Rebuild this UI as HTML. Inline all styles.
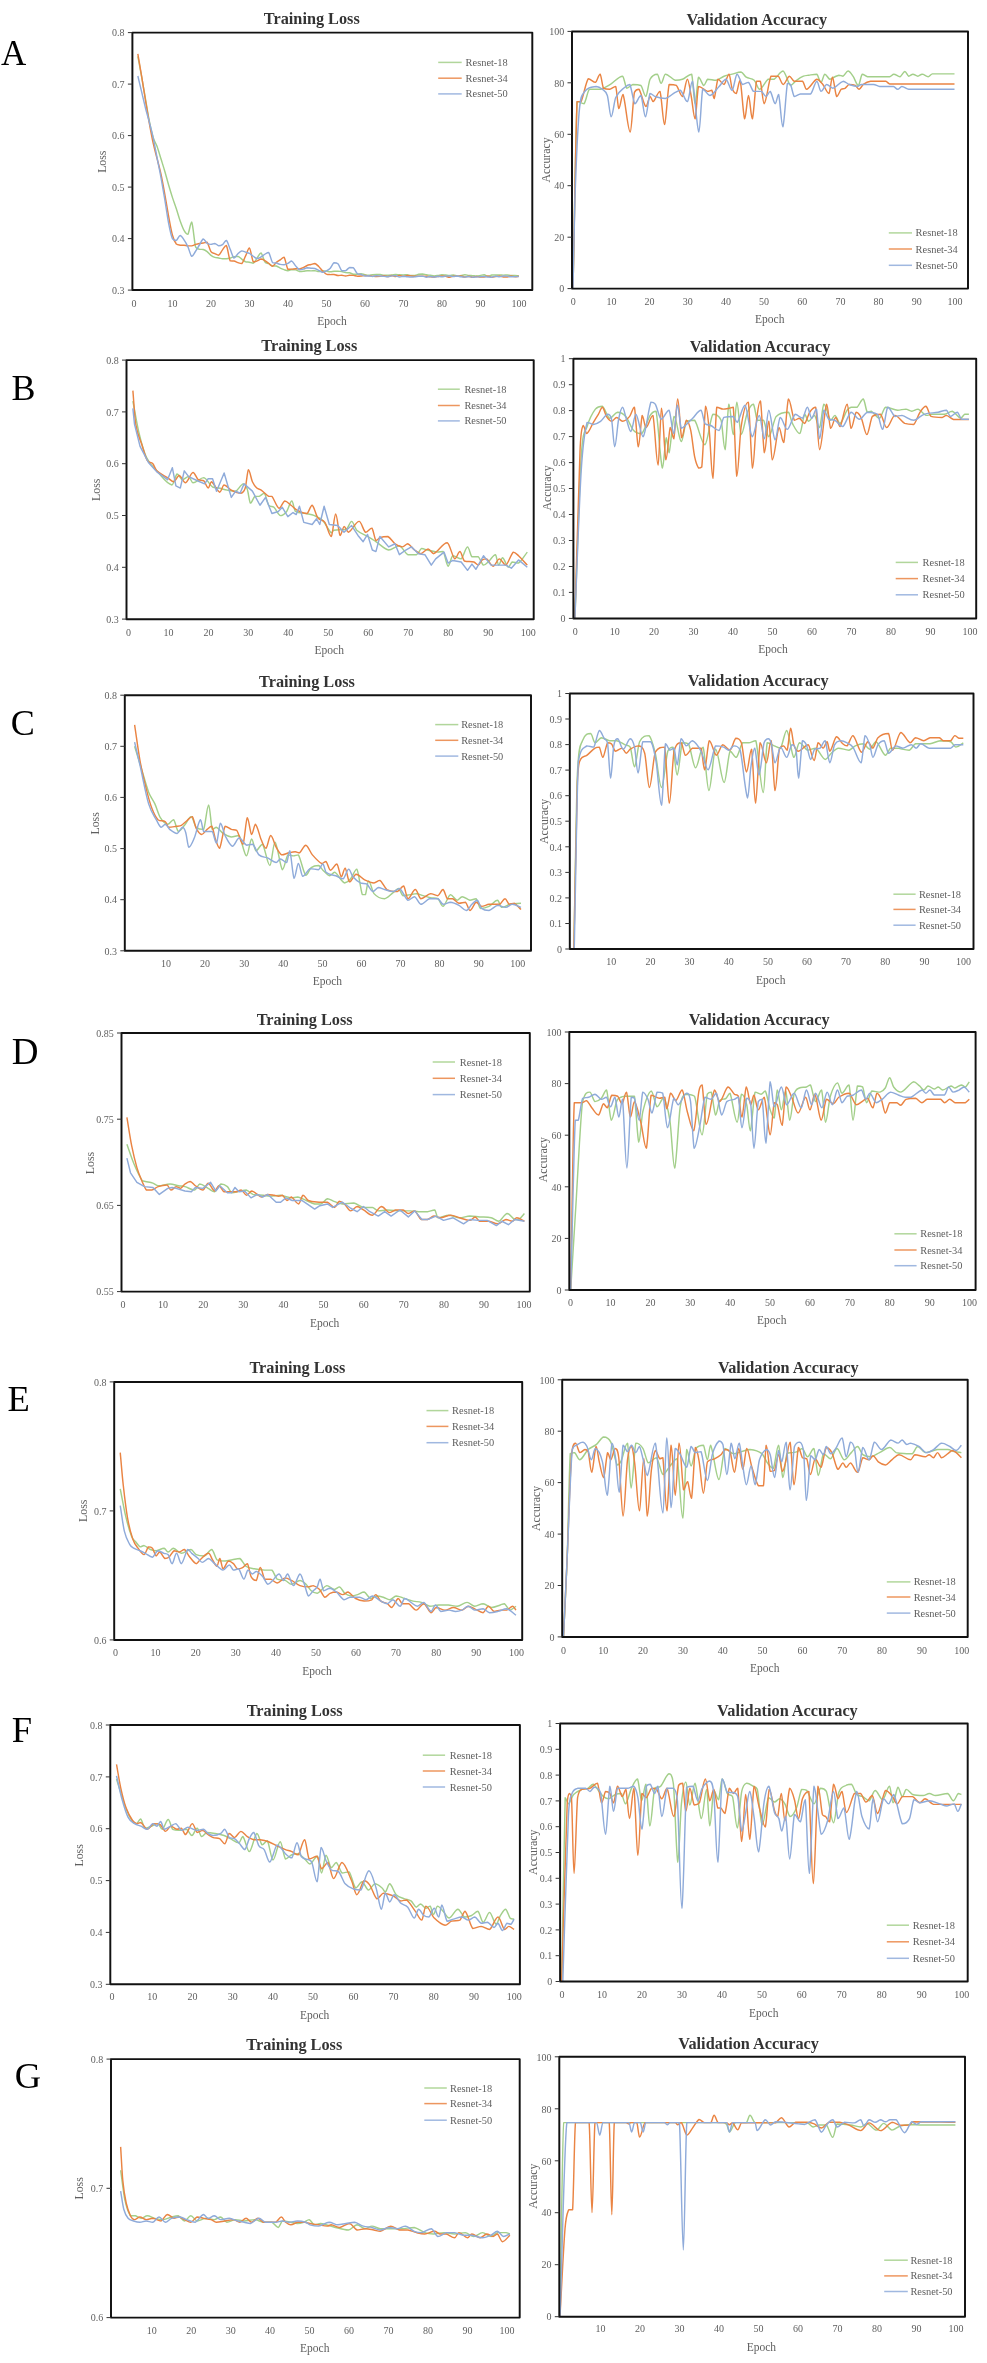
<!DOCTYPE html><html><head><meta charset="utf-8"><style>html,body{margin:0;padding:0;background:#fff;width:987px;height:2363px;overflow:hidden}svg{display:block;filter:blur(0.35px)}text{font-family:"Liberation Serif",serif}</style></head><body>
<svg width="987" height="2363" viewBox="0 0 987 2363">
<rect width="987" height="2363" fill="#fff"/>
<text x="0.9" y="64.8" font-size="35.0" fill="#000">A</text>
<text x="11.4" y="399.7" font-size="36.0" fill="#000">B</text>
<text x="10.8" y="734.6" font-size="36.0" fill="#000">C</text>
<text x="11.8" y="1063.8" font-size="37.0" fill="#000">D</text>
<text x="7.6" y="1410.9" font-size="36.5" fill="#000">E</text>
<text x="11.8" y="1742.1" font-size="36.5" fill="#000">F</text>
<text x="14.8" y="2088.0" font-size="36.5" fill="#000">G</text>
<g><clipPath id="cAL"><rect x="132.4" y="31.6" width="399.9" height="258.4"/></clipPath><path d="M137.85 56.26 C139.13 63.19 140.41 69.87 141.70 77.05 C142.98 84.23 144.26 91.91 145.54 99.32 C146.83 106.72 148.11 115.07 149.39 121.47 C150.67 127.86 151.96 133.51 153.24 137.68 C154.52 141.85 155.81 142.98 157.09 146.50 C158.37 150.02 159.65 154.68 160.94 158.79 C162.22 162.91 163.50 166.82 164.78 171.19 C166.07 175.56 167.35 180.58 168.63 184.99 C169.91 189.40 171.20 193.67 172.48 197.62 C173.76 201.57 175.05 204.80 176.33 208.68 C177.61 212.57 178.89 217.34 180.18 220.94 C181.46 224.54 182.74 228.05 184.02 230.27 C185.31 232.48 186.59 234.25 187.87 234.25 C189.15 232.89 190.44 222.09 191.72 222.09 C193.00 224.19 194.29 242.30 195.57 246.83 C196.85 249.29 198.13 248.84 199.42 249.29 C200.70 249.50 201.98 249.29 203.26 249.50 C204.55 249.90 205.83 250.68 207.11 251.65 C208.39 252.62 209.68 254.36 210.96 255.32 C212.24 256.28 213.53 256.95 214.81 257.39 C216.09 257.84 217.37 257.75 218.66 257.98 C219.94 258.21 221.22 258.65 222.50 258.79 C223.79 258.79 225.07 258.79 226.35 258.79 C227.63 258.67 228.92 258.42 230.20 258.07 C231.48 257.71 232.77 256.94 234.05 256.66 C235.33 256.37 236.61 256.36 237.90 256.36 C239.18 256.76 240.46 258.18 241.74 259.09 C243.03 259.99 244.31 261.26 245.59 261.78 C246.87 262.19 248.16 261.95 249.44 262.19 C250.72 262.42 252.01 263.19 253.29 263.19 C254.57 262.50 255.85 259.75 257.14 258.04 C258.42 256.33 259.70 252.91 260.98 252.91 C262.27 253.53 263.55 259.94 264.83 261.74 C266.11 263.54 267.40 263.02 268.68 263.70 C269.96 264.39 271.25 265.47 272.53 265.85 C273.81 265.98 275.09 265.85 276.38 265.98 C277.66 266.37 278.94 267.54 280.22 268.15 C281.51 268.76 282.79 269.22 284.07 269.64 C285.35 270.07 286.64 270.70 287.92 270.70 C289.20 270.66 290.49 269.55 291.77 269.41 C293.05 269.41 294.33 269.52 295.62 269.86 C296.90 270.20 298.18 271.20 299.46 271.43 C300.75 271.43 302.03 271.37 303.31 271.25 C304.59 271.13 305.88 270.76 307.16 270.70 C308.44 270.70 309.73 270.89 311.01 270.89 C312.29 270.88 313.57 270.64 314.86 270.64 C316.14 270.76 317.42 271.56 318.70 271.60 C319.99 271.60 321.27 270.92 322.55 270.84 C323.83 270.84 325.12 270.97 326.40 271.14 C327.68 271.30 328.97 271.79 330.25 271.82 C331.53 271.82 332.81 271.40 334.10 271.29 C335.38 271.18 336.66 271.13 337.94 271.13 C339.23 271.18 340.51 271.34 341.79 271.58 C343.07 271.83 344.36 272.39 345.64 272.60 C346.92 272.81 348.21 272.60 349.49 272.83 C350.77 273.11 352.05 274.01 353.34 274.25 C354.62 274.25 355.90 274.25 357.18 274.25 C358.47 274.14 359.75 273.61 361.03 273.61 C362.31 273.68 363.60 274.43 364.88 274.70 C366.16 274.97 367.45 275.24 368.73 275.24 C370.01 275.22 371.29 274.76 372.58 274.63 C373.86 274.49 375.14 274.44 376.42 274.43 C377.71 274.43 378.99 274.43 380.27 274.56 C381.55 274.69 382.84 275.10 384.12 275.21 C385.40 275.21 386.69 275.21 387.97 275.17 C389.25 275.13 390.53 275.10 391.82 274.97 C393.10 274.84 394.38 274.42 395.66 274.40 C396.95 274.40 398.23 274.71 399.51 274.80 C400.79 274.89 402.08 274.96 403.36 274.96 C404.64 274.95 405.93 274.71 407.21 274.71 C408.49 274.80 409.77 275.38 411.06 275.49 C412.34 275.49 413.62 275.49 414.90 275.39 C416.19 275.19 417.47 274.56 418.75 274.31 C420.03 274.07 421.32 273.94 422.60 273.94 C423.88 274.03 425.17 274.58 426.45 274.81 C427.73 275.04 429.01 275.15 430.30 275.33 C431.58 275.51 432.86 275.88 434.14 275.89 C435.43 275.89 436.71 275.62 437.99 275.42 C439.27 275.22 440.56 274.74 441.84 274.68 C443.12 274.68 444.41 274.94 445.69 275.07 C446.97 275.21 448.25 275.50 449.54 275.50 C450.82 275.47 452.10 274.91 453.38 274.91 C454.67 275.00 455.95 275.96 457.23 276.07 C458.51 276.07 459.80 275.77 461.08 275.55 C462.36 275.33 463.65 274.75 464.93 274.74 C466.21 274.74 467.49 275.28 468.78 275.43 C470.06 275.58 471.34 275.55 472.62 275.65 C473.91 275.75 475.19 276.00 476.47 276.00 C477.75 275.97 479.04 275.70 480.32 275.49 C481.60 275.27 482.89 274.73 484.17 274.73 C485.45 274.89 486.73 276.44 488.02 276.49 C489.30 276.49 490.58 275.30 491.86 275.05 C493.15 274.98 494.43 275.01 495.71 274.98 C496.99 274.95 498.28 274.86 499.56 274.86 C500.84 274.88 502.13 275.10 503.41 275.13 C504.69 275.13 505.97 275.00 507.26 275.00 C508.54 275.07 509.82 275.46 511.10 275.54 C512.39 275.54 513.67 275.46 514.95 275.46 C516.23 275.49 517.52 275.63 518.80 275.71" fill="none" stroke="#a3cf8a" stroke-width="1.45" stroke-linejoin="round" clip-path="url(#cAL)"/><path d="M137.85 53.85 C139.13 61.44 140.41 68.80 141.70 76.62 C142.98 84.43 144.26 92.93 145.54 100.75 C146.83 108.57 148.11 116.44 149.39 123.55 C150.67 130.65 151.96 137.50 153.24 143.35 C154.52 149.20 155.81 153.57 157.09 158.67 C158.37 163.77 159.65 168.02 160.94 173.93 C162.22 179.84 163.50 187.07 164.78 194.13 C166.07 201.18 167.35 209.43 168.63 216.28 C169.91 223.13 171.20 230.60 172.48 235.22 C173.76 239.85 175.05 242.36 176.33 244.02 C177.61 245.19 178.89 244.98 180.18 245.19 C181.46 245.28 182.74 245.19 184.02 245.28 C185.31 245.40 186.59 245.76 187.87 245.86 C189.15 245.86 190.44 245.86 191.72 245.86 C193.00 245.62 194.29 244.81 195.57 244.41 C196.85 244.01 198.13 243.68 199.42 243.45 C200.70 243.23 201.98 243.26 203.26 243.05 C204.55 242.84 205.83 242.17 207.11 242.17 C208.39 243.62 209.68 249.81 210.96 251.72 C212.24 253.62 213.53 253.05 214.81 253.62 C216.09 254.20 217.37 255.18 218.66 255.18 C219.94 254.56 221.22 251.49 222.50 249.87 C223.79 248.25 225.07 245.46 226.35 245.46 C227.63 247.28 228.92 258.22 230.20 260.82 C231.48 261.06 232.77 260.82 234.05 261.06 C235.33 261.36 236.61 262.23 237.90 262.65 C239.18 263.08 240.46 263.63 241.74 263.63 C243.03 262.50 244.31 258.50 245.59 255.89 C246.87 253.28 248.16 247.97 249.44 247.97 C250.72 248.98 252.01 259.77 253.29 261.93 C254.57 261.93 255.85 261.41 257.14 260.94 C258.42 260.46 259.70 259.14 260.98 259.07 C262.27 259.07 263.55 259.85 264.83 260.55 C266.11 261.25 267.40 262.33 268.68 263.28 C269.96 264.24 271.25 266.28 272.53 266.28 C273.81 266.14 275.09 263.50 276.38 262.43 C277.66 261.36 278.94 260.71 280.22 259.83 C281.51 258.96 282.79 257.18 284.07 257.18 C285.35 258.75 286.64 267.29 287.92 269.28 C289.20 269.28 290.49 269.21 291.77 269.11 C293.05 269.02 294.33 268.71 295.62 268.69 C296.90 268.69 298.18 268.97 299.46 268.97 C300.75 268.80 302.03 268.20 303.31 267.62 C304.59 267.03 305.88 265.98 307.16 265.47 C308.44 264.95 309.73 264.86 311.01 264.53 C312.29 264.19 313.57 263.48 314.86 263.48 C316.14 263.81 317.42 265.25 318.70 266.48 C319.99 267.72 321.27 269.62 322.55 270.88 C323.83 272.15 325.12 273.45 326.40 274.08 C327.68 274.62 328.97 274.56 330.25 274.62 C331.53 274.62 332.81 274.43 334.10 274.43 C335.38 274.59 336.66 275.45 337.94 275.57 C339.23 275.57 340.51 275.17 341.79 275.17 C343.07 275.24 344.36 275.99 345.64 276.01 C346.92 276.01 348.21 275.40 349.49 275.29 C350.77 275.29 352.05 275.29 353.34 275.37 C354.62 275.51 355.90 276.05 357.18 276.15 C358.47 276.15 359.75 276.10 361.03 275.98 C362.31 275.87 363.60 275.48 364.88 275.44 C366.16 275.44 367.45 275.63 368.73 275.74 C370.01 275.86 371.29 275.98 372.58 276.11 C373.86 276.24 375.14 276.48 376.42 276.52 C377.71 276.52 378.99 276.48 380.27 276.36 C381.55 276.24 382.84 275.78 384.12 275.78 C385.40 275.82 386.69 276.61 387.97 276.61 C389.25 276.55 390.53 275.49 391.82 275.46 C393.10 275.46 394.38 276.45 395.66 276.45 C396.95 276.45 398.23 275.46 399.51 275.45 C400.79 275.45 402.08 276.38 403.36 276.38 C404.64 276.38 405.93 275.52 407.21 275.43 C408.49 275.43 409.77 275.74 411.06 275.87 C412.34 276.01 413.62 276.17 414.90 276.24 C416.19 276.27 417.47 276.27 418.75 276.27 C420.03 276.25 421.32 276.11 422.60 276.11 C423.88 276.11 425.17 276.16 426.45 276.26 C427.73 276.37 429.01 276.63 430.30 276.74 C431.58 276.86 432.86 276.95 434.14 276.95 C435.43 276.92 436.71 276.70 437.99 276.53 C439.27 276.36 440.56 275.95 441.84 275.93 C443.12 275.93 444.41 276.19 445.69 276.41 C446.97 276.64 448.25 277.26 449.54 277.26 C450.82 277.21 452.10 276.28 453.38 276.11 C454.67 276.11 455.95 276.26 457.23 276.26 C458.51 276.23 459.80 275.97 461.08 275.97 C462.36 276.11 463.65 277.04 464.93 277.08 C466.21 277.08 467.49 276.23 468.78 276.23 C470.06 276.26 471.34 277.26 472.62 277.29 C473.91 277.29 475.19 276.42 476.47 276.37 C477.75 276.37 479.04 276.85 480.32 276.96 C481.60 277.03 482.89 277.03 484.17 277.03 C485.45 276.87 486.73 276.02 488.02 276.02 C489.30 276.06 490.58 277.12 491.86 277.21 C493.15 277.21 494.43 276.76 495.71 276.57 C496.99 276.38 498.28 276.06 499.56 276.06 C500.84 276.13 502.13 276.83 503.41 277.00 C504.69 277.05 505.97 277.05 507.26 277.05 C508.54 276.89 509.82 276.07 511.10 276.02 C512.39 276.02 513.67 276.68 514.95 276.72 C516.23 276.72 517.52 276.42 518.80 276.27" fill="none" stroke="#ea8443" stroke-width="1.45" stroke-linejoin="round" clip-path="url(#cAL)"/><path d="M137.85 76.00 C139.13 81.39 140.41 86.80 141.70 92.17 C142.98 97.54 144.26 103.17 145.54 108.21 C146.83 113.25 148.11 117.42 149.39 122.39 C150.67 127.37 151.96 132.10 153.24 138.03 C154.52 143.96 155.81 151.42 157.09 157.96 C158.37 164.50 159.65 170.35 160.94 177.26 C162.22 184.17 163.50 191.75 164.78 199.42 C166.07 207.10 167.35 216.76 168.63 223.32 C169.91 229.89 171.20 235.95 172.48 238.81 C173.76 240.44 175.05 240.44 176.33 240.44 C177.61 239.88 178.89 235.53 180.18 235.43 C181.46 235.43 182.74 237.95 184.02 239.82 C185.31 241.69 186.59 243.88 187.87 246.63 C189.15 249.39 190.44 255.57 191.72 256.34 C193.00 256.34 194.29 253.17 195.57 251.28 C196.85 249.39 198.13 247.05 199.42 245.01 C200.70 242.97 201.98 239.35 203.26 239.06 C204.55 239.06 205.83 242.38 207.11 243.26 C208.39 244.14 209.68 244.34 210.96 244.36 C212.24 244.36 213.53 243.42 214.81 243.42 C216.09 243.64 217.37 245.49 218.66 245.69 C219.94 245.69 221.22 245.46 222.50 244.58 C223.79 243.70 225.07 240.43 226.35 240.43 C227.63 241.21 228.92 246.34 230.20 249.29 C231.48 252.24 232.77 257.38 234.05 258.12 C235.33 258.12 236.61 254.95 237.90 253.74 C239.18 252.53 240.46 251.15 241.74 250.88 C243.03 250.88 244.31 251.69 245.59 252.12 C246.87 252.55 248.16 252.78 249.44 253.47 C250.72 254.16 252.01 255.40 253.29 256.25 C254.57 257.10 255.85 258.44 257.14 258.57 C258.42 258.57 259.70 257.70 260.98 256.99 C262.27 256.27 263.55 255.01 264.83 254.25 C266.11 253.50 267.40 252.46 268.68 252.46 C269.96 253.86 271.25 260.90 272.53 262.67 C273.81 263.08 275.09 262.80 276.38 263.08 C277.66 263.37 278.94 264.13 280.22 264.39 C281.51 264.66 282.79 264.69 284.07 264.69 C285.35 264.51 286.64 263.90 287.92 263.30 C289.20 262.70 290.49 261.09 291.77 261.09 C293.05 261.52 294.33 264.42 295.62 265.86 C296.90 267.31 298.18 269.21 299.46 269.75 C300.75 269.75 302.03 269.44 303.31 269.12 C304.59 268.80 305.88 267.98 307.16 267.84 C308.44 267.84 309.73 268.13 311.01 268.25 C312.29 268.36 313.57 268.25 314.86 268.55 C316.14 268.89 317.42 269.68 318.70 270.32 C319.99 270.96 321.27 272.27 322.55 272.38 C323.83 272.38 325.12 271.66 326.40 270.95 C327.68 270.25 328.97 269.52 330.25 268.14 C331.53 266.76 332.81 263.41 334.10 262.68 C335.38 262.68 336.66 262.68 337.94 263.77 C339.23 265.12 340.51 269.61 341.79 270.76 C343.07 270.76 344.36 270.76 345.64 270.68 C346.92 270.15 348.21 268.05 349.49 267.56 C350.77 267.56 352.05 267.56 353.34 267.74 C354.62 268.73 355.90 272.32 357.18 273.45 C358.47 274.56 359.75 274.13 361.03 274.56 C362.31 274.98 363.60 275.79 364.88 276.00 C366.16 276.00 367.45 275.83 368.73 275.83 C370.01 275.90 371.29 276.45 372.58 276.45 C373.86 276.42 375.14 275.75 376.42 275.68 C377.71 275.68 378.99 275.89 380.27 276.00 C381.55 276.11 382.84 276.23 384.12 276.36 C385.40 276.48 386.69 276.73 387.97 276.73 C389.25 276.65 390.53 276.01 391.82 275.86 C393.10 275.79 394.38 275.79 395.66 275.79 C396.95 275.99 398.23 276.94 399.51 277.01 C400.79 277.01 402.08 276.28 403.36 276.23 C404.64 276.23 405.93 276.58 407.21 276.72 C408.49 276.85 409.77 277.01 411.06 277.04 C412.34 277.04 413.62 276.99 414.90 276.86 C416.19 276.73 417.47 276.39 418.75 276.27 C420.03 276.15 421.32 276.14 422.60 276.14 C423.88 276.29 425.17 277.12 426.45 277.17 C427.73 277.17 429.01 276.46 430.30 276.46 C431.58 276.46 432.86 277.17 434.14 277.17 C435.43 277.15 436.71 276.39 437.99 276.33 C439.27 276.33 440.56 276.81 441.84 276.81 C443.12 276.78 444.41 276.27 445.69 276.13 C446.97 276.01 448.25 276.01 449.54 276.01 C450.82 276.09 452.10 276.60 453.38 276.60 C454.67 276.59 455.95 275.99 457.23 275.99 C458.51 276.03 459.80 276.65 461.08 276.84 C462.36 277.03 463.65 277.13 464.93 277.13 C466.21 277.07 467.49 276.48 468.78 276.48 C470.06 276.49 471.34 277.10 472.62 277.18 C473.91 277.18 475.19 277.06 476.47 276.98 C477.75 276.90 479.04 276.80 480.32 276.72 C481.60 276.63 482.89 276.47 484.17 276.47 C485.45 276.52 486.73 276.91 488.02 277.03 C489.30 277.15 490.58 277.17 491.86 277.17 C493.15 277.02 494.43 276.21 495.71 276.15 C496.99 276.15 498.28 276.83 499.56 276.83 C500.84 276.82 502.13 276.16 503.41 276.04 C504.69 276.04 505.97 276.04 507.26 276.11 C508.54 276.23 509.82 276.67 511.10 276.76 C512.39 276.76 513.67 276.68 514.95 276.65 C516.23 276.62 517.52 276.60 518.80 276.58" fill="none" stroke="#8fabda" stroke-width="1.45" stroke-linejoin="round" clip-path="url(#cAL)"/><rect x="132.4" y="32.6" width="399.9" height="257.4" fill="none" stroke="#111" stroke-width="1.95" stroke-linejoin="round"/><line x1="127.9" y1="290.1" x2="132.4" y2="290.1" stroke="#333" stroke-width="1"/><text x="124.6" y="293.8" font-size="10" fill="#5f5f5f" text-anchor="end">0.3</text><line x1="127.9" y1="238.6" x2="132.4" y2="238.6" stroke="#333" stroke-width="1"/><text x="124.6" y="242.3" font-size="10" fill="#5f5f5f" text-anchor="end">0.4</text><line x1="127.9" y1="187.1" x2="132.4" y2="187.1" stroke="#333" stroke-width="1"/><text x="124.6" y="190.8" font-size="10" fill="#5f5f5f" text-anchor="end">0.5</text><line x1="127.9" y1="135.6" x2="132.4" y2="135.6" stroke="#333" stroke-width="1"/><text x="124.6" y="139.3" font-size="10" fill="#5f5f5f" text-anchor="end">0.6</text><line x1="127.9" y1="84.1" x2="132.4" y2="84.1" stroke="#333" stroke-width="1"/><text x="124.6" y="87.8" font-size="10" fill="#5f5f5f" text-anchor="end">0.7</text><line x1="127.9" y1="32.6" x2="132.4" y2="32.6" stroke="#333" stroke-width="1"/><text x="124.6" y="36.3" font-size="10" fill="#5f5f5f" text-anchor="end">0.8</text><text x="134.0" y="307.2" font-size="10" fill="#5f5f5f" text-anchor="middle">0</text><text x="172.5" y="307.2" font-size="10" fill="#5f5f5f" text-anchor="middle">10</text><text x="211.0" y="307.2" font-size="10" fill="#5f5f5f" text-anchor="middle">20</text><text x="249.5" y="307.2" font-size="10" fill="#5f5f5f" text-anchor="middle">30</text><text x="288.0" y="307.2" font-size="10" fill="#5f5f5f" text-anchor="middle">40</text><text x="326.6" y="307.2" font-size="10" fill="#5f5f5f" text-anchor="middle">50</text><text x="365.1" y="307.2" font-size="10" fill="#5f5f5f" text-anchor="middle">60</text><text x="403.6" y="307.2" font-size="10" fill="#5f5f5f" text-anchor="middle">70</text><text x="442.1" y="307.2" font-size="10" fill="#5f5f5f" text-anchor="middle">80</text><text x="480.6" y="307.2" font-size="10" fill="#5f5f5f" text-anchor="middle">90</text><text x="519.1" y="307.2" font-size="10" fill="#5f5f5f" text-anchor="middle">100</text><text x="311.8" y="24.0" font-size="16.25" font-weight="bold" fill="#333" text-anchor="middle">Training Loss</text><line x1="438.2" y1="62.4" x2="461.7" y2="62.4" stroke="#a3cf8a" stroke-width="1.5" stroke-opacity="0.85"/><text x="465.6" y="65.9" font-size="10.4" fill="#5f5f5f">Resnet-18</text><line x1="438.2" y1="78.2" x2="461.7" y2="78.2" stroke="#ea8443" stroke-width="1.5" stroke-opacity="0.85"/><text x="465.6" y="81.7" font-size="10.4" fill="#5f5f5f">Resnet-34</text><line x1="438.2" y1="93.9" x2="461.7" y2="93.9" stroke="#8fabda" stroke-width="1.5" stroke-opacity="0.85"/><text x="465.6" y="97.4" font-size="10.4" fill="#5f5f5f">Resnet-50</text><text x="0" y="3.9" font-size="11.8" fill="#5f5f5f" text-anchor="middle" transform="translate(101.7 161.7) rotate(-90)">Loss</text><text x="332.0" y="325.0" font-size="11.5" fill="#5f5f5f" text-anchor="middle">Epoch</text></g>
<g><clipPath id="cAR"><rect x="572.0" y="30.4" width="396.0" height="258.2"/></clipPath><path d="M573.00 288.40 C574.36 226.14 575.72 124.35 577.08 101.63 C579.41 101.63 581.74 103.69 584.06 103.69 C585.84 101.91 587.62 90.86 589.40 89.30 C593.09 89.30 596.78 89.30 600.47 89.30 C603.77 88.53 607.08 86.38 610.39 84.42 C614.46 82.01 618.53 76.20 622.60 76.20 C623.99 76.53 625.39 87.16 626.79 88.27 C628.83 88.27 630.86 84.83 632.90 84.42 C635.57 84.42 638.24 84.42 640.91 85.45 C642.56 86.99 644.21 96.50 645.87 96.50 C647.27 95.55 648.66 82.02 650.06 79.28 C652.48 74.57 654.90 74.15 657.31 74.15 C658.58 74.62 659.85 83.39 661.13 83.39 C662.53 83.39 663.92 74.45 665.32 74.15 C668.63 74.15 671.94 79.32 675.24 80.31 C677.66 80.31 680.07 80.19 682.49 79.28 C685.54 78.14 688.59 74.15 691.65 74.15 C692.79 76.36 693.94 103.18 695.08 103.69 C696.22 103.69 697.37 79.61 698.51 77.23 C700.29 77.23 702.07 85.05 703.85 85.45 C705.13 85.45 706.40 79.82 707.67 79.28 C710.47 79.28 713.26 80.31 716.06 80.31 C718.73 79.81 721.40 77.23 724.07 76.20 C726.74 75.17 729.41 74.78 732.09 74.15 C735.14 73.41 738.19 72.09 741.24 72.09 C742.89 72.45 744.55 76.18 746.20 77.23 C748.87 78.92 751.54 77.90 754.21 80.31 C755.99 81.92 757.77 89.30 759.55 89.30 C762.35 89.09 765.15 81.22 767.95 79.28 C769.98 79.28 772.02 79.28 774.05 79.28 C777.10 77.64 780.15 71.06 783.21 71.06 C785.62 71.97 788.04 83.78 790.46 85.45 C792.49 85.45 794.52 81.76 796.56 80.31 C798.85 78.68 801.14 77.16 803.43 76.20 C805.21 75.45 806.99 75.45 808.77 75.17 C811.44 74.76 814.11 74.15 816.78 74.15 C818.18 74.97 819.58 82.37 820.98 82.37 C822.25 82.37 823.52 74.59 824.79 74.15 C826.44 74.15 828.10 78.73 829.75 79.28 C831.15 79.28 832.55 77.86 833.95 77.23 C835.60 76.49 837.25 75.36 838.91 75.17 C840.30 75.17 841.70 76.20 843.10 76.20 C844.76 75.46 846.41 71.06 848.06 71.06 C849.71 71.06 851.37 73.89 853.02 76.20 C854.80 78.69 856.58 85.45 858.36 85.45 C859.63 85.16 860.91 75.36 862.18 74.15 C863.96 74.15 865.74 76.55 867.52 76.71 C874.89 76.71 882.27 76.71 889.64 76.71 C891.04 76.58 892.44 74.15 893.84 74.15 C895.88 74.15 897.91 76.71 899.95 76.71 C901.60 76.33 903.25 71.67 904.90 71.58 C906.18 71.58 907.45 75.79 908.72 76.20 C910.12 76.20 911.52 74.15 912.92 74.15 C914.57 74.15 916.22 76.20 917.88 76.20 C919.27 76.20 920.67 74.15 922.07 74.15 C924.11 74.25 926.14 76.71 928.18 76.71 C929.58 76.68 930.97 74.04 932.37 73.89 C939.75 73.89 947.12 73.89 954.50 73.89" fill="none" stroke="#a3cf8a" stroke-width="1.45" stroke-linejoin="round" clip-path="url(#cAR)"/><path d="M573.00 288.40 C574.36 226.14 575.72 133.35 577.08 101.63 C578.39 101.63 579.70 101.63 581.01 101.63 C583.43 96.69 585.84 81.98 588.26 78.77 C590.68 78.77 593.09 82.37 595.51 82.37 C597.03 81.77 598.56 74.15 600.09 74.15 C601.23 74.99 602.38 86.46 603.52 88.27 C605.55 89.30 607.59 89.30 609.62 89.30 C611.66 89.00 613.69 86.48 615.73 86.48 C616.75 88.62 617.76 107.45 618.78 108.57 C620.18 108.57 621.58 94.44 622.98 94.44 C625.39 99.38 627.81 131.95 630.23 131.95 C631.62 131.70 633.02 99.18 634.42 92.39 C635.95 89.30 637.47 89.30 639.00 89.30 C641.29 92.13 643.58 105.03 645.87 106.51 C647.27 106.51 648.66 97.44 650.06 96.50 C651.08 96.50 652.10 101.63 653.12 101.63 C655.40 100.45 657.69 91.36 659.98 91.36 C661.51 94.41 663.03 124.50 664.56 124.50 C666.09 123.34 667.61 89.46 669.14 84.42 C671.55 84.42 673.97 84.42 676.39 85.45 C678.42 87.29 680.46 96.50 682.49 96.50 C684.14 95.57 685.80 79.28 687.45 79.28 C688.72 79.28 689.99 89.90 691.26 96.50 C692.54 103.09 693.81 118.85 695.08 118.85 C696.22 117.26 697.37 88.98 698.51 86.48 C701.57 86.48 704.62 90.48 707.67 91.36 C709.07 91.36 710.47 90.33 711.87 90.33 C712.63 91.18 713.39 98.55 714.15 98.55 C715.43 96.25 716.70 81.09 717.97 79.28 C720.00 79.28 722.04 84.42 724.07 84.42 C725.73 83.65 727.38 74.15 729.03 74.15 C730.05 74.63 731.07 85.57 732.09 88.27 C733.48 91.99 734.88 93.41 736.28 93.41 C737.55 92.15 738.83 80.31 740.10 80.31 C741.62 84.94 743.15 116.09 744.67 118.85 C745.95 118.85 747.22 95.47 748.49 95.47 C749.76 95.47 751.03 118.85 752.31 118.85 C753.70 116.38 755.10 87.89 756.50 81.34 C757.77 81.34 759.04 81.34 760.32 81.34 C761.59 85.06 762.86 103.69 764.13 103.69 C766.42 102.59 768.71 80.66 771.00 76.20 C773.41 76.20 775.83 76.20 778.25 76.20 C779.90 77.31 781.55 84.42 783.21 84.42 C785.24 84.42 787.28 76.77 789.31 76.20 C790.96 76.20 792.62 80.70 794.27 81.34 C797.07 81.34 799.87 81.34 802.66 81.34 C803.93 82.17 805.21 89.30 806.48 89.30 C809.91 88.80 813.35 80.31 816.78 79.28 C818.81 79.28 820.85 82.07 822.88 84.42 C824.92 86.78 826.95 93.41 828.99 93.41 C830.13 92.55 831.28 77.23 832.42 77.23 C833.82 77.79 835.22 94.57 836.62 96.50 C838.14 96.50 839.67 90.80 841.19 89.30 C842.47 88.27 843.74 89.05 845.01 88.27 C846.41 87.42 847.81 84.81 849.21 84.42 C851.24 84.42 853.28 84.45 855.31 85.45 C856.58 86.07 857.85 89.30 859.12 89.30 C860.52 89.12 861.92 85.39 863.32 84.42 C865.74 82.74 868.15 81.67 870.57 81.34 C875.66 81.34 880.74 81.34 885.83 81.34 C887.10 81.51 888.37 83.86 889.64 83.91 C911.26 83.91 932.88 83.91 954.50 83.91" fill="none" stroke="#ea8443" stroke-width="1.45" stroke-linejoin="round" clip-path="url(#cAR)"/><path d="M573.00 288.40 C573.64 258.86 574.27 218.07 574.91 199.77 C576.31 159.50 577.71 129.09 579.10 112.68 C580.76 93.29 582.41 94.91 584.06 92.39 C588.13 86.48 592.20 87.16 596.27 86.48 C598.31 86.48 600.34 87.65 602.38 89.30 C604.03 90.65 605.68 90.29 607.34 95.47 C608.61 99.45 609.88 116.48 611.15 116.79 C612.68 116.79 614.20 100.81 615.73 97.52 C618.78 90.96 621.83 90.08 624.88 87.25 C626.54 85.71 628.19 84.42 629.84 84.42 C631.50 87.16 633.15 102.04 634.80 103.69 C636.84 103.69 638.87 95.47 640.91 95.47 C642.43 97.34 643.96 116.79 645.49 116.79 C647.01 116.45 648.54 96.66 650.06 93.41 C651.72 93.41 653.37 95.94 655.02 96.50 C658.46 97.65 661.89 98.55 665.32 98.55 C668.63 97.88 671.94 94.17 675.24 92.39 C677.02 91.43 678.80 90.33 680.58 90.33 C682.87 92.06 685.16 101.63 687.45 101.63 C689.10 100.38 690.76 81.34 692.41 81.34 C694.57 87.06 696.73 130.28 698.89 131.95 C700.17 131.95 701.44 93.50 702.71 89.30 C705.13 89.30 707.54 95.47 709.96 95.47 C713.01 94.94 716.06 89.56 719.11 86.48 C721.40 84.16 723.69 79.28 725.98 79.28 C728.02 79.89 730.05 90.33 732.09 90.33 C733.74 89.56 735.39 75.09 737.04 74.15 C738.83 74.15 740.61 83.14 742.39 84.42 C744.42 84.42 746.46 82.37 748.49 82.37 C750.14 83.40 751.80 90.21 753.45 91.36 C756.12 91.36 758.79 91.36 761.46 91.36 C762.99 91.98 764.51 96.50 766.04 96.50 C767.44 96.50 768.84 91.36 770.24 91.36 C771.89 92.66 773.54 103.08 775.19 103.69 C776.34 103.69 777.48 94.44 778.63 94.44 C780.03 98.68 781.43 126.81 782.83 126.81 C784.35 124.89 785.88 91.87 787.40 83.39 C788.42 83.39 789.44 83.39 790.46 84.42 C791.73 86.85 793.00 95.28 794.27 96.50 C796.30 96.50 798.34 94.25 800.37 93.93 C803.81 93.93 807.24 93.93 810.67 93.93 C812.71 92.37 814.74 81.85 816.78 81.34 C818.18 81.34 819.58 90.92 820.98 91.36 C822.88 91.36 824.79 84.92 826.70 84.42 C828.73 84.42 830.77 88.27 832.80 88.27 C836.24 87.63 839.67 82.15 843.10 81.34 C845.14 81.34 847.17 83.68 849.21 84.42 C851.88 85.39 854.55 86.48 857.22 86.48 C858.62 86.48 860.02 84.60 861.41 84.42 C865.48 84.42 869.55 84.42 873.62 84.42 C875.66 84.65 877.69 86.27 879.73 86.48 C884.30 86.48 888.88 86.48 893.46 86.48 C894.86 86.70 896.26 89.30 897.66 89.30 C899.06 89.30 900.45 86.48 901.85 86.48 C904.14 86.48 906.43 89.18 908.72 89.30 C923.98 89.30 939.24 89.30 954.50 89.30" fill="none" stroke="#8fabda" stroke-width="1.45" stroke-linejoin="round" clip-path="url(#cAR)"/><rect x="572.0" y="31.4" width="396.0" height="257.2" fill="none" stroke="#111" stroke-width="1.95" stroke-linejoin="round"/><line x1="567.5" y1="288.6" x2="572.0" y2="288.6" stroke="#333" stroke-width="1"/><text x="564.2" y="292.3" font-size="10" fill="#5f5f5f" text-anchor="end">0</text><line x1="567.5" y1="237.2" x2="572.0" y2="237.2" stroke="#333" stroke-width="1"/><text x="564.2" y="240.9" font-size="10" fill="#5f5f5f" text-anchor="end">20</text><line x1="567.5" y1="185.7" x2="572.0" y2="185.7" stroke="#333" stroke-width="1"/><text x="564.2" y="189.4" font-size="10" fill="#5f5f5f" text-anchor="end">40</text><line x1="567.5" y1="134.3" x2="572.0" y2="134.3" stroke="#333" stroke-width="1"/><text x="564.2" y="138.0" font-size="10" fill="#5f5f5f" text-anchor="end">60</text><line x1="567.5" y1="82.8" x2="572.0" y2="82.8" stroke="#333" stroke-width="1"/><text x="564.2" y="86.5" font-size="10" fill="#5f5f5f" text-anchor="end">80</text><line x1="567.5" y1="31.4" x2="572.0" y2="31.4" stroke="#333" stroke-width="1"/><text x="564.2" y="35.1" font-size="10" fill="#5f5f5f" text-anchor="end">100</text><text x="573.2" y="305.0" font-size="10" fill="#5f5f5f" text-anchor="middle">0</text><text x="611.4" y="305.0" font-size="10" fill="#5f5f5f" text-anchor="middle">10</text><text x="649.6" y="305.0" font-size="10" fill="#5f5f5f" text-anchor="middle">20</text><text x="687.7" y="305.0" font-size="10" fill="#5f5f5f" text-anchor="middle">30</text><text x="725.9" y="305.0" font-size="10" fill="#5f5f5f" text-anchor="middle">40</text><text x="764.1" y="305.0" font-size="10" fill="#5f5f5f" text-anchor="middle">50</text><text x="802.3" y="305.0" font-size="10" fill="#5f5f5f" text-anchor="middle">60</text><text x="840.5" y="305.0" font-size="10" fill="#5f5f5f" text-anchor="middle">70</text><text x="878.6" y="305.0" font-size="10" fill="#5f5f5f" text-anchor="middle">80</text><text x="916.8" y="305.0" font-size="10" fill="#5f5f5f" text-anchor="middle">90</text><text x="955.0" y="305.0" font-size="10" fill="#5f5f5f" text-anchor="middle">100</text><text x="756.8" y="25.0" font-size="16.25" font-weight="bold" fill="#333" text-anchor="middle">Validation Accuracy</text><line x1="888.8" y1="232.9" x2="912.0" y2="232.9" stroke="#a3cf8a" stroke-width="1.5" stroke-opacity="0.85"/><text x="915.6" y="236.4" font-size="10.4" fill="#5f5f5f">Resnet-18</text><line x1="888.8" y1="249.0" x2="912.0" y2="249.0" stroke="#ea8443" stroke-width="1.5" stroke-opacity="0.85"/><text x="915.6" y="252.5" font-size="10.4" fill="#5f5f5f">Resnet-34</text><line x1="888.8" y1="265.3" x2="912.0" y2="265.3" stroke="#8fabda" stroke-width="1.5" stroke-opacity="0.85"/><text x="915.6" y="268.8" font-size="10.4" fill="#5f5f5f">Resnet-50</text><text x="0" y="3.9" font-size="11.8" fill="#5f5f5f" text-anchor="middle" transform="translate(546.0 160.0) rotate(-90)">Accuracy</text><text x="769.8" y="323.4" font-size="11.5" fill="#5f5f5f" text-anchor="middle">Epoch</text></g>
<g><clipPath id="cBL"><rect x="126.5" y="359.1" width="407.2" height="260.1"/></clipPath><path d="M132.88 401.06 C134.88 411.48 136.87 424.04 138.86 432.31 C141.38 442.79 143.91 451.89 146.43 457.31 C149.88 464.73 153.34 467.11 156.79 470.85 C161.83 476.31 166.88 484.14 171.93 484.91 C173.65 484.91 175.38 474.84 177.11 473.98 C178.83 473.98 180.56 479.32 182.29 479.70 C184.41 479.70 186.54 476.58 188.66 476.58 C190.12 477.00 191.58 482.73 193.04 482.83 C196.63 482.83 200.21 477.62 203.80 477.62 C206.72 478.25 209.64 484.93 212.56 487.00 C214.56 488.04 216.55 487.62 218.54 488.04 C221.46 488.66 224.38 489.59 227.30 490.12 C230.09 490.63 232.88 491.16 235.67 491.16 C238.19 490.17 240.72 484.33 243.24 483.87 C244.57 483.87 245.90 485.51 247.22 489.08 C248.29 491.93 249.35 502.12 250.41 503.14 C251.87 503.14 253.33 497.50 254.79 496.37 C256.26 496.37 257.72 496.37 259.18 496.37 C260.90 495.81 262.63 493.25 264.36 493.25 C265.82 494.60 267.28 503.08 268.74 505.22 C270.46 507.31 272.19 505.75 273.92 507.31 C276.04 509.22 278.17 514.95 280.29 515.64 C282.42 515.64 284.54 514.16 286.67 511.47 C288.39 509.29 290.12 501.06 291.85 501.06 C293.04 501.06 294.24 510.40 295.43 511.47 C298.88 513.56 302.34 512.80 305.79 513.56 C308.71 514.19 311.63 514.40 314.55 515.64 C317.34 516.83 320.13 517.98 322.92 520.85 C325.71 523.71 328.50 530.40 331.29 532.83 C332.08 532.83 332.88 530.41 333.68 530.22 C337.93 529.20 342.18 530.22 346.43 529.18 C348.15 528.33 349.88 521.37 351.61 521.37 C353.33 521.54 355.06 528.67 356.78 530.22 C361.03 534.05 365.28 534.97 369.53 537.51 C371.66 538.79 373.78 540.29 375.91 541.68 C380.16 544.46 384.41 549.26 388.66 550.01 C392.24 550.01 395.83 545.85 399.41 545.85 C402.20 546.53 404.99 553.26 407.78 554.70 C410.70 554.70 413.62 554.70 416.54 554.70 C418.27 553.93 420.00 549.20 421.72 548.45 C423.58 548.45 425.44 549.59 427.30 550.01 C430.75 550.80 434.21 551.76 437.66 552.10 C439.52 552.10 441.38 551.58 443.24 551.58 C444.83 553.74 446.42 565.46 448.02 566.16 C449.61 566.16 451.21 556.63 452.80 555.74 C455.59 555.74 458.38 558.87 461.17 558.87 C463.29 557.59 465.42 547.30 467.54 546.89 C469.00 546.89 470.46 555.44 471.92 556.78 C474.05 556.78 476.17 556.78 478.30 556.78 C480.02 558.03 481.75 564.45 483.48 565.12 C485.34 565.12 487.19 562.57 489.05 560.95 C491.18 559.10 493.30 554.70 495.43 554.70 C496.49 555.16 497.55 564.65 498.62 565.12 C499.94 565.12 501.27 557.82 502.60 557.82 C504.46 558.23 506.32 566.39 508.18 567.20 C509.50 567.20 510.83 562.53 512.16 561.99 C514.29 561.99 516.41 563.03 518.54 563.03 C521.46 561.12 524.38 555.74 527.30 552.10" fill="none" stroke="#a3cf8a" stroke-width="1.45" stroke-linejoin="round" clip-path="url(#cBL)"/><path d="M132.88 390.65 C133.81 401.76 134.74 418.43 135.67 423.98 C137.80 436.66 139.92 438.63 142.05 445.33 C143.77 450.78 145.50 457.48 147.23 460.44 C149.05 463.55 150.87 461.58 152.68 463.56 C154.05 465.05 155.42 469.56 156.79 470.85 C160.37 474.24 163.96 475.33 167.54 477.62 C169.67 478.98 171.79 481.79 173.92 481.79 C175.65 481.48 177.37 475.54 179.10 475.54 C181.22 475.73 183.35 482.83 185.47 482.83 C188.00 482.26 190.52 473.03 193.04 472.41 C194.77 472.41 196.50 478.37 198.22 479.70 C200.08 480.75 201.94 479.70 203.80 480.75 C205.26 481.97 206.72 487.84 208.18 488.04 C209.24 488.04 210.31 481.79 211.37 481.79 C214.16 482.79 216.95 491.52 219.74 492.20 C221.20 492.20 222.66 485.18 224.12 484.91 C226.51 484.91 228.90 488.93 231.29 490.12 C234.48 491.71 237.66 493.25 240.85 493.25 C242.31 493.03 243.77 492.56 245.23 488.04 C246.30 484.75 247.36 470.74 248.42 469.81 C249.75 469.81 251.08 478.89 252.40 481.79 C253.86 484.97 255.33 486.65 256.79 488.04 C258.25 489.43 259.71 489.10 261.17 490.12 C263.69 491.88 266.22 494.90 268.74 496.37 C269.80 496.37 270.86 496.37 271.93 496.37 C274.32 499.13 276.71 507.47 279.10 508.35 C280.96 508.35 282.82 501.54 284.67 501.06 C286.80 501.06 288.92 503.66 291.05 505.22 C293.17 506.79 295.30 509.32 297.42 510.43 C300.61 512.10 303.80 513.56 306.98 513.56 C308.71 512.95 310.44 505.22 312.16 505.22 C314.02 505.94 315.88 515.22 317.74 517.72 C320.13 520.95 322.52 519.10 324.91 522.41 C327.04 525.35 329.16 536.47 331.29 536.47 C332.75 535.34 334.21 514.25 335.67 514.08 C337.13 514.08 338.59 533.25 340.05 535.43 C341.38 535.43 342.71 527.07 344.04 526.58 C345.50 526.58 346.96 532.31 348.42 532.31 C352.00 531.07 355.59 521.37 359.18 521.37 C361.30 521.37 363.42 531.18 365.55 532.31 C367.67 532.31 369.80 528.14 371.92 528.14 C373.25 529.21 374.58 539.15 375.91 540.64 C377.37 540.64 378.83 538.02 380.29 537.51 C382.81 536.63 385.34 536.47 387.86 536.47 C390.25 537.49 392.64 542.07 395.03 543.76 C397.55 545.55 400.08 546.89 402.60 546.89 C404.33 546.89 406.05 543.76 407.78 543.76 C410.04 544.35 412.30 548.31 414.55 550.01 C416.68 551.61 418.80 553.66 420.93 553.66 C423.32 553.47 425.71 548.97 428.10 548.97 C429.96 548.97 431.82 553.66 433.68 553.66 C438.19 552.18 442.71 542.72 447.22 542.72 C449.74 543.34 452.27 557.11 454.79 558.87 C456.52 558.87 458.24 551.58 459.97 551.58 C461.43 551.89 462.89 559.86 464.35 560.95 C467.54 561.99 470.73 561.04 473.91 561.99 C475.38 562.43 476.84 565.12 478.30 565.12 C479.62 564.79 480.95 560.90 482.28 559.91 C483.74 558.87 485.20 558.87 486.66 558.87 C488.79 560.10 490.91 566.16 493.04 566.16 C495.16 566.16 497.29 559.04 499.41 558.87 C501.54 558.87 503.66 565.12 505.79 565.12 C508.31 563.89 510.83 553.95 513.36 552.10 C515.08 552.10 516.81 554.13 518.54 555.74 C521.46 558.47 524.38 561.99 527.30 565.12" fill="none" stroke="#ea8443" stroke-width="1.45" stroke-linejoin="round" clip-path="url(#cBL)"/><path d="M132.88 408.36 L134.48 423.98 L140.06 446.37 L148.42 462.52 L156.79 471.89 L167.54 479.70 L172.33 467.73 L175.91 485.95 L180.29 488.04 L184.28 470.85 L188.66 476.58 L197.42 480.75 L204.60 483.87 L208.18 478.66 L212.56 478.66 L216.55 491.16 L224.12 472.93 L231.29 497.41 L235.67 491.16 L240.05 493.25 L244.04 483.87 L252.40 491.16 L259.97 505.22 L265.55 497.41 L271.93 513.56 L278.30 511.47 L282.28 507.31 L287.86 516.68 L293.04 512.52 L296.23 514.60 L299.42 506.27 L303.80 522.41 L312.16 524.49 L316.55 518.76 L319.73 524.49 L324.12 506.27 L329.30 524.49 L337.66 525.54 L344.04 532.31 L351.61 525.54 L357.98 535.43 L363.16 541.68 L367.54 534.39 L372.32 550.01 L375.91 551.58 L379.89 536.47 L388.66 546.89 L395.03 543.76 L399.41 554.70 L405.79 550.01 L411.37 546.89 L418.54 553.66 L424.91 554.70 L431.29 565.12 L435.67 558.87 L444.03 552.10 L448.02 563.03 L452.80 560.43 L461.17 561.99 L467.54 570.32 L471.92 564.07 L475.91 569.28 L483.48 555.74 L491.05 565.12 L499.41 565.12 L505.79 565.12 L511.36 568.24 L518.54 559.91 L527.30 567.20" fill="none" stroke="#8fabda" stroke-width="1.45" stroke-linejoin="round" clip-path="url(#cBL)"/><rect x="126.5" y="360.1" width="407.2" height="259.1" fill="none" stroke="#111" stroke-width="1.95" stroke-linejoin="round"/><line x1="122.0" y1="619.1" x2="126.5" y2="619.1" stroke="#333" stroke-width="1"/><text x="118.7" y="622.8" font-size="10" fill="#5f5f5f" text-anchor="end">0.3</text><line x1="122.0" y1="567.3" x2="126.5" y2="567.3" stroke="#333" stroke-width="1"/><text x="118.7" y="571.0" font-size="10" fill="#5f5f5f" text-anchor="end">0.4</text><line x1="122.0" y1="515.5" x2="126.5" y2="515.5" stroke="#333" stroke-width="1"/><text x="118.7" y="519.2" font-size="10" fill="#5f5f5f" text-anchor="end">0.5</text><line x1="122.0" y1="463.7" x2="126.5" y2="463.7" stroke="#333" stroke-width="1"/><text x="118.7" y="467.4" font-size="10" fill="#5f5f5f" text-anchor="end">0.6</text><line x1="122.0" y1="411.9" x2="126.5" y2="411.9" stroke="#333" stroke-width="1"/><text x="118.7" y="415.6" font-size="10" fill="#5f5f5f" text-anchor="end">0.7</text><line x1="122.0" y1="360.1" x2="126.5" y2="360.1" stroke="#333" stroke-width="1"/><text x="118.7" y="363.8" font-size="10" fill="#5f5f5f" text-anchor="end">0.8</text><text x="128.4" y="635.5" font-size="10" fill="#5f5f5f" text-anchor="middle">0</text><text x="168.4" y="635.5" font-size="10" fill="#5f5f5f" text-anchor="middle">10</text><text x="208.4" y="635.5" font-size="10" fill="#5f5f5f" text-anchor="middle">20</text><text x="248.3" y="635.5" font-size="10" fill="#5f5f5f" text-anchor="middle">30</text><text x="288.3" y="635.5" font-size="10" fill="#5f5f5f" text-anchor="middle">40</text><text x="328.3" y="635.5" font-size="10" fill="#5f5f5f" text-anchor="middle">50</text><text x="368.3" y="635.5" font-size="10" fill="#5f5f5f" text-anchor="middle">60</text><text x="408.3" y="635.5" font-size="10" fill="#5f5f5f" text-anchor="middle">70</text><text x="448.2" y="635.5" font-size="10" fill="#5f5f5f" text-anchor="middle">80</text><text x="488.2" y="635.5" font-size="10" fill="#5f5f5f" text-anchor="middle">90</text><text x="528.2" y="635.5" font-size="10" fill="#5f5f5f" text-anchor="middle">100</text><text x="309.3" y="351.3" font-size="16.25" font-weight="bold" fill="#333" text-anchor="middle">Training Loss</text><line x1="437.9" y1="389.2" x2="459.8" y2="389.2" stroke="#a3cf8a" stroke-width="1.5" stroke-opacity="0.85"/><text x="464.4" y="392.7" font-size="10.4" fill="#5f5f5f">Resnet-18</text><line x1="437.9" y1="405.5" x2="459.8" y2="405.5" stroke="#ea8443" stroke-width="1.5" stroke-opacity="0.85"/><text x="464.4" y="409.0" font-size="10.4" fill="#5f5f5f">Resnet-34</text><line x1="437.9" y1="420.9" x2="459.8" y2="420.9" stroke="#8fabda" stroke-width="1.5" stroke-opacity="0.85"/><text x="464.4" y="424.4" font-size="10.4" fill="#5f5f5f">Resnet-50</text><text x="0" y="3.9" font-size="11.8" fill="#5f5f5f" text-anchor="middle" transform="translate(96.3 489.8) rotate(-90)">Loss</text><text x="329.3" y="654.0" font-size="11.5" fill="#5f5f5f" text-anchor="middle">Epoch</text></g>
<g><clipPath id="cBR"><rect x="573.4" y="357.7" width="402.8" height="260.7"/></clipPath><path d="M574.90 618.00 C577.00 564.31 579.10 489.87 581.20 456.92 C583.17 426.53 585.14 433.17 587.11 426.53 C589.87 417.23 592.63 412.76 595.39 409.12 C597.75 406.26 600.12 406.26 602.48 406.26 C604.84 407.78 607.21 417.27 609.57 418.21 C612.20 418.21 614.83 412.53 617.45 412.24 C620.21 412.24 622.97 413.29 625.73 416.40 C628.35 419.35 630.98 427.64 633.61 430.42 C636.36 433.35 639.12 433.54 641.88 433.54 C644.64 431.03 647.40 419.70 650.15 415.36 C652.12 412.25 654.09 411.20 656.06 411.20 C658.17 420.27 660.27 462.66 662.37 468.10 C663.68 468.10 664.99 440.70 666.31 437.70 C667.23 437.70 668.15 452.77 669.07 452.77 C670.77 448.15 672.48 417.96 674.19 416.40 C676.55 416.40 678.92 440.64 681.28 441.60 C682.99 441.60 684.69 424.05 686.40 421.33 C689.16 420.29 691.92 420.29 694.68 420.29 C698.09 424.60 701.51 444.71 704.92 444.71 C707.55 443.85 710.17 418.29 712.80 414.32 C715.56 414.32 718.32 414.32 721.07 420.29 C722.39 424.09 723.70 449.65 725.01 449.65 C726.33 446.97 727.64 406.58 728.95 404.18 C730.40 404.18 731.84 434.58 733.29 434.58 C734.47 434.27 735.65 402.11 736.83 402.11 C738.28 402.11 739.72 433.21 741.17 434.58 C743.27 434.58 745.37 417.47 747.47 412.24 C749.44 407.34 751.41 404.18 753.38 404.18 C754.70 405.26 756.01 418.23 757.32 420.29 C759.42 420.29 761.52 420.29 763.63 420.29 C765.33 422.74 767.04 436.66 768.75 436.66 C771.24 435.89 773.74 419.49 776.23 416.40 C780.31 412.24 784.38 412.24 788.45 412.24 C789.76 412.81 791.07 420.96 792.39 423.41 C794.88 428.06 797.38 433.54 799.87 433.54 C801.45 432.37 803.03 416.54 804.60 414.32 C805.92 414.32 807.23 421.19 808.54 421.33 C810.51 421.33 812.48 415.36 814.45 415.36 C816.16 416.32 817.87 427.57 819.57 427.57 C821.02 425.86 822.46 405.14 823.91 404.18 C826.14 404.18 828.37 418.03 830.61 420.29 C832.05 420.29 833.50 415.36 834.94 415.36 C836.65 415.92 838.35 423.41 840.06 423.41 C842.43 422.40 844.79 413.61 847.15 410.16 C848.47 408.24 849.78 407.68 851.09 407.30 C853.06 407.30 855.03 407.30 857.00 407.30 C859.11 405.87 861.21 398.99 863.31 398.99 C864.62 399.62 865.93 410.20 867.25 412.24 C868.56 412.24 869.87 411.20 871.19 411.20 C873.95 412.55 876.70 418.21 879.46 418.21 C881.43 417.67 883.40 408.18 885.37 407.30 C889.44 407.30 893.51 409.80 897.59 410.16 C900.34 410.16 903.10 409.12 905.86 409.12 C907.83 409.27 909.80 411.20 911.77 411.20 C913.87 411.20 915.97 409.12 918.07 409.12 C920.70 409.89 923.33 414.39 925.95 415.36 C928.06 415.36 930.16 414.43 932.26 414.32 C936.33 414.32 940.40 414.32 944.47 414.32 C947.10 413.91 949.73 411.20 952.35 411.20 C955.11 411.86 957.87 417.51 960.63 418.21 C961.94 418.21 963.25 414.94 964.57 414.32 C966.01 414.32 967.46 414.32 968.90 414.32" fill="none" stroke="#a3cf8a" stroke-width="1.45" stroke-linejoin="round" clip-path="url(#cBR)"/><path d="M574.90 618.00 C576.61 562.23 578.31 490.41 580.02 450.69 C581.07 426.24 582.12 428.18 583.17 425.49 C584.36 425.49 585.54 433.54 586.72 433.54 C588.95 432.86 591.19 426.06 593.42 422.37 C595.06 419.66 596.70 417.05 598.34 414.32 C599.72 412.02 601.10 407.30 602.48 407.30 C603.79 407.64 605.11 414.36 606.42 416.40 C608.13 419.04 609.83 421.16 611.54 421.33 C613.25 421.33 614.96 417.43 616.66 417.43 C618.63 417.43 620.60 421.33 622.57 421.33 C624.94 421.14 627.30 419.20 629.67 416.40 C631.24 414.52 632.82 407.30 634.39 407.30 C635.71 411.91 637.02 445.45 638.33 446.79 C639.65 446.79 640.96 418.73 642.27 415.36 C643.46 415.36 644.64 427.57 645.82 427.57 C648.18 427.57 650.55 415.36 652.91 415.36 C654.62 420.59 656.33 464.98 658.03 464.98 C659.22 464.02 660.40 409.12 661.58 408.34 C663.02 408.34 664.47 456.58 665.91 459.78 C667.36 459.78 668.80 431.42 670.25 427.57 C671.43 427.57 672.61 438.74 673.79 438.74 C675.11 433.72 676.42 399.16 677.73 398.99 C679.05 398.99 680.36 434.47 681.67 437.70 C683.25 437.70 684.83 421.56 686.40 420.29 C687.85 420.29 689.29 424.03 690.74 430.42 C692.05 436.24 693.36 450.65 694.68 456.92 C695.99 463.20 697.30 466.22 698.62 468.10 C699.67 468.10 700.72 468.10 701.77 467.06 C703.08 455.61 704.39 412.69 705.71 406.26 C706.89 406.26 708.07 418.43 709.25 430.42 C710.44 442.42 711.62 478.23 712.80 478.23 C714.11 474.17 715.43 416.16 716.74 407.30 C718.84 407.30 720.94 408.94 723.04 409.12 C725.01 409.12 726.98 408.69 728.95 408.34 C730.40 408.08 731.84 407.30 733.29 407.30 C734.47 417.47 735.65 473.27 736.83 476.15 C738.28 476.15 739.72 435.89 741.17 426.53 C743.53 411.21 745.90 402.11 748.26 402.11 C749.70 407.36 751.15 464.92 752.59 468.10 C753.91 468.10 755.22 431.46 756.53 420.29 C757.85 409.12 759.16 401.07 760.47 401.07 C761.79 406.48 763.10 449.55 764.41 452.77 C765.86 452.77 767.30 421.33 768.75 421.33 C769.93 422.38 771.11 459.06 772.29 459.78 C774.53 459.78 776.76 430.92 778.99 427.57 C780.57 427.57 782.14 442.63 783.72 442.63 C785.30 437.87 786.87 402.30 788.45 398.99 C790.42 398.99 792.39 416.86 794.36 420.29 C796.07 420.29 797.77 418.21 799.48 418.21 C801.19 418.73 802.89 423.41 804.60 423.41 C806.31 422.41 808.02 414.73 809.72 412.24 C811.69 409.36 813.66 407.30 815.63 407.30 C816.95 412.29 818.26 449.65 819.57 449.65 C821.94 448.98 824.30 408.75 826.67 404.18 C827.98 404.18 829.29 426.43 830.61 428.35 C832.31 428.35 834.02 417.76 835.73 417.43 C837.17 417.43 838.62 426.53 840.06 426.53 C842.43 423.79 844.79 404.18 847.15 404.18 C848.47 404.40 849.78 427.18 851.09 428.35 C852.80 428.35 854.51 413.93 856.22 412.24 C857.92 412.24 859.63 414.63 861.34 418.21 C863.18 422.08 865.02 434.58 866.85 434.58 C868.69 434.28 870.53 419.10 872.37 416.40 C875.13 414.32 877.89 414.32 880.64 414.32 C882.61 415.87 884.58 427.42 886.55 427.57 C889.31 427.57 892.07 415.99 894.83 415.36 C898.11 415.36 901.39 421.83 904.68 423.41 C907.70 424.45 910.72 424.45 913.74 424.45 C915.84 422.92 917.94 415.37 920.04 412.24 C922.01 409.31 923.98 406.26 925.95 406.26 C927.66 406.91 929.37 415.21 931.08 416.40 C934.75 417.43 938.43 417.43 942.11 417.43 C943.55 417.34 945.00 415.36 946.44 415.36 C948.81 415.79 951.17 419.08 953.53 419.51 C958.66 419.51 963.78 419.51 968.90 419.51" fill="none" stroke="#ea8443" stroke-width="1.45" stroke-linejoin="round" clip-path="url(#cBR)"/><path d="M574.90 618.00 C577.00 568.98 579.10 504.61 581.20 470.95 C583.17 439.40 585.14 429.87 587.11 422.37 C589.22 422.37 591.32 424.45 593.42 424.45 C595.78 424.27 598.15 423.02 600.51 421.33 C602.87 419.64 605.24 414.76 607.60 414.32 C608.92 414.32 610.23 414.32 611.54 419.25 C612.59 424.06 613.64 446.79 614.69 446.79 C616.01 446.79 617.32 425.83 618.63 419.25 C619.95 412.67 621.26 407.48 622.57 407.30 C623.76 407.30 624.94 414.76 626.12 418.21 C627.70 422.82 629.27 431.46 630.85 431.46 C632.56 430.79 634.26 414.32 635.97 414.32 C638.33 415.32 640.70 436.66 643.06 436.66 C645.69 434.52 648.32 409.09 650.94 402.11 C652.39 402.11 653.83 402.11 655.28 404.18 C657.25 407.48 659.22 418.40 661.19 419.25 C663.81 419.25 666.44 410.16 669.07 410.16 C670.64 411.95 672.22 433.54 673.79 433.54 C674.98 432.84 676.16 406.04 677.34 405.22 C678.65 405.22 679.97 425.56 681.28 428.35 C682.99 428.35 684.69 425.96 686.40 424.45 C688.50 422.59 690.60 420.27 692.71 418.21 C695.46 415.51 698.22 410.16 700.98 410.16 C702.29 410.72 703.61 421.37 704.92 423.41 C706.89 425.49 708.86 424.51 710.83 425.49 C713.59 426.85 716.35 430.42 719.10 430.42 C720.68 429.45 722.26 418.99 723.83 417.43 C726.98 416.40 730.14 416.40 733.29 416.40 C734.60 416.88 735.91 422.37 737.23 422.37 C739.85 419.89 742.48 405.22 745.11 405.22 C747.47 407.48 749.84 434.97 752.20 436.66 C754.56 436.66 756.93 415.36 759.29 415.36 C761.00 415.65 762.71 438.74 764.41 438.74 C765.86 437.94 767.30 410.16 768.75 410.16 C770.85 410.37 772.95 438.44 775.05 439.78 C776.76 439.78 778.47 418.89 780.17 417.43 C782.54 417.43 784.90 429.39 787.27 429.39 C789.89 428.84 792.52 416.23 795.15 414.32 C797.64 414.32 800.14 418.21 802.63 418.21 C804.21 417.31 805.78 407.30 807.36 407.30 C808.80 407.30 810.25 417.92 811.69 418.21 C813.27 418.21 814.85 409.12 816.42 409.12 C817.47 411.86 818.52 438.59 819.57 438.74 C821.02 438.74 822.46 413.27 823.91 410.16 C825.48 410.16 827.06 417.81 828.64 419.25 C830.74 420.29 832.84 419.25 834.94 420.29 C837.57 421.64 840.19 426.53 842.82 426.53 C845.58 425.15 848.34 413.45 851.09 412.24 C853.85 412.24 856.61 419.25 859.37 419.25 C861.99 419.25 864.62 412.95 867.25 412.24 C870.66 412.24 874.08 412.24 877.49 414.32 C879.20 416.22 880.91 429.39 882.61 429.39 C884.32 428.22 886.03 409.12 887.74 407.30 C890.10 407.30 892.46 415.05 894.83 416.40 C897.19 416.40 899.56 415.36 901.92 415.36 C905.86 416.17 909.80 420.29 913.74 420.29 C917.15 420.13 920.57 415.44 923.98 414.32 C928.71 412.76 933.44 413.11 938.17 412.24 C940.93 411.73 943.68 410.16 946.44 410.16 C947.76 410.61 949.07 416.15 950.38 416.40 C952.75 416.40 955.11 412.24 957.47 412.24 C958.79 412.58 960.10 418.45 961.41 419.25 C963.91 419.25 966.40 419.25 968.90 419.25" fill="none" stroke="#8fabda" stroke-width="1.45" stroke-linejoin="round" clip-path="url(#cBR)"/><rect x="573.4" y="358.7" width="402.8" height="259.7" fill="none" stroke="#111" stroke-width="1.95" stroke-linejoin="round"/><line x1="568.9" y1="618.4" x2="573.4" y2="618.4" stroke="#333" stroke-width="1"/><text x="565.6" y="622.1" font-size="10" fill="#5f5f5f" text-anchor="end">0</text><line x1="568.9" y1="592.4" x2="573.4" y2="592.4" stroke="#333" stroke-width="1"/><text x="565.6" y="596.1" font-size="10" fill="#5f5f5f" text-anchor="end">0.1</text><line x1="568.9" y1="566.5" x2="573.4" y2="566.5" stroke="#333" stroke-width="1"/><text x="565.6" y="570.2" font-size="10" fill="#5f5f5f" text-anchor="end">0.2</text><line x1="568.9" y1="540.5" x2="573.4" y2="540.5" stroke="#333" stroke-width="1"/><text x="565.6" y="544.2" font-size="10" fill="#5f5f5f" text-anchor="end">0.3</text><line x1="568.9" y1="514.5" x2="573.4" y2="514.5" stroke="#333" stroke-width="1"/><text x="565.6" y="518.2" font-size="10" fill="#5f5f5f" text-anchor="end">0.4</text><line x1="568.9" y1="488.5" x2="573.4" y2="488.5" stroke="#333" stroke-width="1"/><text x="565.6" y="492.2" font-size="10" fill="#5f5f5f" text-anchor="end">0.5</text><line x1="568.9" y1="462.6" x2="573.4" y2="462.6" stroke="#333" stroke-width="1"/><text x="565.6" y="466.3" font-size="10" fill="#5f5f5f" text-anchor="end">0.6</text><line x1="568.9" y1="436.6" x2="573.4" y2="436.6" stroke="#333" stroke-width="1"/><text x="565.6" y="440.3" font-size="10" fill="#5f5f5f" text-anchor="end">0.7</text><line x1="568.9" y1="410.6" x2="573.4" y2="410.6" stroke="#333" stroke-width="1"/><text x="565.6" y="414.3" font-size="10" fill="#5f5f5f" text-anchor="end">0.8</text><line x1="568.9" y1="384.7" x2="573.4" y2="384.7" stroke="#333" stroke-width="1"/><text x="565.6" y="388.4" font-size="10" fill="#5f5f5f" text-anchor="end">0.9</text><line x1="568.9" y1="358.7" x2="573.4" y2="358.7" stroke="#333" stroke-width="1"/><text x="565.6" y="362.4" font-size="10" fill="#5f5f5f" text-anchor="end">1</text><text x="575.2" y="634.8" font-size="10" fill="#5f5f5f" text-anchor="middle">0</text><text x="614.7" y="634.8" font-size="10" fill="#5f5f5f" text-anchor="middle">10</text><text x="654.1" y="634.8" font-size="10" fill="#5f5f5f" text-anchor="middle">20</text><text x="693.6" y="634.8" font-size="10" fill="#5f5f5f" text-anchor="middle">30</text><text x="733.1" y="634.8" font-size="10" fill="#5f5f5f" text-anchor="middle">40</text><text x="772.5" y="634.8" font-size="10" fill="#5f5f5f" text-anchor="middle">50</text><text x="812.0" y="634.8" font-size="10" fill="#5f5f5f" text-anchor="middle">60</text><text x="851.5" y="634.8" font-size="10" fill="#5f5f5f" text-anchor="middle">70</text><text x="891.0" y="634.8" font-size="10" fill="#5f5f5f" text-anchor="middle">80</text><text x="930.4" y="634.8" font-size="10" fill="#5f5f5f" text-anchor="middle">90</text><text x="969.9" y="634.8" font-size="10" fill="#5f5f5f" text-anchor="middle">100</text><text x="760.0" y="352.0" font-size="16.25" font-weight="bold" fill="#333" text-anchor="middle">Validation Accuracy</text><line x1="895.7" y1="562.4" x2="918.0" y2="562.4" stroke="#a3cf8a" stroke-width="1.5" stroke-opacity="0.85"/><text x="922.6" y="565.9" font-size="10.4" fill="#5f5f5f">Resnet-18</text><line x1="895.7" y1="578.6" x2="918.0" y2="578.6" stroke="#ea8443" stroke-width="1.5" stroke-opacity="0.85"/><text x="922.6" y="582.1" font-size="10.4" fill="#5f5f5f">Resnet-34</text><line x1="895.7" y1="594.8" x2="918.0" y2="594.8" stroke="#8fabda" stroke-width="1.5" stroke-opacity="0.85"/><text x="922.6" y="598.3" font-size="10.4" fill="#5f5f5f">Resnet-50</text><text x="0" y="3.9" font-size="11.8" fill="#5f5f5f" text-anchor="middle" transform="translate(547.0 488.0) rotate(-90)">Accuracy</text><text x="773.0" y="653.4" font-size="11.5" fill="#5f5f5f" text-anchor="middle">Epoch</text></g>
<g><clipPath id="cCL"><rect x="124.8" y="694.2" width="406.2" height="256.6"/></clipPath><path d="M134.61 746.28 C136.69 753.08 138.77 759.87 140.85 766.67 C143.45 775.17 146.05 785.27 148.64 792.16 C150.72 797.68 152.80 799.36 154.88 803.89 C156.70 807.85 158.52 814.77 160.34 817.65 C162.81 821.57 165.28 823.90 167.75 824.28 C169.70 824.28 171.65 819.69 173.60 819.69 C175.16 820.75 176.72 830.62 178.28 831.42 C180.36 831.42 182.44 827.69 184.52 825.30 C186.72 822.76 188.93 816.63 191.14 816.63 C192.83 816.93 194.52 825.61 196.21 827.34 C198.68 829.38 201.15 829.38 203.62 829.38 C205.31 826.34 207.00 804.91 208.69 804.91 C209.86 804.91 211.03 826.01 212.20 829.38 C213.63 829.38 215.06 827.34 216.49 827.34 C218.70 828.16 220.91 832.01 223.12 833.46 C225.84 835.24 228.57 836.68 231.30 837.02 C233.90 837.02 236.50 835.50 239.10 835.50 C241.57 838.56 244.04 855.18 246.51 855.89 C248.20 855.89 249.89 839.98 251.58 839.06 C253.01 839.06 254.44 850.12 255.87 850.79 C258.08 850.79 260.29 844.16 262.50 844.16 C264.96 846.76 267.43 865.57 269.90 865.57 C271.59 865.30 273.28 842.12 274.97 842.12 C277.44 842.93 279.91 867.21 282.38 869.65 C284.20 869.65 286.02 857.16 287.84 854.87 C289.66 854.87 291.48 855.89 293.30 855.89 C294.99 855.89 296.68 854.87 298.37 854.87 C300.84 858.70 303.30 872.81 305.77 875.26 C307.59 875.26 309.41 868.98 311.23 867.61 C313.70 865.75 316.17 865.57 318.64 865.57 C320.07 865.88 321.50 868.83 322.93 870.16 C325.14 872.22 327.35 875.38 329.56 875.77 C331.25 875.77 332.94 872.20 334.63 872.20 C337.88 873.77 341.13 881.56 344.37 882.91 C346.45 882.91 348.53 881.12 350.61 878.83 C352.69 876.53 354.77 869.14 356.85 869.14 C358.67 871.60 360.49 889.22 362.31 894.63 C363.35 894.63 364.39 894.63 365.43 894.63 C366.47 892.34 367.51 880.99 368.55 880.87 C370.37 880.87 372.19 891.58 374.01 893.61 C377.52 897.53 381.02 898.71 384.53 898.71 C387.39 898.56 390.25 894.67 393.11 892.59 C394.93 891.27 396.75 888.51 398.57 888.51 C400.00 888.96 401.43 894.90 402.86 895.65 C405.33 895.65 407.80 895.00 410.27 894.63 C412.35 894.32 414.43 893.61 416.51 893.61 C418.72 893.79 420.92 895.01 423.13 895.65 C425.60 896.37 428.07 897.18 430.54 897.69 C433.01 898.20 435.48 897.69 437.95 898.71 C439.64 899.88 441.33 906.36 443.02 906.36 C445.49 905.55 447.96 895.71 450.43 894.63 C452.64 894.63 454.85 899.85 457.06 900.24 C458.74 900.24 460.43 896.67 462.12 896.67 C464.72 896.67 467.32 899.86 469.92 900.24 C472.00 900.24 474.08 898.71 476.16 898.71 C477.59 899.82 479.02 907.55 480.45 908.40 C483.31 908.40 486.17 907.72 489.03 906.36 C491.89 905.00 494.75 900.24 497.60 900.24 C498.90 900.35 500.20 906.95 501.50 907.38 C504.36 907.38 507.22 904.92 510.08 904.32 C513.72 903.56 517.36 903.64 521.00 903.30" fill="none" stroke="#a3cf8a" stroke-width="1.45" stroke-linejoin="round" clip-path="url(#cCL)"/><path d="M134.61 724.87 C136.43 736.93 138.25 751.07 140.07 761.06 C142.15 772.48 144.23 780.77 146.31 789.10 C148.12 796.40 149.94 803.21 151.76 807.97 C153.84 813.40 155.92 817.59 158.00 819.69 C160.47 821.73 162.94 819.94 165.41 821.73 C166.45 822.49 167.49 826.90 168.53 827.34 C171.13 827.34 173.73 826.73 176.33 826.32 C178.02 826.05 179.71 826.20 181.40 825.30 C183.22 824.33 185.04 822.16 186.85 820.71 C188.67 819.27 190.49 816.63 192.31 816.63 C193.61 817.69 194.91 825.88 196.21 828.36 C198.03 831.83 199.85 834.31 201.67 834.48 C203.49 834.48 205.31 830.84 207.13 829.38 C208.69 828.12 210.25 826.32 211.81 826.32 C213.11 827.94 214.41 836.43 215.71 840.08 C217.01 843.74 218.31 848.24 219.61 848.24 C221.43 845.56 223.25 829.25 225.06 826.32 C227.14 826.32 229.22 828.65 231.30 829.38 C233.12 830.01 234.94 829.38 236.76 830.40 C238.84 833.03 240.92 844.16 243.00 844.16 C244.43 842.43 245.86 819.27 247.29 817.65 C248.72 817.65 250.15 833.32 251.58 834.48 C252.88 834.48 254.18 824.28 255.48 824.28 C257.43 825.40 259.38 835.65 261.33 840.08 C262.89 843.63 264.44 848.24 266.00 848.24 C267.56 847.48 269.12 835.65 270.68 835.50 C272.50 835.50 274.32 843.99 276.14 847.22 C277.96 850.45 279.78 854.07 281.60 854.87 C284.07 854.87 286.54 853.38 289.01 852.83 C291.09 852.36 293.17 851.81 295.25 851.81 C296.68 851.81 298.11 852.83 299.54 852.83 C301.62 851.52 303.69 845.18 305.77 845.18 C307.98 845.53 310.19 852.33 312.40 854.87 C315.52 858.45 318.64 862.02 321.76 863.53 C323.19 863.53 324.62 861.49 326.05 861.49 C327.48 862.60 328.91 869.83 330.34 870.16 C332.55 870.16 334.76 864.04 336.97 864.04 C338.40 864.91 339.83 876.08 341.26 876.79 C342.55 876.79 343.85 868.12 345.15 868.12 C346.58 869.01 348.01 881.09 349.44 881.89 C351.65 881.89 353.86 874.54 356.07 874.24 C358.93 874.24 361.79 878.47 364.65 879.85 C367.77 881.35 370.89 882.80 374.01 882.91 C375.96 882.91 377.91 880.36 379.86 880.36 C382.19 881.56 384.53 888.04 386.87 889.53 C390.38 891.57 393.89 891.57 397.40 891.57 C399.48 891.13 401.56 885.97 403.64 885.97 C405.07 886.93 406.50 898.27 407.93 898.71 C410.40 898.71 412.87 889.53 415.34 889.53 C417.16 889.53 418.98 898.22 420.79 898.71 C424.04 898.71 427.29 894.19 430.54 893.61 C433.01 893.61 435.48 895.65 437.95 895.65 C439.64 895.10 441.33 889.53 443.02 889.53 C444.45 890.00 445.88 897.36 447.31 898.71 C449.13 898.71 450.95 898.71 452.77 898.71 C454.85 899.53 456.93 902.72 459.00 903.30 C461.21 903.30 463.42 902.28 465.63 902.28 C467.06 903.21 468.49 910.44 469.92 910.44 C472.00 910.44 474.08 903.00 476.16 902.28 C477.98 902.28 479.80 906.07 481.62 906.36 C484.09 906.36 486.56 904.60 489.03 904.32 C492.54 904.32 496.05 904.32 499.55 904.32 C501.37 903.68 503.19 898.71 505.01 898.71 C506.44 898.71 507.87 903.62 509.30 904.32 C510.99 904.32 512.68 903.30 514.37 903.30 C516.58 904.26 518.79 907.38 521.00 909.42" fill="none" stroke="#ea8443" stroke-width="1.45" stroke-linejoin="round" clip-path="url(#cCL)"/><path d="M134.61 742.20 C136.43 750.02 138.25 757.66 140.07 765.65 C142.93 778.22 145.79 794.50 148.64 803.89 C151.37 812.85 154.10 815.58 156.83 820.71 C158.26 823.40 159.69 826.74 161.12 827.34 C162.55 827.34 163.98 824.28 165.41 824.28 C166.84 824.62 168.27 828.26 169.70 829.38 C172.17 831.31 174.64 833.46 177.11 833.46 C178.93 833.17 180.75 827.55 182.57 827.34 C183.61 827.34 184.65 829.12 185.69 832.44 C186.72 835.75 187.76 846.54 188.80 847.22 C190.62 847.22 192.44 842.33 194.26 838.04 C196.34 833.15 198.42 821.16 200.50 819.69 C201.54 819.69 202.58 830.37 203.62 831.42 C206.48 831.42 209.34 831.42 212.20 831.42 C213.63 832.72 215.06 843.14 216.49 843.14 C217.79 841.85 219.09 824.42 220.39 823.26 C221.95 823.26 223.51 832.53 225.06 835.50 C227.53 840.18 230.00 845.75 232.47 846.20 C234.68 846.20 236.89 838.20 239.10 838.04 C241.57 838.04 244.04 844.07 246.51 845.18 C248.59 845.18 250.67 844.16 252.75 844.16 C254.83 845.78 256.91 852.94 258.99 854.87 C261.85 857.52 264.70 856.65 267.56 857.93 C270.42 859.20 273.28 862.29 276.14 862.51 C277.57 862.51 279.00 858.95 280.43 858.95 C282.51 858.95 284.59 862.51 286.67 862.51 C287.71 861.61 288.75 850.79 289.79 850.79 C291.22 853.84 292.65 876.19 294.08 878.32 C295.51 878.32 296.94 863.87 298.37 863.53 C299.80 863.53 301.23 875.66 302.66 876.28 C305.12 876.28 307.59 869.66 310.06 868.63 C312.92 868.63 315.78 869.65 318.64 869.65 C320.07 869.14 321.50 864.04 322.93 864.04 C323.97 864.40 325.01 871.25 326.05 872.20 C329.30 875.16 332.55 874.51 335.80 875.77 C338.27 876.72 340.74 878.83 343.20 878.83 C345.02 877.89 346.84 869.52 348.66 869.14 C350.09 869.14 351.52 875.11 352.95 876.79 C355.42 879.69 357.89 881.61 360.36 882.91 C362.44 883.93 364.52 882.91 366.60 883.93 C368.68 885.37 370.76 890.94 372.84 891.57 C374.66 891.57 376.48 887.81 378.30 887.49 C380.38 887.49 382.45 888.96 384.53 889.53 C387.39 890.32 390.25 891.57 393.11 891.57 C395.32 891.42 397.53 888.51 399.74 888.51 C402.47 890.11 405.20 898.74 407.93 900.24 C410.14 900.24 412.35 896.67 414.56 896.67 C416.64 897.33 418.72 904.03 420.79 904.32 C423.65 904.32 426.51 899.64 429.37 898.71 C432.23 898.71 435.09 898.71 437.95 898.71 C439.64 899.40 441.33 903.83 443.02 904.32 C445.49 904.32 447.96 902.28 450.43 902.28 C453.29 902.46 456.15 903.88 459.00 905.34 C461.47 906.60 463.94 910.44 466.41 910.44 C468.23 910.29 470.05 906.02 471.87 904.32 C473.69 902.62 475.51 900.24 477.33 900.24 C478.76 900.84 480.19 907.15 481.62 908.40 C484.09 910.44 486.56 910.44 489.03 910.44 C491.89 909.89 494.75 905.86 497.60 905.34 C500.33 905.34 503.06 907.38 505.79 907.38 C508.00 907.22 510.21 904.32 512.42 904.32 C515.28 904.32 518.14 906.36 521.00 907.38" fill="none" stroke="#8fabda" stroke-width="1.45" stroke-linejoin="round" clip-path="url(#cCL)"/><rect x="124.8" y="695.2" width="406.2" height="255.6" fill="none" stroke="#111" stroke-width="1.95" stroke-linejoin="round"/><line x1="120.3" y1="950.8" x2="124.8" y2="950.8" stroke="#333" stroke-width="1"/><text x="117.0" y="954.5" font-size="10" fill="#5f5f5f" text-anchor="end">0.3</text><line x1="120.3" y1="899.7" x2="124.8" y2="899.7" stroke="#333" stroke-width="1"/><text x="117.0" y="903.4" font-size="10" fill="#5f5f5f" text-anchor="end">0.4</text><line x1="120.3" y1="848.6" x2="124.8" y2="848.6" stroke="#333" stroke-width="1"/><text x="117.0" y="852.3" font-size="10" fill="#5f5f5f" text-anchor="end">0.5</text><line x1="120.3" y1="797.4" x2="124.8" y2="797.4" stroke="#333" stroke-width="1"/><text x="117.0" y="801.1" font-size="10" fill="#5f5f5f" text-anchor="end">0.6</text><line x1="120.3" y1="746.3" x2="124.8" y2="746.3" stroke="#333" stroke-width="1"/><text x="117.0" y="750.0" font-size="10" fill="#5f5f5f" text-anchor="end">0.7</text><line x1="120.3" y1="695.2" x2="124.8" y2="695.2" stroke="#333" stroke-width="1"/><text x="117.0" y="698.9" font-size="10" fill="#5f5f5f" text-anchor="end">0.8</text><text x="166.0" y="966.6" font-size="10" fill="#5f5f5f" text-anchor="middle">10</text><text x="205.1" y="966.6" font-size="10" fill="#5f5f5f" text-anchor="middle">20</text><text x="244.2" y="966.6" font-size="10" fill="#5f5f5f" text-anchor="middle">30</text><text x="283.3" y="966.6" font-size="10" fill="#5f5f5f" text-anchor="middle">40</text><text x="322.4" y="966.6" font-size="10" fill="#5f5f5f" text-anchor="middle">50</text><text x="361.4" y="966.6" font-size="10" fill="#5f5f5f" text-anchor="middle">60</text><text x="400.5" y="966.6" font-size="10" fill="#5f5f5f" text-anchor="middle">70</text><text x="439.6" y="966.6" font-size="10" fill="#5f5f5f" text-anchor="middle">80</text><text x="478.7" y="966.6" font-size="10" fill="#5f5f5f" text-anchor="middle">90</text><text x="517.8" y="966.6" font-size="10" fill="#5f5f5f" text-anchor="middle">100</text><text x="307.0" y="687.2" font-size="16.25" font-weight="bold" fill="#333" text-anchor="middle">Training Loss</text><line x1="435.2" y1="724.6" x2="458.3" y2="724.6" stroke="#a3cf8a" stroke-width="1.5" stroke-opacity="0.85"/><text x="461.2" y="728.1" font-size="10.4" fill="#5f5f5f">Resnet-18</text><line x1="435.2" y1="740.3" x2="458.3" y2="740.3" stroke="#ea8443" stroke-width="1.5" stroke-opacity="0.85"/><text x="461.2" y="743.8" font-size="10.4" fill="#5f5f5f">Resnet-34</text><line x1="435.2" y1="756.1" x2="458.3" y2="756.1" stroke="#8fabda" stroke-width="1.5" stroke-opacity="0.85"/><text x="461.2" y="759.6" font-size="10.4" fill="#5f5f5f">Resnet-50</text><text x="0" y="3.9" font-size="11.8" fill="#5f5f5f" text-anchor="middle" transform="translate(95.4 823.4) rotate(-90)">Loss</text><text x="327.4" y="985.0" font-size="11.5" fill="#5f5f5f" text-anchor="middle">Epoch</text></g>
<g><clipPath id="cCR"><rect x="569.8" y="692.5" width="403.7" height="256.5"/></clipPath><path d="M573.86 948.80 C575.03 890.52 576.21 802.34 577.38 773.97 C579.08 740.74 580.77 745.89 582.47 740.74 C585.21 733.58 587.95 733.58 590.69 733.58 C592.12 733.82 593.56 742.23 594.99 742.79 C597.08 742.79 599.17 737.97 601.25 737.67 C603.99 737.67 606.73 740.20 609.47 740.74 C611.95 740.74 614.43 740.74 616.91 740.74 C619.65 741.46 622.39 743.52 625.13 744.83 C626.83 745.65 628.52 744.83 630.22 747.13 C631.65 750.49 633.09 766.81 634.52 766.81 C636.22 765.84 637.92 745.42 639.61 741.76 C642.74 735.63 645.87 735.63 649.01 735.63 C651.09 737.16 653.18 744.62 655.27 753.27 C657.36 761.91 659.44 787.52 661.53 787.52 C663.62 787.18 665.71 758.65 667.79 751.22 C669.49 747.13 671.19 747.13 672.88 747.13 C674.32 750.76 675.75 774.99 677.19 774.99 C678.88 774.21 680.58 747.45 682.27 742.79 C684.36 742.79 686.45 742.79 688.54 743.81 C690.89 748.23 693.23 767.30 695.58 767.84 C698.06 767.84 700.54 747.13 703.02 747.13 C704.98 750.48 706.93 790.26 708.89 790.58 C711.11 790.58 713.33 750.36 715.54 749.18 C718.41 749.18 721.28 782.00 724.15 782.40 C726.11 782.40 728.07 755.26 730.03 751.22 C732.11 751.22 734.20 757.36 736.29 757.36 C738.38 755.95 740.46 745.21 742.55 742.79 C744.64 742.79 746.73 742.79 748.81 742.79 C751.16 742.43 753.51 740.74 755.86 740.74 C758.34 749.27 760.82 792.18 763.29 792.63 C764.60 792.63 765.90 748.35 767.21 742.79 C769.56 742.79 771.91 744.91 774.25 745.85 C776.34 746.70 778.43 748.15 780.52 748.15 C782.60 745.60 784.69 730.52 786.78 730.52 C789.13 732.14 791.48 755.06 793.82 757.36 C795.65 757.36 797.48 743.74 799.30 742.79 C802.04 742.79 804.78 749.30 807.52 750.20 C810.26 750.20 813.00 748.15 815.74 748.15 C818.87 749.79 822.00 758.62 825.14 759.40 C827.48 759.40 829.83 754.23 832.18 752.24 C834.27 750.48 836.36 748.41 838.44 748.15 C841.97 748.15 845.49 750.20 849.01 750.20 C851.10 749.91 853.19 746.77 855.27 745.85 C858.01 744.64 860.75 743.81 863.49 743.81 C865.58 744.29 867.67 749.18 869.76 749.18 C871.84 748.84 873.93 741.76 876.02 741.76 C879.15 742.99 882.28 753.93 885.41 755.31 C887.11 755.31 888.80 749.22 890.50 748.15 C892.59 748.15 894.67 748.15 896.76 748.15 C900.94 748.61 905.11 750.20 909.29 750.20 C911.37 749.72 913.46 744.45 915.55 743.81 C920.38 743.81 925.20 743.81 930.03 743.81 C933.42 743.39 936.82 741.08 940.21 740.74 C943.73 740.74 947.25 740.74 950.78 741.76 C952.47 742.46 954.17 746.99 955.86 747.13 C958.34 747.13 960.82 744.23 963.30 742.79" fill="none" stroke="#a3cf8a" stroke-width="1.45" stroke-linejoin="round" clip-path="url(#cCR)"/><path d="M573.86 948.80 C575.03 893.33 576.21 815.83 577.38 782.40 C578.42 759.40 579.47 762.41 580.51 759.40 C582.60 755.31 584.69 756.93 586.77 755.31 C589.51 753.18 592.25 749.94 594.99 748.15 C596.43 747.22 597.86 747.13 599.30 747.13 C600.47 748.51 601.65 757.36 602.82 757.36 C604.39 756.53 605.95 745.25 607.52 742.79 C608.82 742.79 610.13 742.79 611.43 743.81 C612.74 745.21 614.04 750.68 615.35 751.22 C617.56 751.22 619.78 748.15 622.00 748.15 C623.43 748.42 624.87 753.09 626.30 753.27 C627.61 753.27 628.91 749.97 630.22 749.18 C632.96 747.50 635.70 745.85 638.44 745.85 C640.53 746.44 642.61 745.85 644.70 753.27 C646.27 759.22 647.83 787.52 649.40 787.52 C651.35 787.33 653.31 757.42 655.27 752.24 C658.40 747.13 661.53 747.13 664.66 747.13 C666.23 752.78 667.79 802.43 669.36 803.11 C670.92 803.11 672.49 759.26 674.06 751.22 C676.40 742.79 678.75 742.79 681.10 742.79 C682.54 743.30 683.97 754.63 685.41 755.31 C687.75 755.31 690.10 749.23 692.45 748.15 C695.32 748.15 698.19 748.15 701.06 748.15 C702.24 750.26 703.41 769.88 704.58 769.88 C706.15 768.47 707.72 742.68 709.28 740.74 C711.63 740.74 713.98 754.59 716.33 755.31 C718.41 755.31 720.50 745.61 722.59 744.83 C725.07 744.83 727.55 750.20 730.03 750.20 C731.98 749.22 733.94 739.46 735.90 738.19 C737.72 738.19 739.55 738.19 741.38 742.79 C743.07 748.20 744.77 770.86 746.46 771.92 C748.16 771.92 749.86 749.18 751.55 749.18 C752.86 753.70 754.16 803.11 755.47 803.11 C757.03 801.95 758.60 748.56 760.16 742.79 C762.25 742.79 764.34 762.72 766.43 762.72 C767.99 762.43 769.56 740.74 771.12 740.74 C772.43 744.96 773.73 789.24 775.04 790.58 C776.47 790.58 777.91 756.63 779.34 749.18 C780.78 745.85 782.21 745.85 783.65 745.85 C784.82 746.01 786.00 750.20 787.17 750.20 C788.34 747.26 789.52 729.16 790.69 728.22 C791.74 728.22 792.78 741.60 793.82 744.83 C795.26 749.27 796.69 751.22 798.13 751.22 C801.52 751.22 804.91 744.83 808.31 744.83 C810.26 745.95 812.22 760.42 814.18 760.42 C815.48 760.15 816.79 744.56 818.09 742.79 C819.79 742.79 821.48 748.15 823.18 748.15 C824.48 748.01 825.79 741.76 827.09 741.76 C828.01 742.18 828.92 751.22 829.83 751.22 C832.05 750.01 834.27 737.92 836.49 736.65 C838.57 736.65 840.66 741.99 842.75 743.81 C844.18 745.06 845.62 745.85 847.05 745.85 C849.01 744.28 850.97 735.63 852.93 735.63 C855.80 736.90 858.67 751.06 861.54 752.24 C863.62 752.24 865.71 742.52 867.80 741.76 C869.49 741.76 871.19 748.15 872.89 748.15 C874.58 747.47 876.28 739.25 877.97 737.67 C881.50 734.40 885.02 733.58 888.54 733.58 C889.85 734.71 891.15 750.20 892.46 750.20 C895.20 749.97 897.94 733.72 900.68 732.56 C903.81 732.56 906.94 741.71 910.07 742.79 C911.90 742.79 913.72 737.95 915.55 737.67 C918.29 737.67 921.03 740.74 923.77 740.74 C925.86 740.74 927.94 738.08 930.03 737.67 C933.16 737.67 936.29 737.67 939.42 737.67 C940.73 737.98 942.03 740.39 943.34 740.74 C945.82 740.74 948.30 740.74 950.78 740.74 C952.08 740.15 953.38 736.04 954.69 735.63 C956.12 735.63 957.56 737.76 958.99 738.19 C960.43 738.19 961.86 738.19 963.30 738.19" fill="none" stroke="#ea8443" stroke-width="1.45" stroke-linejoin="round" clip-path="url(#cCR)"/><path d="M574.25 948.80 C575.62 886.35 576.99 783.64 578.36 761.45 C581.16 745.85 583.97 748.45 586.77 745.85 C589.12 745.85 591.47 747.13 593.82 747.13 C595.64 744.90 597.47 731.98 599.30 730.52 C600.99 730.52 602.69 736.17 604.39 738.70 C605.43 740.25 606.47 738.70 607.52 742.79 C608.56 749.35 609.60 777.55 610.65 778.06 C611.69 778.06 612.74 751.69 613.78 745.85 C615.08 738.70 616.39 738.70 617.69 738.70 C619.52 739.34 621.35 749.18 623.17 749.18 C625.52 749.18 627.87 739.12 630.22 738.70 C631.65 738.70 633.09 740.85 634.52 747.13 C635.70 752.27 636.87 772.95 638.05 772.95 C639.61 771.92 641.18 745.54 642.74 741.76 C645.48 741.76 648.22 741.76 650.96 741.76 C652.66 744.27 654.35 751.27 656.05 761.45 C657.88 772.40 659.70 805.15 661.53 805.15 C662.84 802.70 664.14 752.53 665.44 743.81 C666.88 743.81 668.31 749.47 669.75 750.20 C671.19 750.20 672.62 748.15 674.06 748.15 C675.10 750.20 676.14 764.77 677.19 764.77 C678.49 763.02 679.80 741.44 681.10 738.70 C682.80 738.70 684.49 745.55 686.19 745.85 C688.28 745.85 690.36 740.74 692.45 740.74 C695.32 741.78 698.19 745.88 701.06 751.22 C703.41 755.59 705.76 769.88 708.11 769.88 C710.59 768.96 713.06 749.46 715.54 745.85 C718.28 745.85 721.02 746.24 723.76 747.13 C725.46 747.69 727.16 750.20 728.85 750.20 C730.55 749.99 732.24 745.85 733.94 745.85 C736.03 745.85 738.11 745.85 740.20 750.20 C742.68 759.63 745.16 793.86 747.64 798.00 C748.68 798.00 749.73 775.22 750.77 767.84 C752.07 758.61 753.38 748.15 754.68 748.15 C756.12 749.40 757.55 774.99 758.99 774.99 C760.69 774.02 762.38 749.34 764.08 742.79 C765.51 738.70 766.95 738.70 768.38 738.70 C769.30 738.70 770.21 739.49 771.12 742.79 C772.43 747.50 773.73 762.12 775.04 762.72 C776.86 762.72 778.69 747.97 780.52 747.13 C782.60 747.13 784.69 757.36 786.78 757.36 C788.47 757.01 790.17 745.94 791.87 744.83 C793.30 744.83 794.74 744.83 796.17 751.22 C796.95 755.13 797.74 778.06 798.52 778.06 C799.83 775.88 801.13 746.28 802.43 740.74 C803.74 740.74 805.04 741.87 806.35 744.83 C807.78 748.09 809.22 758.64 810.65 759.40 C811.96 759.40 813.26 750.74 814.57 749.18 C816.39 748.15 818.22 749.18 820.05 748.15 C821.74 746.80 823.44 740.74 825.14 740.74 C826.70 743.07 828.27 762.04 829.83 762.72 C831.40 762.72 832.96 747.97 834.53 744.83 C836.62 740.74 838.70 741.08 840.79 740.74 C842.88 740.74 844.97 741.69 847.05 742.79 C849.01 743.82 850.97 744.36 852.93 747.13 C855.66 751.01 858.40 762.72 861.14 762.72 C862.45 761.49 863.75 738.34 865.06 735.63 C866.62 735.63 868.19 740.49 869.76 744.83 C870.80 747.73 871.84 757.36 872.89 757.36 C874.58 757.36 876.28 747.31 877.97 744.83 C880.06 741.78 882.15 740.74 884.24 740.74 C885.67 741.89 887.11 752.62 888.54 753.27 C890.89 753.27 893.24 746.68 895.59 745.85 C898.07 745.85 900.55 748.15 903.02 748.15 C905.76 747.98 908.50 744.83 911.24 744.83 C912.94 744.83 914.64 748.15 916.33 748.15 C917.77 748.00 919.20 743.81 920.64 743.81 C923.38 743.81 926.12 747.39 928.86 748.15 C931.34 748.15 933.81 748.15 936.29 748.15 C941.12 748.15 945.95 748.15 950.78 748.15 C952.08 747.92 953.38 745.18 954.69 744.83 C957.56 744.83 960.43 744.83 963.30 744.83" fill="none" stroke="#8fabda" stroke-width="1.45" stroke-linejoin="round" clip-path="url(#cCR)"/><rect x="569.8" y="693.5" width="403.7" height="255.5" fill="none" stroke="#111" stroke-width="1.95" stroke-linejoin="round"/><line x1="565.3" y1="949.0" x2="569.8" y2="949.0" stroke="#333" stroke-width="1"/><text x="562.0" y="952.7" font-size="10" fill="#5f5f5f" text-anchor="end">0</text><line x1="565.3" y1="923.5" x2="569.8" y2="923.5" stroke="#333" stroke-width="1"/><text x="562.0" y="927.2" font-size="10" fill="#5f5f5f" text-anchor="end">0.1</text><line x1="565.3" y1="897.9" x2="569.8" y2="897.9" stroke="#333" stroke-width="1"/><text x="562.0" y="901.6" font-size="10" fill="#5f5f5f" text-anchor="end">0.2</text><line x1="565.3" y1="872.4" x2="569.8" y2="872.4" stroke="#333" stroke-width="1"/><text x="562.0" y="876.1" font-size="10" fill="#5f5f5f" text-anchor="end">0.3</text><line x1="565.3" y1="846.8" x2="569.8" y2="846.8" stroke="#333" stroke-width="1"/><text x="562.0" y="850.5" font-size="10" fill="#5f5f5f" text-anchor="end">0.4</text><line x1="565.3" y1="821.2" x2="569.8" y2="821.2" stroke="#333" stroke-width="1"/><text x="562.0" y="825.0" font-size="10" fill="#5f5f5f" text-anchor="end">0.5</text><line x1="565.3" y1="795.7" x2="569.8" y2="795.7" stroke="#333" stroke-width="1"/><text x="562.0" y="799.4" font-size="10" fill="#5f5f5f" text-anchor="end">0.6</text><line x1="565.3" y1="770.1" x2="569.8" y2="770.1" stroke="#333" stroke-width="1"/><text x="562.0" y="773.9" font-size="10" fill="#5f5f5f" text-anchor="end">0.7</text><line x1="565.3" y1="744.6" x2="569.8" y2="744.6" stroke="#333" stroke-width="1"/><text x="562.0" y="748.3" font-size="10" fill="#5f5f5f" text-anchor="end">0.8</text><line x1="565.3" y1="719.0" x2="569.8" y2="719.0" stroke="#333" stroke-width="1"/><text x="562.0" y="722.8" font-size="10" fill="#5f5f5f" text-anchor="end">0.9</text><line x1="565.3" y1="693.5" x2="569.8" y2="693.5" stroke="#333" stroke-width="1"/><text x="562.0" y="697.2" font-size="10" fill="#5f5f5f" text-anchor="end">1</text><text x="611.3" y="964.8" font-size="10" fill="#5f5f5f" text-anchor="middle">10</text><text x="650.5" y="964.8" font-size="10" fill="#5f5f5f" text-anchor="middle">20</text><text x="689.6" y="964.8" font-size="10" fill="#5f5f5f" text-anchor="middle">30</text><text x="728.7" y="964.8" font-size="10" fill="#5f5f5f" text-anchor="middle">40</text><text x="767.9" y="964.8" font-size="10" fill="#5f5f5f" text-anchor="middle">50</text><text x="807.0" y="964.8" font-size="10" fill="#5f5f5f" text-anchor="middle">60</text><text x="846.1" y="964.8" font-size="10" fill="#5f5f5f" text-anchor="middle">70</text><text x="885.2" y="964.8" font-size="10" fill="#5f5f5f" text-anchor="middle">80</text><text x="924.4" y="964.8" font-size="10" fill="#5f5f5f" text-anchor="middle">90</text><text x="963.5" y="964.8" font-size="10" fill="#5f5f5f" text-anchor="middle">100</text><text x="758.2" y="686.2" font-size="16.25" font-weight="bold" fill="#333" text-anchor="middle">Validation Accuracy</text><line x1="893.4" y1="894.2" x2="915.6" y2="894.2" stroke="#a3cf8a" stroke-width="1.5" stroke-opacity="0.85"/><text x="918.9" y="897.7" font-size="10.4" fill="#5f5f5f">Resnet-18</text><line x1="893.4" y1="909.4" x2="915.6" y2="909.4" stroke="#ea8443" stroke-width="1.5" stroke-opacity="0.85"/><text x="918.9" y="912.9" font-size="10.4" fill="#5f5f5f">Resnet-34</text><line x1="893.4" y1="925.2" x2="915.6" y2="925.2" stroke="#8fabda" stroke-width="1.5" stroke-opacity="0.85"/><text x="918.9" y="928.7" font-size="10.4" fill="#5f5f5f">Resnet-50</text><text x="0" y="3.9" font-size="11.8" fill="#5f5f5f" text-anchor="middle" transform="translate(544.0 821.5) rotate(-90)">Accuracy</text><text x="770.7" y="983.8" font-size="11.5" fill="#5f5f5f" text-anchor="middle">Epoch</text></g>
<g><clipPath id="cDL"><rect x="121.5" y="1032.0" width="408.3" height="259.6"/></clipPath><path d="M126.90 1144.23 C129.17 1150.57 131.44 1157.85 133.71 1163.27 C136.51 1169.96 139.31 1176.19 142.11 1180.57 C143.18 1181.44 144.25 1181.18 145.32 1181.44 C147.85 1182.05 150.39 1182.31 152.92 1183.17 C154.66 1183.75 156.39 1185.68 158.13 1185.76 C162.13 1185.76 166.13 1184.03 170.14 1184.03 C172.94 1184.03 175.74 1185.27 178.54 1185.76 C180.68 1186.14 182.81 1186.05 184.95 1186.63 C188.15 1187.49 191.35 1190.09 194.55 1190.09 C196.29 1189.79 198.02 1184.25 199.76 1184.03 C202.56 1184.03 205.36 1186.89 208.16 1188.36 C210.30 1189.48 212.43 1191.82 214.57 1191.82 C216.70 1191.10 218.84 1184.90 220.97 1184.03 C223.11 1184.03 225.24 1184.92 227.38 1186.63 C228.85 1187.80 230.31 1192.19 231.78 1192.69 C234.58 1192.69 237.39 1191.45 240.19 1190.96 C242.32 1190.58 244.46 1190.09 246.59 1190.09 C248.73 1190.67 250.86 1193.76 253.00 1194.42 C256.47 1195.28 259.94 1194.93 263.40 1195.28 C265.54 1195.50 267.67 1196.15 269.81 1196.15 C273.41 1196.15 277.02 1195.28 280.62 1195.28 C284.22 1195.57 287.82 1197.52 291.43 1197.88 C293.56 1197.88 295.70 1197.01 297.83 1197.01 C300.63 1197.50 303.44 1199.32 306.24 1200.47 C309.04 1201.63 311.84 1203.28 314.64 1203.94 C316.78 1203.94 318.91 1203.94 321.05 1203.94 C323.18 1203.07 325.32 1199.18 327.45 1198.74 C329.59 1198.74 331.72 1200.59 333.86 1201.34 C336.66 1202.32 339.46 1203.69 342.26 1203.94 C346.13 1203.94 350.00 1203.07 353.87 1203.07 C357.08 1203.59 360.28 1206.64 363.48 1207.40 C366.42 1207.40 369.35 1207.40 372.29 1207.40 C374.29 1207.87 376.29 1210.51 378.29 1210.86 C381.23 1210.86 384.16 1209.99 387.10 1209.99 C391.37 1209.99 395.64 1210.70 399.91 1210.86 C403.38 1210.86 406.85 1210.86 410.32 1210.86 C413.12 1210.99 415.92 1211.58 418.72 1211.72 C421.66 1211.72 424.59 1211.72 427.53 1211.72 C429.93 1211.46 432.33 1209.99 434.73 1209.99 C435.80 1210.61 436.87 1217.39 437.94 1217.78 C441.54 1217.78 445.14 1215.19 448.74 1215.19 C452.35 1215.19 455.95 1217.63 459.55 1217.78 C463.02 1217.78 466.49 1216.20 469.96 1216.05 C473.16 1216.05 476.36 1216.65 479.57 1216.92 C483.44 1217.23 487.31 1216.92 491.18 1217.78 C493.71 1218.35 496.25 1221.24 498.78 1221.24 C501.58 1220.49 504.39 1213.76 507.19 1213.45 C509.72 1213.45 512.26 1218.19 514.79 1219.51 C516.13 1219.51 517.46 1219.51 518.80 1219.51 C520.66 1218.33 522.53 1215.47 524.40 1213.45" fill="none" stroke="#a3cf8a" stroke-width="1.45" stroke-linejoin="round" clip-path="url(#cDL)"/><path d="M126.90 1117.40 C128.50 1126.92 130.11 1137.93 131.71 1145.96 C133.44 1154.66 135.18 1161.68 136.91 1167.59 C138.64 1173.51 140.38 1177.38 142.11 1181.44 C143.58 1184.87 145.05 1188.77 146.52 1190.09 C148.25 1190.09 149.99 1190.09 151.72 1190.09 C153.86 1189.45 155.99 1187.36 158.13 1186.63 C161.06 1185.63 164.00 1184.90 166.93 1184.90 C168.27 1185.26 169.60 1189.84 170.94 1190.09 C172.67 1190.09 174.40 1186.94 176.14 1186.63 C177.61 1186.63 179.08 1188.36 180.54 1188.36 C182.01 1187.93 183.48 1185.09 184.95 1184.03 C186.68 1182.78 188.42 1181.44 190.15 1181.44 C191.88 1181.73 193.62 1184.59 195.35 1185.76 C197.89 1187.48 200.42 1190.09 202.96 1190.09 C204.69 1189.74 206.43 1183.17 208.16 1183.17 C210.30 1183.33 212.43 1190.44 214.57 1190.96 C216.04 1190.96 217.50 1185.76 218.97 1185.76 C220.71 1185.92 222.44 1191.20 224.18 1191.82 C228.05 1191.82 231.91 1191.82 235.78 1191.82 C237.65 1191.63 239.52 1190.09 241.39 1190.09 C243.12 1190.65 244.86 1195.14 246.59 1195.28 C248.33 1195.28 250.06 1190.96 251.80 1190.96 C255.00 1191.33 258.20 1196.32 261.40 1197.01 C263.54 1197.01 265.67 1194.71 267.81 1194.42 C269.94 1194.42 272.08 1194.94 274.21 1195.28 C275.68 1195.52 277.15 1196.15 278.62 1196.15 C279.95 1196.15 281.29 1195.28 282.62 1195.28 C284.09 1196.04 285.55 1200.19 287.02 1200.47 C288.49 1200.47 289.96 1197.01 291.43 1197.01 C293.83 1197.73 296.23 1203.94 298.63 1203.94 C300.10 1203.72 301.57 1195.81 303.03 1195.28 C304.77 1195.28 306.50 1199.72 308.24 1200.47 C311.84 1202.03 315.44 1201.88 319.05 1202.21 C321.85 1202.21 324.65 1202.21 327.45 1202.21 C329.85 1203.00 332.26 1207.40 334.66 1207.40 C336.13 1207.29 337.59 1201.87 339.06 1201.34 C340.80 1201.34 342.53 1202.51 344.27 1203.94 C346.40 1205.69 348.54 1210.43 350.67 1210.86 C352.81 1210.86 354.94 1206.68 357.08 1206.53 C359.21 1206.53 361.35 1208.78 363.48 1209.99 C366.42 1211.66 369.35 1215.19 372.29 1215.19 C375.36 1214.60 378.42 1207.01 381.49 1206.53 C384.03 1206.53 386.56 1211.96 389.10 1212.59 C391.23 1212.59 393.37 1210.39 395.50 1209.99 C398.04 1209.99 400.57 1209.99 403.11 1209.99 C404.84 1210.46 406.58 1213.33 408.31 1213.45 C410.45 1213.45 412.58 1210.86 414.72 1210.86 C416.85 1211.87 418.99 1218.07 421.12 1219.51 C423.26 1219.51 425.39 1219.51 427.53 1219.51 C429.66 1218.94 431.80 1216.34 433.93 1216.05 C436.07 1216.05 438.20 1217.78 440.34 1217.78 C443.81 1217.60 447.28 1215.19 450.75 1215.19 C453.68 1215.19 456.62 1216.99 459.55 1217.78 C463.02 1218.72 466.49 1220.38 469.96 1220.38 C471.69 1220.28 473.43 1216.92 475.16 1216.92 C476.63 1217.05 478.10 1220.79 479.57 1221.24 C482.77 1221.24 485.97 1221.24 489.17 1221.24 C491.98 1221.65 494.78 1223.84 497.58 1223.84 C500.38 1223.55 503.18 1220.00 505.99 1219.51 C508.12 1219.51 510.26 1221.24 512.39 1221.24 C513.86 1221.01 515.33 1217.78 516.79 1217.78 C519.33 1217.78 521.87 1220.09 524.40 1221.24" fill="none" stroke="#ea8443" stroke-width="1.45" stroke-linejoin="round" clip-path="url(#cDL)"/><path d="M126.90 1158.07 L130.51 1172.78 L136.91 1182.30 L144.52 1186.63 L152.92 1187.49 L159.33 1194.42 L167.73 1188.36 L172.14 1187.49 L176.14 1188.36 L184.95 1190.96 L191.35 1191.82 L195.35 1187.49 L202.96 1188.36 L210.57 1182.30 L215.77 1190.96 L219.77 1185.76 L227.38 1192.69 L231.78 1192.69 L234.98 1187.49 L238.99 1191.82 L244.59 1190.96 L251.00 1197.88 L257.40 1194.42 L262.60 1197.01 L267.81 1194.42 L276.21 1202.21 L280.62 1202.21 L285.82 1197.88 L292.23 1200.47 L301.83 1200.47 L307.04 1203.94 L314.64 1209.13 L319.85 1205.67 L327.45 1203.94 L332.66 1207.40 L342.26 1202.21 L350.67 1208.26 L357.08 1211.72 L363.48 1206.53 L369.88 1211.72 L378.29 1216.05 L384.70 1211.72 L391.10 1216.05 L399.91 1209.99 L408.31 1216.92 L414.72 1210.86 L421.92 1219.51 L427.53 1219.51 L435.93 1216.05 L443.54 1220.38 L453.15 1217.78 L463.56 1223.84 L469.96 1219.51 L478.37 1220.38 L487.17 1220.38 L496.38 1225.57 L501.98 1221.24 L508.39 1224.70 L514.79 1219.51 L524.40 1221.24" fill="none" stroke="#8fabda" stroke-width="1.45" stroke-linejoin="round" clip-path="url(#cDL)"/><rect x="121.5" y="1033.0" width="408.3" height="258.6" fill="none" stroke="#111" stroke-width="1.95" stroke-linejoin="round"/><line x1="117.0" y1="1291.6" x2="121.5" y2="1291.6" stroke="#333" stroke-width="1"/><text x="113.7" y="1295.3" font-size="10" fill="#5f5f5f" text-anchor="end">0.55</text><line x1="117.0" y1="1205.4" x2="121.5" y2="1205.4" stroke="#333" stroke-width="1"/><text x="113.7" y="1209.1" font-size="10" fill="#5f5f5f" text-anchor="end">0.65</text><line x1="117.0" y1="1119.2" x2="121.5" y2="1119.2" stroke="#333" stroke-width="1"/><text x="113.7" y="1122.9" font-size="10" fill="#5f5f5f" text-anchor="end">0.75</text><line x1="117.0" y1="1033.0" x2="121.5" y2="1033.0" stroke="#333" stroke-width="1"/><text x="113.7" y="1036.7" font-size="10" fill="#5f5f5f" text-anchor="end">0.85</text><text x="123.0" y="1308.2" font-size="10" fill="#5f5f5f" text-anchor="middle">0</text><text x="163.1" y="1308.2" font-size="10" fill="#5f5f5f" text-anchor="middle">10</text><text x="203.2" y="1308.2" font-size="10" fill="#5f5f5f" text-anchor="middle">20</text><text x="243.3" y="1308.2" font-size="10" fill="#5f5f5f" text-anchor="middle">30</text><text x="283.4" y="1308.2" font-size="10" fill="#5f5f5f" text-anchor="middle">40</text><text x="323.6" y="1308.2" font-size="10" fill="#5f5f5f" text-anchor="middle">50</text><text x="363.7" y="1308.2" font-size="10" fill="#5f5f5f" text-anchor="middle">60</text><text x="403.8" y="1308.2" font-size="10" fill="#5f5f5f" text-anchor="middle">70</text><text x="443.9" y="1308.2" font-size="10" fill="#5f5f5f" text-anchor="middle">80</text><text x="484.0" y="1308.2" font-size="10" fill="#5f5f5f" text-anchor="middle">90</text><text x="524.1" y="1308.2" font-size="10" fill="#5f5f5f" text-anchor="middle">100</text><text x="304.6" y="1024.6" font-size="16.25" font-weight="bold" fill="#333" text-anchor="middle">Training Loss</text><line x1="432.7" y1="1062.0" x2="455.0" y2="1062.0" stroke="#a3cf8a" stroke-width="1.5" stroke-opacity="0.85"/><text x="459.8" y="1065.5" font-size="10.4" fill="#5f5f5f">Resnet-18</text><line x1="432.7" y1="1078.3" x2="455.0" y2="1078.3" stroke="#ea8443" stroke-width="1.5" stroke-opacity="0.85"/><text x="459.8" y="1081.8" font-size="10.4" fill="#5f5f5f">Resnet-34</text><line x1="432.7" y1="1094.6" x2="455.0" y2="1094.6" stroke="#8fabda" stroke-width="1.5" stroke-opacity="0.85"/><text x="459.8" y="1098.1" font-size="10.4" fill="#5f5f5f">Resnet-50</text><text x="0" y="3.9" font-size="11.8" fill="#5f5f5f" text-anchor="middle" transform="translate(90.3 1163.0) rotate(-90)">Loss</text><text x="324.6" y="1326.5" font-size="11.5" fill="#5f5f5f" text-anchor="middle">Epoch</text></g>
<g><clipPath id="cDR"><rect x="569.3" y="1031.0" width="406.3" height="259.0"/></clipPath><path d="M570.70 1289.80 C572.56 1259.60 574.42 1230.32 576.27 1199.20 C577.34 1181.41 578.40 1159.34 579.46 1143.08 C580.52 1126.82 581.58 1106.87 582.65 1101.64 C585.04 1092.12 587.42 1092.12 589.81 1092.12 C591.54 1092.12 593.26 1100.72 594.99 1101.64 C597.11 1101.64 599.24 1100.42 601.36 1098.29 C603.09 1096.56 604.81 1090.06 606.54 1090.06 C608.13 1093.56 609.72 1118.55 611.32 1120.17 C613.17 1120.17 615.03 1105.07 616.89 1100.61 C618.22 1097.43 619.55 1097.96 620.87 1097.26 C622.33 1096.50 623.79 1096.41 625.25 1096.24 C626.58 1096.24 627.91 1096.24 629.24 1096.24 C630.96 1096.24 632.69 1096.24 634.41 1096.24 C635.87 1103.24 637.33 1139.31 638.79 1142.05 C640.12 1142.05 641.45 1117.42 642.77 1111.94 C645.56 1100.43 648.35 1092.09 651.14 1091.09 C653.13 1091.09 655.12 1105.63 657.11 1106.79 C659.23 1106.79 661.36 1098.29 663.48 1098.29 C665.60 1100.53 667.73 1106.89 669.85 1120.17 C671.44 1130.14 673.04 1168.05 674.63 1168.05 C676.49 1165.65 678.35 1119.56 680.21 1106.79 C681.93 1094.93 683.66 1095.45 685.38 1094.18 C688.43 1094.18 691.49 1094.18 694.54 1096.24 C697.06 1102.37 699.58 1134.85 702.11 1134.85 C703.83 1134.57 705.56 1102.23 707.28 1094.18 C708.61 1092.12 709.94 1092.12 711.26 1092.12 C712.72 1095.76 714.18 1113.54 715.64 1115.03 C716.97 1115.03 718.30 1102.76 719.63 1100.61 C721.75 1098.29 723.87 1099.83 726.00 1098.29 C727.33 1097.34 728.65 1093.15 729.98 1093.15 C732.37 1098.28 734.76 1122.02 737.15 1122.23 C738.61 1122.23 740.07 1096.85 741.53 1094.18 C743.25 1094.18 744.98 1097.53 746.70 1104.73 C747.90 1109.71 749.09 1130.73 750.29 1130.73 C751.88 1128.32 753.47 1097.53 755.07 1092.12 C757.06 1092.12 759.05 1094.18 761.04 1094.18 C762.50 1094.03 763.96 1091.09 765.42 1091.09 C767.01 1093.82 768.61 1104.96 770.20 1109.88 C771.53 1113.97 772.85 1118.11 774.18 1118.11 C775.24 1115.18 776.30 1091.28 777.37 1090.06 C778.69 1090.06 780.02 1109.71 781.35 1109.88 C782.81 1109.88 784.27 1091.09 785.73 1091.09 C787.06 1092.72 788.38 1119.68 789.71 1120.17 C791.17 1120.17 792.63 1099.09 794.09 1094.18 C795.82 1088.37 797.54 1089.01 799.27 1088.00 C801.66 1086.97 804.05 1087.63 806.43 1086.97 C807.76 1086.60 809.09 1084.91 810.42 1084.91 C812.14 1087.67 813.87 1100.84 815.59 1101.64 C817.58 1101.64 819.58 1090.06 821.57 1090.06 C822.89 1092.80 824.22 1121.30 825.55 1122.23 C827.14 1122.23 828.73 1101.49 830.33 1096.24 C832.72 1088.36 835.10 1083.49 837.49 1082.85 C838.95 1082.85 840.41 1092.89 841.87 1093.15 C844.26 1093.15 846.65 1084.91 849.04 1084.91 C850.37 1088.13 851.70 1120.01 853.02 1120.17 C854.48 1120.17 855.94 1091.01 857.40 1085.94 C859.13 1085.94 860.86 1085.94 862.58 1086.97 C863.91 1089.39 865.24 1102.07 866.56 1102.67 C868.29 1102.67 870.01 1092.43 871.74 1091.09 C874.53 1091.09 877.31 1092.12 880.10 1092.12 C881.83 1091.72 883.55 1090.60 885.28 1088.00 C886.74 1085.80 888.20 1077.88 889.66 1077.70 C890.99 1077.70 892.31 1085.25 893.64 1086.97 C896.03 1090.06 898.42 1092.12 900.81 1092.12 C905.06 1091.02 909.30 1083.22 913.55 1081.82 C915.54 1081.82 917.53 1084.36 919.52 1085.94 C920.98 1087.10 922.44 1090.06 923.90 1090.06 C925.23 1090.06 926.56 1086.07 927.89 1085.94 C930.01 1085.94 932.13 1088.82 934.26 1089.03 C935.58 1089.03 936.91 1086.97 938.24 1086.97 C939.70 1087.15 941.16 1090.06 942.62 1090.06 C945.41 1089.83 948.19 1086.40 950.98 1085.94 C952.31 1085.94 953.64 1088.00 954.96 1088.00 C957.09 1087.79 959.21 1085.12 961.33 1084.91 C962.66 1084.91 963.99 1086.97 965.32 1086.97 C966.64 1086.45 967.97 1083.54 969.30 1081.82" fill="none" stroke="#a3cf8a" stroke-width="1.45" stroke-linejoin="round" clip-path="url(#cDR)"/><path d="M570.70 1289.80 C571.89 1227.42 573.09 1122.03 574.28 1102.67 C576.94 1102.67 579.59 1102.67 582.25 1102.67 C583.71 1102.43 585.17 1100.61 586.63 1100.61 C588.35 1101.54 590.08 1105.74 591.80 1107.82 C594.06 1110.54 596.32 1115.03 598.57 1115.03 C600.17 1114.46 601.76 1105.01 603.35 1103.70 C604.68 1103.70 606.01 1107.82 607.33 1107.82 C608.79 1106.34 610.25 1096.84 611.71 1095.21 C613.71 1095.21 615.70 1095.21 617.69 1096.24 C619.15 1097.43 620.61 1103.70 622.07 1103.70 C623.53 1103.01 624.99 1092.12 626.45 1092.12 C627.78 1094.24 629.10 1115.50 630.43 1117.08 C631.76 1117.08 633.08 1101.64 634.41 1101.64 C636.54 1102.70 638.66 1113.95 640.78 1122.23 C642.64 1129.48 644.50 1148.23 646.36 1148.23 C647.95 1144.07 649.54 1101.26 651.14 1095.21 C653.92 1095.21 656.71 1097.87 659.50 1098.29 C661.22 1098.29 662.95 1097.26 664.68 1097.26 C665.34 1098.24 666.00 1108.85 666.67 1108.85 C667.99 1107.93 669.32 1094.34 670.65 1093.15 C672.37 1093.15 674.10 1100.61 675.82 1100.61 C677.95 1100.04 680.07 1090.06 682.20 1090.06 C683.92 1091.75 685.65 1105.86 687.37 1111.94 C689.50 1119.42 691.62 1130.73 693.74 1130.73 C695.47 1127.61 697.19 1100.54 698.92 1091.09 C699.98 1085.27 701.04 1084.91 702.11 1084.91 C703.43 1091.06 704.76 1123.74 706.09 1124.29 C708.88 1124.29 711.66 1094.72 714.45 1090.06 C716.18 1090.06 717.90 1101.64 719.63 1101.64 C722.41 1101.00 725.20 1088.38 727.99 1086.97 C730.11 1086.97 732.24 1092.28 734.36 1094.18 C735.69 1095.36 737.01 1094.18 738.34 1096.24 C739.54 1099.85 740.73 1117.08 741.93 1117.08 C743.39 1115.39 744.85 1089.03 746.31 1086.97 C747.77 1086.97 749.23 1103.14 750.69 1104.73 C751.75 1104.73 752.81 1095.21 753.87 1095.21 C755.33 1096.20 756.79 1109.59 758.25 1109.88 C760.24 1109.88 762.23 1097.26 764.23 1097.26 C766.22 1101.43 768.21 1133.76 770.20 1134.85 C771.53 1134.85 772.85 1108.25 774.18 1102.67 C775.24 1102.67 776.30 1102.67 777.37 1104.73 C778.96 1109.26 780.55 1125.32 782.14 1125.32 C783.47 1122.63 784.80 1090.87 786.13 1086.97 C787.98 1086.97 789.84 1093.22 791.70 1097.26 C793.82 1101.89 795.95 1112.97 798.07 1112.97 C800.59 1112.97 803.12 1097.92 805.64 1097.26 C807.10 1097.26 808.56 1109.88 810.02 1109.88 C811.61 1109.34 813.20 1094.18 814.80 1094.18 C816.92 1096.14 819.04 1119.23 821.17 1120.17 C822.89 1120.17 824.62 1101.63 826.34 1099.32 C828.73 1099.32 831.12 1103.70 833.51 1103.70 C835.24 1103.41 836.96 1098.44 838.69 1097.26 C842.14 1094.92 845.59 1093.15 849.04 1093.15 C851.43 1094.16 853.82 1103.49 856.21 1104.73 C858.60 1104.73 860.99 1101.94 863.38 1100.61 C864.84 1099.80 866.30 1098.29 867.76 1098.29 C869.48 1099.60 871.21 1107.82 872.93 1107.82 C874.26 1107.07 875.59 1094.49 876.92 1093.15 C878.38 1093.15 879.84 1095.86 881.30 1099.32 C882.62 1102.47 883.95 1112.44 885.28 1112.97 C886.74 1112.97 888.20 1103.97 889.66 1102.67 C892.05 1102.67 894.44 1102.67 896.83 1102.67 C898.15 1102.98 899.48 1105.24 900.81 1105.24 C902.53 1104.61 904.26 1100.14 905.98 1099.32 C909.17 1098.29 912.36 1098.29 915.54 1098.29 C917.66 1098.74 919.79 1102.48 921.91 1102.67 C923.64 1102.67 925.36 1099.63 927.09 1099.32 C931.60 1099.32 936.11 1099.32 940.63 1099.32 C941.96 1099.58 943.28 1102.67 944.61 1102.67 C946.34 1102.67 948.06 1099.32 949.79 1099.32 C951.51 1099.32 953.24 1102.30 954.96 1102.67 C958.41 1102.67 961.87 1102.67 965.32 1102.67 C966.64 1102.36 967.97 1100.44 969.30 1099.32" fill="none" stroke="#ea8443" stroke-width="1.45" stroke-linejoin="round" clip-path="url(#cDR)"/><path d="M570.70 1289.80 C571.50 1257.54 572.29 1222.52 573.09 1193.02 C573.82 1165.98 574.55 1130.45 575.28 1120.17 C576.27 1120.17 577.27 1120.17 578.27 1120.17 C579.73 1115.84 581.19 1101.53 582.65 1098.29 C584.64 1097.26 586.63 1097.93 588.62 1097.26 C590.74 1096.56 592.87 1094.18 594.99 1094.18 C597.11 1094.52 599.24 1098.76 601.36 1099.32 C603.09 1099.32 604.81 1097.26 606.54 1097.26 C607.87 1098.35 609.19 1106.79 610.52 1106.79 C611.98 1106.79 613.44 1097.26 614.90 1097.26 C616.23 1098.90 617.55 1116.72 618.88 1117.08 C620.08 1117.08 621.27 1099.32 622.47 1099.32 C623.93 1108.67 625.39 1168.05 626.85 1168.05 C628.31 1167.71 629.77 1110.73 631.23 1097.26 C632.29 1097.26 633.35 1097.26 634.41 1098.29 C636.00 1102.88 637.60 1120.17 639.19 1120.17 C640.39 1119.29 641.58 1094.96 642.77 1092.12 C644.50 1092.12 646.23 1095.40 647.95 1099.32 C649.28 1102.35 650.61 1112.97 651.93 1112.97 C653.66 1111.61 655.38 1095.30 657.11 1092.12 C658.97 1092.12 660.83 1092.12 662.68 1093.15 C664.28 1098.61 665.87 1126.90 667.46 1127.64 C669.59 1127.64 671.71 1102.82 673.83 1098.29 C675.29 1098.29 676.75 1104.73 678.21 1104.73 C681.00 1103.60 683.79 1093.84 686.58 1093.15 C687.90 1093.15 689.23 1093.15 690.56 1101.64 C691.75 1110.34 692.95 1145.01 694.14 1148.23 C696.00 1148.23 697.86 1135.16 699.72 1126.35 C701.44 1118.17 703.17 1101.30 704.89 1097.26 C707.02 1097.26 709.14 1099.32 711.26 1099.32 C712.99 1098.71 714.72 1093.15 716.44 1093.15 C718.17 1095.76 719.89 1113.61 721.62 1115.03 C723.34 1115.03 725.07 1103.77 726.79 1101.64 C729.32 1099.32 731.84 1100.28 734.36 1099.32 C735.69 1098.82 737.01 1097.26 738.34 1097.26 C739.54 1101.74 740.73 1127.49 741.93 1127.64 C743.52 1127.64 745.11 1102.65 746.70 1098.29 C748.03 1098.29 749.36 1098.29 750.69 1103.70 C751.75 1111.10 752.81 1148.23 753.87 1148.23 C755.33 1147.83 756.79 1110.18 758.25 1101.64 C759.58 1099.32 760.91 1099.32 762.23 1099.32 C763.43 1105.87 764.62 1143.08 765.82 1143.08 C767.28 1139.87 768.74 1088.16 770.20 1081.82 C771.53 1081.82 772.85 1106.18 774.18 1106.79 C776.57 1106.79 778.96 1087.37 781.35 1086.97 C783.07 1086.97 784.80 1103.89 786.52 1104.73 C789.05 1104.73 791.57 1093.15 794.09 1093.15 C796.48 1093.65 798.87 1107.82 801.26 1107.82 C802.98 1107.39 804.71 1090.57 806.43 1090.06 C808.16 1090.06 809.89 1104.15 811.61 1104.73 C812.94 1104.73 814.27 1093.15 815.59 1093.15 C817.72 1093.78 819.84 1107.82 821.96 1107.82 C823.69 1107.66 825.42 1092.63 827.14 1092.12 C828.87 1092.12 830.59 1104.73 832.32 1104.73 C834.04 1104.39 835.77 1090.43 837.49 1090.06 C838.95 1090.06 840.41 1101.73 841.87 1102.67 C843.60 1102.67 845.33 1097.39 847.05 1096.24 C849.04 1095.21 851.03 1096.06 853.02 1095.21 C855.81 1094.00 858.60 1090.06 861.39 1090.06 C862.85 1090.53 864.31 1098.78 865.77 1099.32 C867.09 1099.32 868.42 1093.15 869.75 1093.15 C871.87 1093.83 874.00 1101.61 876.12 1102.67 C878.11 1102.67 880.10 1100.79 882.09 1099.32 C884.88 1097.27 887.67 1092.80 890.45 1092.12 C893.24 1092.12 896.03 1094.23 898.82 1095.21 C900.94 1095.95 903.06 1096.91 905.19 1097.26 C907.18 1097.26 909.17 1097.26 911.16 1097.26 C914.74 1095.72 918.33 1091.06 921.91 1090.06 C923.24 1090.06 924.57 1093.15 925.89 1093.15 C927.22 1093.15 928.55 1090.06 929.88 1090.06 C931.34 1090.37 932.80 1094.46 934.26 1094.95 C937.71 1094.95 941.16 1094.95 944.61 1094.95 C945.94 1094.21 947.26 1087.42 948.59 1086.97 C950.05 1086.97 951.51 1091.68 952.97 1092.12 C954.96 1092.12 956.95 1090.98 958.94 1090.06 C960.67 1089.26 962.40 1086.97 964.12 1086.97 C965.85 1087.31 967.57 1090.40 969.30 1092.12" fill="none" stroke="#8fabda" stroke-width="1.45" stroke-linejoin="round" clip-path="url(#cDR)"/><rect x="569.3" y="1032.0" width="406.3" height="258.0" fill="none" stroke="#111" stroke-width="1.95" stroke-linejoin="round"/><line x1="564.8" y1="1290.0" x2="569.3" y2="1290.0" stroke="#333" stroke-width="1"/><text x="561.5" y="1293.7" font-size="10" fill="#5f5f5f" text-anchor="end">0</text><line x1="564.8" y1="1238.4" x2="569.3" y2="1238.4" stroke="#333" stroke-width="1"/><text x="561.5" y="1242.1" font-size="10" fill="#5f5f5f" text-anchor="end">20</text><line x1="564.8" y1="1186.8" x2="569.3" y2="1186.8" stroke="#333" stroke-width="1"/><text x="561.5" y="1190.5" font-size="10" fill="#5f5f5f" text-anchor="end">40</text><line x1="564.8" y1="1135.2" x2="569.3" y2="1135.2" stroke="#333" stroke-width="1"/><text x="561.5" y="1138.9" font-size="10" fill="#5f5f5f" text-anchor="end">60</text><line x1="564.8" y1="1083.6" x2="569.3" y2="1083.6" stroke="#333" stroke-width="1"/><text x="561.5" y="1087.3" font-size="10" fill="#5f5f5f" text-anchor="end">80</text><line x1="564.8" y1="1032.0" x2="569.3" y2="1032.0" stroke="#333" stroke-width="1"/><text x="561.5" y="1035.7" font-size="10" fill="#5f5f5f" text-anchor="end">100</text><text x="570.6" y="1306.4" font-size="10" fill="#5f5f5f" text-anchor="middle">0</text><text x="610.5" y="1306.4" font-size="10" fill="#5f5f5f" text-anchor="middle">10</text><text x="650.4" y="1306.4" font-size="10" fill="#5f5f5f" text-anchor="middle">20</text><text x="690.3" y="1306.4" font-size="10" fill="#5f5f5f" text-anchor="middle">30</text><text x="730.2" y="1306.4" font-size="10" fill="#5f5f5f" text-anchor="middle">40</text><text x="770.1" y="1306.4" font-size="10" fill="#5f5f5f" text-anchor="middle">50</text><text x="810.0" y="1306.4" font-size="10" fill="#5f5f5f" text-anchor="middle">60</text><text x="849.9" y="1306.4" font-size="10" fill="#5f5f5f" text-anchor="middle">70</text><text x="889.8" y="1306.4" font-size="10" fill="#5f5f5f" text-anchor="middle">80</text><text x="929.7" y="1306.4" font-size="10" fill="#5f5f5f" text-anchor="middle">90</text><text x="969.6" y="1306.4" font-size="10" fill="#5f5f5f" text-anchor="middle">100</text><text x="759.2" y="1024.9" font-size="16.25" font-weight="bold" fill="#333" text-anchor="middle">Validation Accuracy</text><line x1="894.4" y1="1233.8" x2="916.6" y2="1233.8" stroke="#a3cf8a" stroke-width="1.5" stroke-opacity="0.85"/><text x="920.3" y="1237.3" font-size="10.4" fill="#5f5f5f">Resnet-18</text><line x1="894.4" y1="1250.0" x2="916.6" y2="1250.0" stroke="#ea8443" stroke-width="1.5" stroke-opacity="0.85"/><text x="920.3" y="1253.5" font-size="10.4" fill="#5f5f5f">Resnet-34</text><line x1="894.4" y1="1265.7" x2="916.6" y2="1265.7" stroke="#8fabda" stroke-width="1.5" stroke-opacity="0.85"/><text x="920.3" y="1269.2" font-size="10.4" fill="#5f5f5f">Resnet-50</text><text x="0" y="3.9" font-size="11.8" fill="#5f5f5f" text-anchor="middle" transform="translate(543.0 1159.7) rotate(-90)">Accuracy</text><text x="771.7" y="1324.4" font-size="11.5" fill="#5f5f5f" text-anchor="middle">Epoch</text></g>
<g><clipPath id="cEL"><rect x="114.2" y="1380.9" width="408.0" height="259.0"/></clipPath><path d="M120.25 1488.81 C122.04 1497.85 123.83 1508.40 125.62 1515.91 C127.62 1524.32 129.63 1531.40 131.63 1536.56 C132.97 1540.00 134.30 1540.08 135.64 1541.72 C137.11 1543.52 138.58 1546.21 140.05 1546.88 C141.39 1546.88 142.72 1545.59 144.06 1545.59 C146.20 1546.12 148.33 1548.58 150.47 1549.46 C152.47 1550.30 154.48 1550.76 156.48 1550.76 C159.02 1550.52 161.56 1548.17 164.10 1548.17 C165.43 1548.32 166.77 1552.05 168.11 1552.05 C169.84 1552.05 171.58 1548.17 173.32 1548.17 C175.99 1548.44 178.66 1553.14 181.33 1553.34 C184.54 1553.34 187.74 1549.46 190.95 1549.46 C192.69 1549.62 194.42 1553.80 196.16 1554.63 C198.97 1555.92 201.77 1555.92 204.58 1555.92 C206.98 1555.12 209.39 1549.46 211.79 1549.46 C213.53 1550.01 215.27 1558.26 217.00 1559.79 C219.68 1561.08 222.35 1561.08 225.02 1561.08 C227.42 1561.08 229.83 1560.21 232.23 1559.79 C234.77 1559.35 237.31 1558.50 239.85 1558.50 C241.85 1559.45 243.86 1564.81 245.86 1566.24 C248.67 1568.25 251.47 1568.25 254.28 1568.82 C257.75 1569.54 261.22 1569.86 264.70 1570.11 C267.10 1570.11 269.51 1570.11 271.91 1570.11 C273.65 1571.38 275.39 1577.79 277.12 1579.15 C279.80 1580.44 282.47 1579.48 285.14 1580.44 C287.28 1581.20 289.41 1584.31 291.55 1584.31 C294.36 1584.31 297.16 1580.44 299.97 1580.44 C301.97 1580.44 303.98 1582.46 305.98 1584.31 C307.72 1585.91 309.45 1589.36 311.19 1590.76 C313.20 1592.37 315.20 1593.34 317.20 1593.34 C320.41 1592.28 323.62 1586.32 326.82 1585.60 C329.36 1585.60 331.90 1589.22 334.44 1589.47 C336.17 1589.47 337.91 1586.89 339.65 1586.89 C341.38 1587.53 343.12 1591.99 344.86 1593.34 C347.00 1595.00 349.13 1595.71 351.27 1595.92 C353.41 1595.92 355.55 1595.28 357.68 1594.63 C359.82 1593.99 361.96 1592.05 364.10 1592.05 C366.23 1592.70 368.37 1597.86 370.51 1598.50 C372.65 1598.50 374.78 1596.14 376.92 1595.92 C379.06 1595.92 381.20 1596.57 383.34 1597.21 C385.47 1597.86 387.61 1599.79 389.75 1599.79 C391.89 1599.58 394.02 1596.11 396.16 1595.92 C398.97 1595.92 401.77 1597.64 404.58 1598.50 C407.38 1599.36 410.19 1600.44 412.99 1601.09 C415.80 1601.73 418.61 1601.52 421.41 1602.38 C424.22 1603.24 427.02 1605.83 429.83 1606.25 C432.77 1606.25 435.71 1605.16 438.65 1604.96 C441.85 1604.96 445.06 1604.96 448.26 1604.96 C451.34 1605.17 454.41 1606.25 457.48 1606.25 C460.69 1605.81 463.90 1602.38 467.10 1602.38 C469.64 1602.38 472.18 1606.04 474.72 1606.25 C477.52 1606.25 480.33 1603.67 483.13 1603.67 C485.94 1603.88 488.75 1607.33 491.55 1607.54 C494.49 1607.54 497.43 1605.84 500.37 1604.96 C501.70 1604.55 503.04 1603.67 504.38 1603.67 C506.25 1604.67 508.12 1609.70 509.99 1610.12 C511.99 1610.12 514.00 1607.54 516.00 1606.25" fill="none" stroke="#a3cf8a" stroke-width="1.45" stroke-linejoin="round" clip-path="url(#cEL)"/><path d="M120.25 1452.68 C121.24 1463.43 122.23 1476.12 123.22 1484.94 C124.69 1498.06 126.16 1510.21 127.62 1518.49 C129.36 1528.28 131.10 1534.19 132.84 1539.14 C134.57 1544.09 136.31 1545.78 138.05 1548.17 C140.05 1550.94 142.05 1554.63 144.06 1554.63 C145.53 1554.45 147.00 1548.01 148.47 1546.88 C149.80 1546.88 151.14 1546.88 152.47 1548.17 C153.68 1549.60 154.88 1555.27 156.08 1555.92 C157.28 1555.92 158.49 1552.05 159.69 1552.05 C161.43 1552.55 163.16 1557.53 164.90 1558.50 C166.24 1558.50 167.57 1558.33 168.91 1557.21 C170.64 1555.75 172.38 1551.62 174.12 1550.76 C175.85 1550.76 177.59 1552.05 179.33 1552.05 C181.06 1551.83 182.80 1549.46 184.54 1549.46 C186.01 1550.06 187.48 1554.12 188.95 1555.92 C191.35 1558.85 193.76 1562.83 196.16 1563.66 C197.50 1563.66 198.83 1560.90 200.17 1559.79 C202.98 1557.46 205.78 1553.34 208.59 1553.34 C209.92 1553.34 211.26 1557.74 212.59 1559.79 C214.06 1562.04 215.53 1566.24 217.00 1566.24 C217.94 1566.07 218.87 1558.50 219.81 1558.50 C220.88 1558.96 221.95 1568.49 223.02 1568.82 C224.75 1568.82 226.49 1561.94 228.23 1561.08 C229.96 1561.08 231.70 1562.20 233.44 1563.66 C234.77 1564.78 236.11 1568.26 237.44 1568.82 C239.18 1568.82 240.92 1568.43 242.65 1567.53 C244.26 1566.71 245.86 1563.66 247.46 1563.66 C248.67 1564.95 249.87 1574.28 251.07 1576.57 C252.81 1579.87 254.54 1580.44 256.28 1580.44 C257.62 1579.13 258.95 1567.74 260.29 1567.53 C261.76 1567.53 263.23 1577.51 264.70 1579.15 C266.70 1579.15 268.71 1579.15 270.71 1579.15 C272.85 1579.81 274.99 1583.02 277.12 1583.02 C279.80 1582.78 282.47 1578.33 285.14 1577.86 C287.28 1577.86 289.41 1579.32 291.55 1580.44 C294.36 1581.90 297.16 1584.52 299.97 1585.60 C302.77 1586.67 305.58 1586.89 308.39 1586.89 C309.99 1586.89 311.59 1585.60 313.20 1585.60 C315.33 1586.09 317.47 1587.33 319.61 1589.47 C321.34 1591.21 323.08 1596.57 324.82 1597.21 C326.56 1597.21 328.29 1594.11 330.03 1593.34 C332.17 1592.39 334.30 1592.05 336.44 1592.05 C338.58 1592.27 340.72 1594.63 342.85 1594.63 C344.59 1594.63 346.33 1592.05 348.06 1592.05 C350.60 1592.82 353.14 1597.07 355.68 1598.50 C358.49 1600.08 361.29 1600.86 364.10 1601.09 C366.64 1601.09 369.17 1601.09 371.71 1599.79 C373.05 1599.05 374.38 1594.63 375.72 1594.63 C377.46 1594.88 379.19 1599.74 380.93 1601.09 C383.07 1602.75 385.21 1602.39 387.34 1603.67 C388.81 1604.54 390.28 1607.54 391.75 1607.54 C393.89 1606.52 396.03 1599.30 398.16 1598.50 C399.50 1598.50 400.84 1603.00 402.17 1603.67 C404.31 1603.67 406.45 1603.67 408.59 1603.67 C411.12 1604.83 413.66 1610.12 416.20 1610.12 C418.74 1610.12 421.28 1603.67 423.82 1603.67 C426.22 1604.08 428.63 1611.95 431.03 1612.70 C432.77 1612.70 434.50 1607.86 436.24 1607.54 C439.18 1607.54 442.12 1610.12 445.06 1610.12 C447.86 1610.12 450.67 1607.54 453.48 1607.54 C456.28 1607.54 459.09 1610.12 461.89 1610.12 C464.03 1609.93 466.17 1606.46 468.30 1606.25 C470.44 1606.25 472.58 1607.90 474.72 1608.83 C477.52 1610.05 480.33 1612.70 483.13 1612.70 C484.87 1612.37 486.61 1606.45 488.34 1606.25 C490.22 1606.25 492.09 1610.81 493.96 1611.41 C496.09 1611.41 498.23 1610.33 500.37 1610.12 C502.51 1610.12 504.64 1610.12 506.78 1610.12 C508.79 1609.49 510.79 1606.25 512.79 1606.25 C513.86 1606.25 514.93 1608.83 516.00 1610.12" fill="none" stroke="#ea8443" stroke-width="1.45" stroke-linejoin="round" clip-path="url(#cEL)"/><path d="M120.25 1505.59 C121.64 1514.19 123.03 1525.66 124.42 1531.40 C126.16 1538.57 127.89 1541.14 129.63 1544.30 C130.96 1546.73 132.30 1547.35 133.64 1548.17 C135.77 1549.50 137.91 1549.81 140.05 1550.76 C141.79 1551.53 143.52 1552.43 145.26 1553.34 C147.66 1554.59 150.07 1557.21 152.47 1557.21 C154.21 1556.85 155.95 1551.33 157.68 1550.76 C159.82 1550.76 161.96 1552.54 164.10 1553.34 C165.43 1553.83 166.77 1553.34 168.11 1554.63 C169.44 1556.35 170.78 1563.66 172.11 1563.66 C173.58 1563.44 175.05 1553.34 176.52 1553.34 C178.13 1553.34 179.73 1563.66 181.33 1563.66 C183.47 1562.92 185.61 1551.58 187.74 1549.46 C189.08 1549.46 190.42 1552.18 191.75 1553.34 C193.89 1555.19 196.03 1556.65 198.17 1558.50 C199.50 1559.66 200.84 1562.37 202.17 1562.37 C204.31 1562.37 206.45 1558.50 208.59 1558.50 C210.59 1558.71 212.59 1562.05 214.60 1563.66 C217.40 1565.92 220.21 1569.87 223.02 1570.11 C225.15 1570.11 227.29 1564.95 229.43 1564.95 C230.76 1564.95 232.10 1569.55 233.44 1570.11 C235.17 1570.11 236.91 1568.82 238.65 1568.82 C240.38 1570.33 242.12 1578.90 243.86 1579.15 C245.19 1579.15 246.53 1570.93 247.86 1570.11 C249.33 1570.11 250.80 1573.76 252.27 1573.98 C253.61 1573.98 254.95 1571.40 256.28 1571.40 C258.42 1571.93 260.56 1574.19 262.69 1576.57 C264.43 1578.49 266.17 1583.64 267.90 1584.31 C269.51 1584.31 271.11 1581.91 272.71 1580.44 C274.85 1578.47 276.99 1573.98 279.13 1573.98 C280.60 1573.98 282.07 1580.44 283.54 1580.44 C284.87 1580.44 286.21 1573.98 287.54 1573.98 C289.55 1575.02 291.55 1585.60 293.56 1585.60 C295.69 1585.60 297.83 1574.51 299.97 1573.98 C301.30 1573.98 302.64 1579.54 303.98 1583.02 C305.45 1586.85 306.92 1594.69 308.39 1595.92 C309.99 1595.92 311.59 1592.40 313.20 1590.76 C314.53 1589.39 315.87 1589.17 317.20 1586.89 C318.14 1585.30 319.07 1579.15 320.01 1579.15 C321.21 1579.87 322.41 1589.68 323.62 1590.76 C325.75 1590.76 327.89 1588.18 330.03 1588.18 C332.17 1588.40 334.30 1590.28 336.44 1592.05 C338.98 1594.15 341.52 1598.83 344.06 1599.79 C346.06 1599.79 348.06 1597.54 350.07 1597.21 C353.28 1597.21 356.48 1597.21 359.69 1597.21 C361.83 1597.56 363.96 1599.79 366.10 1599.79 C368.24 1599.58 370.38 1595.92 372.51 1595.92 C375.32 1596.17 378.12 1599.62 380.93 1601.09 C383.07 1602.20 385.21 1603.67 387.34 1603.67 C389.21 1603.47 391.08 1599.79 392.95 1599.79 C395.36 1600.28 397.76 1606.25 400.17 1606.25 C401.64 1606.08 403.11 1599.03 404.58 1598.50 C406.72 1598.50 408.85 1601.08 410.99 1602.38 C413.13 1603.67 415.27 1606.25 417.40 1606.25 C419.54 1606.25 421.68 1602.38 423.82 1602.38 C426.22 1603.29 428.63 1610.87 431.03 1611.41 C432.50 1611.41 433.97 1604.96 435.44 1604.96 C437.18 1604.96 438.91 1610.75 440.65 1611.41 C443.46 1611.41 446.26 1610.12 449.07 1610.12 C451.20 1610.12 453.34 1611.41 455.48 1611.41 C457.62 1611.41 459.75 1610.98 461.89 1610.12 C464.03 1609.26 466.17 1606.25 468.30 1606.25 C470.44 1606.25 472.58 1609.75 474.72 1610.12 C477.52 1610.12 480.33 1608.83 483.13 1608.83 C485.27 1609.20 487.41 1612.33 489.55 1612.70 C492.35 1612.70 495.16 1612.04 497.96 1611.41 C500.90 1610.75 503.84 1608.83 506.78 1608.83 C509.85 1609.49 512.93 1613.13 516.00 1615.28" fill="none" stroke="#8fabda" stroke-width="1.45" stroke-linejoin="round" clip-path="url(#cEL)"/><rect x="114.2" y="1381.9" width="408.0" height="258.0" fill="none" stroke="#111" stroke-width="1.95" stroke-linejoin="round"/><line x1="109.7" y1="1639.9" x2="114.2" y2="1639.9" stroke="#333" stroke-width="1"/><text x="106.4" y="1643.6" font-size="10" fill="#5f5f5f" text-anchor="end">0.6</text><line x1="109.7" y1="1510.9" x2="114.2" y2="1510.9" stroke="#333" stroke-width="1"/><text x="106.4" y="1514.6" font-size="10" fill="#5f5f5f" text-anchor="end">0.7</text><line x1="109.7" y1="1381.9" x2="114.2" y2="1381.9" stroke="#333" stroke-width="1"/><text x="106.4" y="1385.6" font-size="10" fill="#5f5f5f" text-anchor="end">0.8</text><text x="115.5" y="1656.4" font-size="10" fill="#5f5f5f" text-anchor="middle">0</text><text x="155.6" y="1656.4" font-size="10" fill="#5f5f5f" text-anchor="middle">10</text><text x="195.7" y="1656.4" font-size="10" fill="#5f5f5f" text-anchor="middle">20</text><text x="235.8" y="1656.4" font-size="10" fill="#5f5f5f" text-anchor="middle">30</text><text x="275.9" y="1656.4" font-size="10" fill="#5f5f5f" text-anchor="middle">40</text><text x="315.9" y="1656.4" font-size="10" fill="#5f5f5f" text-anchor="middle">50</text><text x="356.0" y="1656.4" font-size="10" fill="#5f5f5f" text-anchor="middle">60</text><text x="396.1" y="1656.4" font-size="10" fill="#5f5f5f" text-anchor="middle">70</text><text x="436.2" y="1656.4" font-size="10" fill="#5f5f5f" text-anchor="middle">80</text><text x="476.3" y="1656.4" font-size="10" fill="#5f5f5f" text-anchor="middle">90</text><text x="516.4" y="1656.4" font-size="10" fill="#5f5f5f" text-anchor="middle">100</text><text x="297.4" y="1372.7" font-size="16.25" font-weight="bold" fill="#333" text-anchor="middle">Training Loss</text><line x1="426.5" y1="1410.6" x2="448.4" y2="1410.6" stroke="#a3cf8a" stroke-width="1.5" stroke-opacity="0.85"/><text x="452.1" y="1414.1" font-size="10.4" fill="#5f5f5f">Resnet-18</text><line x1="426.5" y1="1426.4" x2="448.4" y2="1426.4" stroke="#ea8443" stroke-width="1.5" stroke-opacity="0.85"/><text x="452.1" y="1429.9" font-size="10.4" fill="#5f5f5f">Resnet-34</text><line x1="426.5" y1="1442.7" x2="448.4" y2="1442.7" stroke="#8fabda" stroke-width="1.5" stroke-opacity="0.85"/><text x="452.1" y="1446.2" font-size="10.4" fill="#5f5f5f">Resnet-50</text><text x="0" y="3.9" font-size="11.8" fill="#5f5f5f" text-anchor="middle" transform="translate(83.0 1510.8) rotate(-90)">Loss</text><text x="317.0" y="1674.6" font-size="11.5" fill="#5f5f5f" text-anchor="middle">Epoch</text></g>
<g><clipPath id="cER"><rect x="562.2" y="1378.8" width="405.5" height="258.1"/></clipPath><path d="M563.50 1636.80 C564.69 1611.15 565.88 1592.17 567.08 1559.85 C568.14 1531.12 569.20 1468.71 570.26 1453.66 C571.72 1452.63 573.17 1452.63 574.63 1452.63 C576.35 1453.74 578.08 1459.82 579.80 1459.82 C582.58 1459.18 585.36 1452.12 588.14 1449.55 C590.93 1446.99 593.71 1446.68 596.49 1444.42 C598.88 1442.49 601.26 1437.37 603.65 1436.99 C606.03 1436.99 608.42 1437.18 610.80 1442.12 C612.92 1446.50 615.04 1461.10 617.16 1464.94 C618.49 1464.94 619.81 1463.64 621.14 1460.84 C623.26 1456.37 625.38 1443.14 627.50 1443.14 C628.69 1446.41 629.88 1488.03 631.08 1488.03 C632.67 1488.03 634.25 1448.41 635.85 1443.14 C638.23 1443.14 640.62 1444.71 643.00 1448.53 C644.72 1451.29 646.45 1461.72 648.17 1462.89 C650.95 1462.89 653.73 1457.76 656.51 1457.76 C658.63 1459.43 660.75 1473.15 662.88 1474.44 C665.26 1474.44 667.64 1468.58 670.03 1465.97 C672.41 1463.36 674.80 1458.79 677.18 1458.79 C679.04 1466.38 680.89 1518.04 682.75 1518.04 C684.08 1516.76 685.40 1457.82 686.73 1449.55 C688.18 1449.55 689.64 1465.97 691.10 1465.97 C692.69 1465.79 694.28 1451.21 695.87 1448.53 C698.38 1445.19 700.90 1445.19 703.42 1445.19 C704.75 1446.49 706.07 1459.82 707.39 1459.82 C708.46 1459.82 709.51 1445.19 710.58 1445.19 C713.36 1449.96 716.14 1478.92 718.92 1479.57 C720.91 1479.57 722.90 1452.13 724.88 1448.53 C727.67 1448.53 730.45 1453.15 733.23 1453.66 C736.01 1453.66 738.80 1452.29 741.58 1451.61 C744.36 1450.92 747.14 1449.55 749.93 1449.55 C753.90 1449.96 757.88 1450.63 761.85 1453.66 C763.71 1455.07 765.56 1460.54 767.42 1462.89 C769.40 1465.41 771.39 1468.28 773.38 1468.28 C775.10 1465.54 776.83 1445.19 778.55 1445.19 C780.00 1446.61 781.46 1476.04 782.92 1477.51 C784.25 1477.51 785.57 1457.26 786.89 1453.66 C788.62 1452.63 790.34 1452.97 792.06 1452.63 C793.78 1452.29 795.51 1452.29 797.23 1451.61 C798.95 1450.92 800.68 1448.53 802.40 1448.53 C804.12 1449.38 805.84 1456.74 807.57 1456.74 C809.69 1456.74 811.80 1448.53 813.92 1448.53 C815.38 1451.07 816.84 1474.68 818.30 1475.46 C820.02 1475.46 821.74 1455.99 823.47 1453.66 C825.85 1453.66 828.24 1458.79 830.62 1458.79 C832.74 1457.98 834.86 1448.53 836.98 1448.53 C839.37 1448.71 841.75 1459.13 844.13 1459.82 C846.52 1459.82 848.90 1454.99 851.29 1452.63 C853.41 1450.54 855.53 1446.48 857.65 1446.48 C859.37 1446.78 861.10 1453.38 862.82 1454.68 C865.60 1456.74 868.38 1456.74 871.16 1456.74 C873.95 1456.39 876.73 1454.01 879.51 1452.63 C882.96 1450.93 886.40 1447.50 889.85 1447.50 C891.97 1447.50 894.09 1451.85 896.21 1452.63 C899.65 1453.66 903.10 1453.44 906.54 1453.66 C908.53 1453.66 910.52 1453.66 912.50 1453.66 C914.23 1452.55 915.95 1446.62 917.67 1446.48 C920.19 1446.48 922.71 1452.24 925.23 1452.63 C929.33 1452.63 933.44 1450.11 937.55 1449.55 C940.99 1449.55 944.44 1449.55 947.88 1449.55 C950.00 1449.82 952.12 1451.12 954.24 1451.61 C956.63 1452.15 959.01 1452.29 961.40 1452.63" fill="none" stroke="#a3cf8a" stroke-width="1.45" stroke-linejoin="round" clip-path="url(#cER)"/><path d="M563.50 1636.80 C564.69 1611.15 565.88 1587.01 567.08 1559.85 C568.53 1526.65 569.99 1476.09 571.45 1455.71 C572.77 1443.14 574.10 1443.63 575.42 1443.14 C576.88 1443.14 578.34 1451.65 579.80 1452.63 C581.52 1452.63 583.24 1449.77 584.97 1449.55 C586.02 1449.55 587.09 1449.55 588.14 1451.61 C589.34 1455.64 590.53 1472.38 591.72 1472.38 C593.18 1471.44 594.64 1448.51 596.10 1446.48 C597.15 1446.48 598.22 1457.51 599.27 1461.87 C600.73 1467.86 602.19 1477.51 603.65 1477.51 C604.97 1476.05 606.30 1455.91 607.62 1452.63 C608.68 1452.63 609.74 1459.82 610.80 1459.82 C612.26 1459.02 613.72 1448.91 615.17 1448.53 C616.37 1448.53 617.56 1448.53 618.75 1457.76 C620.21 1470.13 621.67 1515.65 623.12 1515.99 C624.58 1515.99 626.04 1471.95 627.50 1459.82 C628.82 1448.78 630.15 1446.48 631.47 1446.48 C632.53 1446.93 633.59 1454.31 634.65 1462.89 C636.24 1475.77 637.83 1510.86 639.42 1510.86 C640.88 1510.20 642.34 1458.79 643.79 1458.79 C644.99 1459.56 646.18 1514.17 647.37 1515.99 C648.70 1515.99 650.02 1481.23 651.35 1470.33 C652.67 1459.43 654.00 1452.41 655.32 1450.58 C656.78 1450.58 658.24 1457.40 659.69 1458.79 C660.75 1458.79 661.81 1457.76 662.88 1457.76 C664.20 1467.41 665.52 1510.86 666.85 1510.86 C668.31 1508.66 669.76 1447.93 671.22 1445.19 C672.55 1445.19 673.87 1495.21 675.20 1495.21 C676.52 1494.87 677.85 1444.00 679.17 1443.14 C680.63 1443.14 682.09 1483.11 683.54 1489.83 C684.87 1489.83 686.19 1481.62 687.52 1481.62 C688.85 1483.03 690.17 1498.29 691.50 1498.29 C692.82 1492.60 694.14 1454.07 695.47 1447.50 C696.66 1447.50 697.86 1453.99 699.05 1460.84 C700.50 1469.21 701.96 1492.98 703.42 1493.16 C704.75 1493.16 706.07 1465.96 707.39 1461.87 C709.78 1458.79 712.16 1460.06 714.55 1458.79 C716.67 1457.66 718.79 1456.58 720.91 1454.68 C722.24 1453.50 723.56 1450.00 724.88 1449.55 C726.61 1449.55 728.33 1449.55 730.05 1451.61 C731.51 1455.09 732.97 1472.38 734.42 1472.38 C735.88 1471.87 737.34 1449.07 738.80 1448.53 C740.12 1448.53 741.45 1469.31 742.77 1469.31 C744.10 1469.31 745.42 1448.83 746.75 1448.53 C748.47 1448.53 750.19 1461.70 751.91 1467.25 C754.03 1474.09 756.15 1482.33 758.27 1485.72 C760.00 1485.72 761.72 1485.72 763.44 1485.72 C764.37 1480.99 765.30 1447.17 766.23 1445.19 C767.55 1445.19 768.88 1467.37 770.20 1471.36 C771.66 1471.36 773.12 1471.36 774.57 1470.33 C775.90 1467.69 777.22 1454.68 778.55 1454.68 C779.87 1454.86 781.20 1470.46 782.52 1471.36 C783.72 1471.36 784.91 1464.43 786.10 1459.82 C787.43 1454.68 788.75 1442.12 790.08 1442.12 C791.40 1446.26 792.73 1483.84 794.05 1484.70 C795.51 1484.70 796.97 1452.21 798.42 1447.50 C799.75 1447.50 801.07 1455.97 802.40 1457.76 C803.86 1458.79 805.31 1457.76 806.77 1458.79 C807.96 1461.29 809.15 1474.44 810.35 1474.44 C811.94 1474.44 813.53 1459.85 815.12 1458.79 C817.11 1458.79 819.09 1467.25 821.08 1467.25 C822.80 1465.51 824.52 1449.85 826.25 1447.50 C828.10 1447.50 829.96 1449.12 831.81 1452.63 C833.80 1456.39 835.79 1467.47 837.77 1469.31 C839.50 1469.31 841.22 1463.32 842.94 1462.89 C844.00 1462.89 845.06 1467.25 846.12 1467.25 C847.58 1467.25 849.04 1462.89 850.50 1462.89 C852.88 1463.95 855.26 1472.38 857.65 1472.38 C859.37 1471.67 861.10 1459.64 862.82 1457.76 C864.94 1457.76 867.06 1459.82 869.18 1459.82 C870.50 1459.55 871.83 1455.71 873.15 1455.71 C874.88 1456.10 876.60 1460.58 878.32 1461.87 C880.70 1463.65 883.09 1464.94 885.48 1464.94 C887.60 1464.62 889.72 1461.42 891.84 1459.82 C894.22 1458.00 896.61 1454.68 898.99 1454.68 C902.83 1454.68 906.67 1459.82 910.52 1459.82 C911.97 1459.82 913.43 1454.99 914.89 1454.68 C918.34 1454.68 921.78 1456.74 925.23 1456.74 C926.55 1456.74 927.88 1454.68 929.20 1454.68 C930.66 1454.86 932.12 1457.76 933.57 1457.76 C934.90 1457.44 936.22 1452.63 937.55 1452.63 C938.87 1452.63 940.20 1457.63 941.52 1457.76 C943.64 1457.76 945.76 1455.08 947.88 1453.66 C949.34 1452.68 950.80 1450.76 952.25 1450.58 C953.58 1450.58 954.90 1451.59 956.23 1452.63 C957.95 1453.99 959.68 1456.05 961.40 1457.76" fill="none" stroke="#ea8443" stroke-width="1.45" stroke-linejoin="round" clip-path="url(#cER)"/><path d="M563.50 1636.80 C564.69 1611.15 565.88 1585.38 567.08 1559.85 C568.80 1522.97 570.52 1468.08 572.25 1449.55 C574.10 1444.42 575.95 1445.71 577.81 1444.42 C579.53 1443.23 581.25 1442.12 582.98 1442.12 C584.30 1442.41 585.63 1443.67 586.95 1446.48 C588.41 1449.57 589.87 1459.46 591.33 1459.82 C592.65 1459.82 593.98 1448.53 595.30 1448.53 C597.68 1448.97 600.07 1452.53 602.46 1461.87 C604.05 1468.09 605.63 1495.21 607.23 1495.21 C608.82 1492.09 610.40 1450.28 612.00 1443.14 C613.19 1443.14 614.38 1449.60 615.57 1457.76 C616.76 1465.93 617.96 1492.13 619.15 1492.13 C620.48 1489.93 621.80 1451.63 623.12 1445.19 C624.58 1445.19 626.04 1451.61 627.50 1451.61 C628.82 1451.61 630.15 1445.19 631.47 1445.19 C632.93 1445.37 634.39 1452.40 635.85 1452.63 C637.04 1452.63 638.23 1446.48 639.42 1446.48 C640.62 1447.50 641.81 1454.44 643.00 1458.79 C644.46 1464.10 645.91 1475.46 647.37 1475.46 C650.02 1472.10 652.67 1443.14 655.32 1443.14 C657.84 1449.22 660.36 1512.91 662.88 1512.91 C664.20 1512.32 665.52 1438.87 666.85 1438.01 C668.31 1438.01 669.76 1505.69 671.22 1507.52 C672.55 1507.52 673.87 1456.19 675.20 1448.53 C676.92 1448.53 678.64 1451.89 680.37 1454.68 C682.49 1458.13 684.61 1467.25 686.73 1467.25 C688.18 1466.14 689.64 1449.03 691.10 1446.48 C692.42 1446.48 693.75 1451.95 695.07 1452.63 C697.06 1452.63 699.05 1451.61 701.03 1451.61 C703.15 1456.42 705.27 1480.21 707.39 1480.59 C709.12 1480.59 710.84 1459.56 712.56 1453.66 C714.68 1446.39 716.80 1442.98 718.92 1441.09 C720.25 1441.09 721.57 1441.09 722.90 1444.42 C724.22 1449.98 725.55 1474.44 726.87 1474.44 C728.33 1474.21 729.79 1446.01 731.25 1443.14 C732.44 1443.14 733.63 1458.79 734.82 1458.79 C736.28 1458.79 737.74 1443.14 739.19 1443.14 C740.39 1444.22 741.58 1459.05 742.77 1465.97 C743.97 1472.90 745.16 1484.70 746.35 1484.70 C747.94 1484.70 749.53 1465.97 751.12 1465.97 C752.45 1465.97 753.77 1484.70 755.10 1484.70 C756.55 1483.62 758.01 1464.42 759.47 1459.82 C761.72 1452.70 763.97 1450.63 766.23 1449.55 C767.55 1449.55 768.88 1450.25 770.20 1454.68 C771.66 1459.57 773.12 1477.51 774.57 1477.51 C775.90 1476.86 777.22 1453.48 778.55 1450.58 C779.61 1450.58 780.67 1461.87 781.73 1461.87 C783.18 1460.23 784.64 1442.12 786.10 1442.12 C787.43 1446.55 788.75 1489.13 790.08 1489.83 C791.53 1489.83 792.99 1453.77 794.45 1446.48 C796.17 1442.12 797.89 1442.12 799.62 1442.12 C800.94 1442.86 802.26 1442.12 803.59 1451.61 C804.52 1459.60 805.44 1499.81 806.37 1500.34 C807.83 1500.34 809.29 1462.47 810.75 1455.71 C812.20 1455.71 813.66 1459.82 815.12 1459.82 C816.44 1458.84 817.77 1450.37 819.09 1449.55 C820.55 1449.55 822.01 1454.68 823.47 1454.68 C824.39 1454.29 825.32 1446.61 826.25 1446.48 C827.70 1446.48 829.16 1453.35 830.62 1453.66 C832.34 1453.66 834.07 1450.87 835.79 1448.53 C837.91 1445.65 840.03 1438.01 842.15 1438.01 C843.47 1439.06 844.80 1456.09 846.12 1456.74 C847.58 1456.74 849.04 1443.55 850.50 1442.12 C851.82 1442.12 853.14 1443.22 854.47 1448.53 C855.66 1453.31 856.85 1472.38 858.05 1472.38 C859.64 1472.19 861.23 1449.30 862.82 1447.50 C864.94 1447.50 867.06 1459.82 869.18 1459.82 C870.90 1459.01 872.62 1443.55 874.35 1442.12 C876.73 1442.12 879.12 1449.55 881.50 1449.55 C884.55 1449.17 887.59 1441.24 890.64 1440.06 C893.16 1440.06 895.68 1443.14 898.19 1443.14 C899.52 1443.14 900.85 1440.06 902.17 1440.06 C903.63 1440.29 905.09 1443.89 906.54 1444.42 C907.87 1444.42 909.19 1443.14 910.52 1443.14 C913.30 1443.61 916.08 1444.77 918.87 1446.48 C921.25 1447.94 923.63 1452.13 926.02 1452.63 C928.54 1452.63 931.05 1451.10 933.57 1449.55 C936.22 1447.93 938.87 1443.64 941.52 1443.14 C944.31 1443.14 947.09 1445.07 949.87 1446.48 C951.99 1447.55 954.11 1450.58 956.23 1450.58 C957.95 1450.39 959.68 1446.99 961.40 1445.19" fill="none" stroke="#8fabda" stroke-width="1.45" stroke-linejoin="round" clip-path="url(#cER)"/><rect x="562.2" y="1379.8" width="405.5" height="257.1" fill="none" stroke="#111" stroke-width="1.95" stroke-linejoin="round"/><line x1="557.7" y1="1636.9" x2="562.2" y2="1636.9" stroke="#333" stroke-width="1"/><text x="554.4" y="1640.6" font-size="10" fill="#5f5f5f" text-anchor="end">0</text><line x1="557.7" y1="1585.5" x2="562.2" y2="1585.5" stroke="#333" stroke-width="1"/><text x="554.4" y="1589.2" font-size="10" fill="#5f5f5f" text-anchor="end">20</text><line x1="557.7" y1="1534.1" x2="562.2" y2="1534.1" stroke="#333" stroke-width="1"/><text x="554.4" y="1537.8" font-size="10" fill="#5f5f5f" text-anchor="end">40</text><line x1="557.7" y1="1482.6" x2="562.2" y2="1482.6" stroke="#333" stroke-width="1"/><text x="554.4" y="1486.3" font-size="10" fill="#5f5f5f" text-anchor="end">60</text><line x1="557.7" y1="1431.2" x2="562.2" y2="1431.2" stroke="#333" stroke-width="1"/><text x="554.4" y="1434.9" font-size="10" fill="#5f5f5f" text-anchor="end">80</text><line x1="557.7" y1="1379.8" x2="562.2" y2="1379.8" stroke="#333" stroke-width="1"/><text x="554.4" y="1383.5" font-size="10" fill="#5f5f5f" text-anchor="end">100</text><text x="563.4" y="1653.6" font-size="10" fill="#5f5f5f" text-anchor="middle">0</text><text x="603.2" y="1653.6" font-size="10" fill="#5f5f5f" text-anchor="middle">10</text><text x="643.1" y="1653.6" font-size="10" fill="#5f5f5f" text-anchor="middle">20</text><text x="682.9" y="1653.6" font-size="10" fill="#5f5f5f" text-anchor="middle">30</text><text x="722.7" y="1653.6" font-size="10" fill="#5f5f5f" text-anchor="middle">40</text><text x="762.5" y="1653.6" font-size="10" fill="#5f5f5f" text-anchor="middle">50</text><text x="802.4" y="1653.6" font-size="10" fill="#5f5f5f" text-anchor="middle">60</text><text x="842.2" y="1653.6" font-size="10" fill="#5f5f5f" text-anchor="middle">70</text><text x="882.0" y="1653.6" font-size="10" fill="#5f5f5f" text-anchor="middle">80</text><text x="921.9" y="1653.6" font-size="10" fill="#5f5f5f" text-anchor="middle">90</text><text x="961.7" y="1653.6" font-size="10" fill="#5f5f5f" text-anchor="middle">100</text><text x="788.3" y="1373.0" font-size="16.25" font-weight="bold" fill="#333" text-anchor="middle">Validation Accuracy</text><line x1="886.8" y1="1581.9" x2="910.4" y2="1581.9" stroke="#a3cf8a" stroke-width="1.5" stroke-opacity="0.85"/><text x="913.7" y="1585.4" font-size="10.4" fill="#5f5f5f">Resnet-18</text><line x1="886.8" y1="1597.0" x2="910.4" y2="1597.0" stroke="#ea8443" stroke-width="1.5" stroke-opacity="0.85"/><text x="913.7" y="1600.5" font-size="10.4" fill="#5f5f5f">Resnet-34</text><line x1="886.8" y1="1613.1" x2="910.4" y2="1613.1" stroke="#8fabda" stroke-width="1.5" stroke-opacity="0.85"/><text x="913.7" y="1616.6" font-size="10.4" fill="#5f5f5f">Resnet-50</text><text x="0" y="3.9" font-size="11.8" fill="#5f5f5f" text-anchor="middle" transform="translate(535.6 1508.5) rotate(-90)">Accuracy</text><text x="764.7" y="1672.0" font-size="11.5" fill="#5f5f5f" text-anchor="middle">Epoch</text></g>
<g><clipPath id="cFL"><rect x="110.3" y="1724.0" width="409.6" height="260.3"/></clipPath><path d="M116.51 1778.98 C119.72 1789.01 122.93 1800.57 126.14 1809.08 C128.28 1814.75 130.42 1818.55 132.56 1821.53 C133.90 1823.40 135.23 1823.61 136.57 1823.61 C137.91 1823.18 139.25 1818.94 140.58 1818.94 C142.05 1819.75 143.52 1827.29 145.00 1828.28 C147.14 1828.28 149.28 1826.98 151.42 1826.20 C153.55 1825.43 155.69 1823.61 157.83 1823.61 C159.31 1824.03 160.78 1829.32 162.25 1829.32 C164.25 1828.52 166.26 1819.46 168.27 1819.46 C169.74 1819.46 171.21 1827.84 172.68 1829.32 C174.82 1830.36 176.96 1830.36 179.10 1830.36 C181.64 1830.36 184.18 1829.32 186.72 1829.32 C188.46 1830.02 190.20 1835.55 191.94 1835.55 C193.67 1835.37 195.41 1828.28 197.15 1828.28 C198.62 1828.44 200.09 1835.95 201.57 1836.59 C203.30 1836.59 205.04 1832.83 206.78 1832.43 C209.59 1832.43 212.40 1832.96 215.21 1833.47 C218.15 1834.00 221.09 1834.55 224.03 1835.55 C226.17 1836.28 228.31 1837.61 230.45 1838.66 C233.26 1840.04 236.07 1842.81 238.88 1842.81 C240.21 1842.59 241.55 1836.59 242.89 1836.59 C245.03 1838.39 247.17 1851.64 249.31 1851.64 C251.85 1851.07 254.39 1834.81 256.93 1833.47 C258.67 1833.47 260.41 1843.68 262.15 1844.89 C263.88 1844.89 265.62 1840.74 267.36 1840.74 C269.23 1843.34 271.11 1859.79 272.98 1859.94 C275.39 1859.94 277.79 1841.98 280.20 1841.78 C281.94 1841.78 283.68 1856.96 285.42 1858.90 C287.56 1858.90 289.70 1855.62 291.84 1854.75 C293.97 1853.88 296.11 1853.71 298.25 1853.71 C300.39 1854.40 302.53 1856.99 304.67 1858.90 C306.41 1860.45 308.15 1864.09 309.89 1864.09 C312.43 1863.58 314.97 1856.31 317.51 1856.31 C318.85 1857.32 320.19 1872.91 321.52 1872.91 C323.00 1872.73 324.47 1856.06 325.94 1855.27 C327.68 1855.27 329.41 1866.51 331.15 1867.72 C332.89 1867.72 334.63 1862.54 336.37 1862.54 C338.24 1863.43 340.11 1871.55 341.99 1872.91 C344.39 1872.91 346.80 1871.88 349.21 1871.88 C351.35 1874.24 353.49 1886.32 355.63 1887.97 C357.77 1887.97 359.91 1881.74 362.05 1881.74 C364.18 1882.08 366.32 1889.70 368.46 1890.04 C370.60 1890.04 372.74 1884.14 374.88 1883.81 C377.29 1883.81 379.70 1886.05 382.11 1887.97 C383.18 1888.82 384.24 1892.12 385.31 1892.12 C386.79 1891.32 388.26 1883.81 389.73 1883.81 C391.87 1884.33 394.01 1892.54 396.15 1894.71 C398.96 1897.56 401.76 1897.69 404.57 1898.87 C406.71 1899.76 408.85 1899.41 410.99 1900.94 C412.73 1902.18 414.47 1906.61 416.21 1907.17 C417.68 1907.17 419.15 1904.06 420.62 1904.06 C422.36 1904.24 424.10 1907.83 425.84 1908.21 C427.31 1908.21 428.78 1906.13 430.25 1906.13 C431.32 1907.01 432.39 1914.43 433.46 1914.43 C434.80 1914.43 436.13 1906.56 437.47 1906.13 C439.34 1906.13 441.22 1909.40 443.09 1911.32 C445.09 1913.38 447.10 1918.07 449.11 1918.07 C452.05 1917.66 454.99 1909.45 457.93 1909.24 C460.07 1909.24 462.21 1916.05 464.35 1917.03 C466.76 1917.03 469.17 1916.48 471.57 1915.47 C473.71 1914.58 475.85 1911.32 477.99 1911.32 C479.73 1912.33 481.47 1922.06 483.21 1922.22 C485.35 1922.22 487.49 1912.36 489.63 1912.36 C491.77 1912.70 493.91 1923.68 496.05 1924.30 C497.52 1924.30 498.99 1917.77 500.46 1915.47 C502.20 1912.76 503.94 1909.24 505.67 1909.24 C507.15 1909.64 508.62 1916.35 510.09 1918.07 C511.43 1919.11 512.76 1918.76 514.10 1919.11" fill="none" stroke="#a3cf8a" stroke-width="1.45" stroke-linejoin="round" clip-path="url(#cFL)"/><path d="M116.51 1764.44 C117.92 1772.23 119.32 1781.44 120.72 1787.80 C122.53 1795.97 124.33 1803.05 126.14 1808.04 C128.28 1813.95 130.42 1817.30 132.56 1820.50 C133.90 1822.49 135.23 1823.28 136.57 1823.61 C138.04 1823.61 139.51 1822.57 140.98 1822.57 C143.12 1823.70 145.26 1829.15 147.40 1829.32 C149.54 1829.32 151.68 1824.39 153.82 1823.61 C155.96 1823.61 158.10 1823.61 160.24 1824.65 C161.98 1825.81 163.72 1831.14 165.46 1831.39 C167.20 1831.39 168.93 1826.52 170.67 1826.20 C172.81 1826.20 174.95 1828.91 177.09 1829.32 C178.56 1829.32 180.03 1828.28 181.51 1828.28 C182.84 1829.10 184.18 1834.51 185.52 1834.51 C187.79 1833.53 190.06 1824.02 192.34 1823.61 C193.94 1823.61 195.55 1831.39 197.15 1832.43 C199.02 1832.43 200.90 1830.36 202.77 1830.36 C204.51 1830.69 206.25 1833.30 207.98 1834.51 C209.72 1835.72 211.46 1837.00 213.20 1837.62 C215.34 1838.39 217.48 1837.62 219.62 1838.66 C221.36 1839.59 223.10 1843.85 224.83 1843.85 C226.31 1843.06 227.78 1834.42 229.25 1833.47 C230.99 1833.47 232.73 1837.62 234.46 1837.62 C236.60 1837.24 238.74 1831.57 240.88 1831.39 C243.02 1831.39 245.16 1835.20 247.30 1836.59 C249.44 1837.97 251.58 1839.18 253.72 1839.70 C255.86 1839.70 258.00 1839.70 260.14 1839.70 C262.95 1840.09 265.76 1840.74 268.57 1841.78 C271.37 1842.81 274.18 1844.63 276.99 1845.93 C279.80 1847.22 282.61 1848.48 285.42 1849.56 C287.56 1850.38 289.70 1850.77 291.84 1851.64 C293.97 1852.50 296.11 1854.75 298.25 1854.75 C300.39 1852.76 302.53 1839.70 304.67 1839.70 C306.14 1840.26 307.62 1856.94 309.09 1858.90 C311.76 1858.90 314.44 1856.31 317.11 1856.31 C318.58 1857.47 320.05 1867.92 321.52 1868.76 C323.66 1868.76 325.80 1862.54 327.94 1862.54 C329.82 1864.07 331.69 1878.62 333.56 1878.62 C336.37 1878.62 339.18 1862.54 341.99 1862.54 C345.19 1862.90 348.40 1873.74 351.61 1880.70 C353.35 1884.47 355.09 1894.71 356.83 1894.71 C359.24 1894.71 361.64 1882.55 364.05 1880.70 C365.92 1880.70 367.80 1882.20 369.67 1884.85 C372.08 1888.26 374.48 1897.40 376.89 1898.87 C379.03 1898.87 381.17 1893.57 383.31 1893.16 C386.52 1893.16 389.73 1894.30 392.94 1895.75 C395.48 1896.90 398.02 1900.17 400.56 1900.94 C402.57 1900.94 404.57 1899.90 406.58 1899.90 C409.52 1901.96 412.46 1907.41 415.40 1911.32 C417.54 1914.16 419.68 1920.14 421.82 1920.14 C423.16 1919.48 424.50 1906.35 425.84 1906.13 C428.64 1906.13 431.45 1915.27 434.26 1918.07 C437.87 1921.67 441.48 1924.68 445.09 1925.33 C447.23 1925.33 449.37 1921.93 451.51 1921.18 C454.32 1920.20 457.13 1921.18 459.94 1920.14 C461.68 1918.89 463.42 1911.32 465.15 1911.32 C467.69 1912.96 470.24 1926.06 472.78 1928.45 C475.58 1928.45 478.39 1926.37 481.20 1926.37 C484.01 1926.55 486.82 1929.49 489.63 1929.49 C492.44 1927.93 495.24 1917.03 498.05 1917.03 C500.19 1917.03 502.33 1927.64 504.47 1929.49 C505.94 1929.49 507.41 1926.37 508.88 1926.37 C510.62 1926.37 512.36 1928.45 514.10 1929.49" fill="none" stroke="#ea8443" stroke-width="1.45" stroke-linejoin="round" clip-path="url(#cFL)"/><path d="M116.51 1775.86 C118.25 1783.30 119.99 1791.97 121.73 1798.18 C123.87 1805.81 126.01 1813.14 128.15 1817.38 C130.29 1821.62 132.43 1822.14 134.56 1823.61 C136.70 1825.08 138.84 1825.25 140.98 1826.20 C143.12 1827.16 145.26 1829.32 147.40 1829.32 C149.14 1828.93 150.88 1824.18 152.62 1823.61 C154.04 1823.61 155.45 1826.20 156.87 1826.20 C158.13 1825.88 159.39 1821.53 160.64 1821.53 C161.85 1822.04 163.05 1828.76 164.25 1829.32 C166.39 1829.32 168.53 1827.25 170.67 1826.20 C172.41 1825.35 174.15 1823.61 175.89 1823.61 C177.76 1824.33 179.63 1829.79 181.51 1830.36 C183.64 1830.36 185.78 1827.24 187.92 1827.24 C190.73 1827.24 193.54 1829.98 196.35 1830.36 C198.76 1830.36 201.16 1829.32 203.57 1829.32 C205.04 1829.71 206.51 1832.52 207.98 1833.47 C209.72 1834.60 211.46 1835.55 213.20 1835.55 C215.74 1835.55 218.28 1834.83 220.82 1833.47 C222.16 1832.76 223.50 1829.32 224.83 1829.32 C226.31 1830.04 227.78 1836.20 229.25 1837.62 C230.99 1838.66 232.73 1837.62 234.46 1838.66 C236.20 1839.70 237.94 1842.03 239.68 1843.85 C241.42 1845.67 243.16 1849.56 244.89 1849.56 C246.37 1848.77 247.84 1841.52 249.31 1838.66 C250.78 1835.81 252.25 1832.43 253.72 1832.43 C255.46 1833.74 257.20 1843.07 258.94 1845.93 C260.68 1848.78 262.41 1846.98 264.15 1849.56 C266.02 1852.34 267.90 1862.02 269.77 1862.02 C272.18 1861.14 274.58 1847.68 276.99 1844.89 C278.46 1844.89 279.93 1846.98 281.40 1848.52 C282.74 1849.92 284.08 1852.51 285.42 1853.71 C287.56 1855.63 289.70 1857.86 291.84 1857.86 C293.57 1856.24 295.31 1843.00 297.05 1842.81 C298.52 1842.81 299.99 1854.73 301.46 1856.83 C304.00 1859.94 306.55 1858.55 309.09 1859.94 C310.02 1860.45 310.96 1859.99 311.90 1862.54 C313.63 1867.26 315.37 1881.74 317.11 1881.74 C318.45 1879.56 319.79 1850.71 321.12 1847.48 C322.73 1847.48 324.33 1856.89 325.94 1860.46 C327.68 1864.33 329.41 1868.25 331.15 1869.80 C333.69 1871.88 336.23 1869.80 338.78 1871.88 C340.92 1874.01 343.06 1881.35 345.19 1883.81 C348.00 1887.05 350.81 1887.89 353.62 1889.00 C356.03 1889.96 358.43 1890.04 360.84 1890.04 C363.52 1886.86 366.19 1871.20 368.87 1870.84 C371.27 1870.84 373.68 1880.53 376.09 1887.97 C377.83 1893.33 379.56 1908.27 381.30 1909.24 C382.64 1909.24 383.98 1894.31 385.31 1893.16 C386.79 1893.16 388.26 1901.72 389.73 1901.98 C391.20 1901.98 392.67 1894.71 394.14 1894.71 C396.28 1894.92 398.42 1901.06 400.56 1903.02 C402.97 1905.22 405.37 1904.51 407.78 1907.17 C409.92 1909.53 412.06 1917.66 414.20 1918.07 C415.67 1918.07 417.14 1909.64 418.61 1909.24 C420.35 1909.24 422.09 1914.18 423.83 1915.47 C425.57 1916.77 427.31 1917.03 429.05 1917.03 C430.78 1915.82 432.52 1908.21 434.26 1908.21 C435.73 1908.21 437.20 1917.03 438.67 1917.03 C439.74 1916.59 440.81 1905.09 441.88 1905.09 C443.62 1905.95 445.36 1919.09 447.10 1921.18 C449.24 1921.18 451.38 1919.70 453.52 1919.11 C456.33 1918.32 459.14 1917.03 461.94 1917.03 C464.08 1917.18 466.22 1920.14 468.36 1920.14 C470.50 1920.14 472.64 1917.03 474.78 1917.03 C476.92 1917.55 479.06 1922.39 481.20 1923.26 C483.34 1923.26 485.48 1922.22 487.62 1922.22 C489.76 1922.91 491.90 1927.20 494.04 1927.41 C495.38 1927.41 496.71 1923.26 498.05 1923.26 C499.52 1923.80 500.99 1930.52 502.47 1930.52 C503.94 1930.52 505.41 1924.35 506.88 1923.26 C508.22 1923.26 509.55 1924.30 510.89 1924.30 C511.96 1923.68 513.03 1920.84 514.10 1919.11" fill="none" stroke="#8fabda" stroke-width="1.45" stroke-linejoin="round" clip-path="url(#cFL)"/><rect x="110.3" y="1725.0" width="409.6" height="259.3" fill="none" stroke="#111" stroke-width="1.95" stroke-linejoin="round"/><line x1="105.8" y1="1984.3" x2="110.3" y2="1984.3" stroke="#333" stroke-width="1"/><text x="102.5" y="1988.0" font-size="10" fill="#5f5f5f" text-anchor="end">0.3</text><line x1="105.8" y1="1932.4" x2="110.3" y2="1932.4" stroke="#333" stroke-width="1"/><text x="102.5" y="1936.1" font-size="10" fill="#5f5f5f" text-anchor="end">0.4</text><line x1="105.8" y1="1880.6" x2="110.3" y2="1880.6" stroke="#333" stroke-width="1"/><text x="102.5" y="1884.3" font-size="10" fill="#5f5f5f" text-anchor="end">0.5</text><line x1="105.8" y1="1828.7" x2="110.3" y2="1828.7" stroke="#333" stroke-width="1"/><text x="102.5" y="1832.4" font-size="10" fill="#5f5f5f" text-anchor="end">0.6</text><line x1="105.8" y1="1776.9" x2="110.3" y2="1776.9" stroke="#333" stroke-width="1"/><text x="102.5" y="1780.6" font-size="10" fill="#5f5f5f" text-anchor="end">0.7</text><line x1="105.8" y1="1725.0" x2="110.3" y2="1725.0" stroke="#333" stroke-width="1"/><text x="102.5" y="1728.7" font-size="10" fill="#5f5f5f" text-anchor="end">0.8</text><text x="112.0" y="2000.4" font-size="10" fill="#5f5f5f" text-anchor="middle">0</text><text x="152.2" y="2000.4" font-size="10" fill="#5f5f5f" text-anchor="middle">10</text><text x="192.5" y="2000.4" font-size="10" fill="#5f5f5f" text-anchor="middle">20</text><text x="232.7" y="2000.4" font-size="10" fill="#5f5f5f" text-anchor="middle">30</text><text x="272.9" y="2000.4" font-size="10" fill="#5f5f5f" text-anchor="middle">40</text><text x="313.1" y="2000.4" font-size="10" fill="#5f5f5f" text-anchor="middle">50</text><text x="353.4" y="2000.4" font-size="10" fill="#5f5f5f" text-anchor="middle">60</text><text x="393.6" y="2000.4" font-size="10" fill="#5f5f5f" text-anchor="middle">70</text><text x="433.8" y="2000.4" font-size="10" fill="#5f5f5f" text-anchor="middle">80</text><text x="474.1" y="2000.4" font-size="10" fill="#5f5f5f" text-anchor="middle">90</text><text x="514.3" y="2000.4" font-size="10" fill="#5f5f5f" text-anchor="middle">100</text><text x="294.6" y="1716.0" font-size="16.25" font-weight="bold" fill="#333" text-anchor="middle">Training Loss</text><line x1="422.8" y1="1755.2" x2="445.1" y2="1755.2" stroke="#a3cf8a" stroke-width="1.5" stroke-opacity="0.85"/><text x="449.8" y="1758.7" font-size="10.4" fill="#5f5f5f">Resnet-18</text><line x1="422.8" y1="1771.0" x2="445.1" y2="1771.0" stroke="#ea8443" stroke-width="1.5" stroke-opacity="0.85"/><text x="449.8" y="1774.5" font-size="10.4" fill="#5f5f5f">Resnet-34</text><line x1="422.8" y1="1787.0" x2="445.1" y2="1787.0" stroke="#8fabda" stroke-width="1.5" stroke-opacity="0.85"/><text x="449.8" y="1790.5" font-size="10.4" fill="#5f5f5f">Resnet-50</text><text x="0" y="3.9" font-size="11.8" fill="#5f5f5f" text-anchor="middle" transform="translate(79.3 1855.4) rotate(-90)">Loss</text><text x="314.6" y="2018.8" font-size="11.5" fill="#5f5f5f" text-anchor="middle">Epoch</text></g>
<g><clipPath id="cFR"><rect x="560.1" y="1722.5" width="407.6" height="259.0"/></clipPath><path d="M561.60 1982.00 C562.80 1920.55 564.00 1829.10 565.19 1797.66 C566.26 1797.66 567.32 1803.88 568.39 1803.88 C570.12 1803.24 571.85 1796.40 573.58 1794.56 C576.38 1791.57 579.17 1790.59 581.97 1789.38 C583.97 1788.52 585.96 1789.27 587.96 1788.34 C589.69 1787.54 591.42 1784.20 593.15 1784.20 C594.88 1784.55 596.61 1788.34 598.34 1790.41 C600.08 1792.49 601.81 1795.25 603.54 1796.63 C605.27 1798.01 607.00 1798.70 608.73 1798.70 C610.86 1798.32 612.99 1795.43 615.12 1794.56 C617.18 1793.71 619.25 1793.52 621.31 1793.52 C622.71 1794.78 624.11 1803.88 625.50 1803.88 C627.50 1802.86 629.50 1792.49 631.50 1788.34 C633.49 1784.20 635.49 1779.02 637.49 1779.02 C638.88 1780.73 640.28 1799.91 641.68 1800.77 C643.08 1800.77 644.48 1784.20 645.87 1784.20 C647.20 1788.28 648.54 1825.26 649.87 1825.88 C651.47 1825.88 653.06 1794.21 654.66 1788.34 C656.66 1786.27 658.65 1788.29 660.65 1786.27 C663.45 1783.45 666.24 1774.30 669.04 1773.84 C670.50 1773.84 671.97 1773.84 673.43 1784.20 C674.90 1798.91 676.36 1858.52 677.83 1862.13 C679.02 1862.13 680.22 1815.88 681.42 1803.88 C682.88 1789.21 684.35 1782.13 685.81 1782.13 C687.14 1782.29 688.48 1804.76 689.81 1804.91 C691.54 1804.91 693.27 1783.16 695.00 1783.16 C697.13 1785.69 699.26 1817.49 701.39 1818.63 C703.12 1818.63 704.85 1789.38 706.58 1789.38 C707.65 1790.30 708.71 1825.73 709.78 1825.88 C711.11 1825.88 712.44 1794.38 713.77 1790.41 C715.37 1790.41 716.97 1799.73 718.56 1799.73 C719.76 1798.11 720.96 1779.87 722.16 1779.02 C723.89 1779.02 725.62 1790.59 727.35 1793.52 C729.08 1796.46 730.81 1793.52 732.54 1796.63 C734.14 1802.14 735.74 1827.95 737.34 1827.95 C738.80 1827.13 740.26 1798.29 741.73 1791.45 C743.46 1783.36 745.19 1783.94 746.92 1783.16 C749.05 1783.16 751.18 1785.00 753.31 1786.27 C754.64 1787.07 755.97 1786.27 757.31 1789.38 C758.90 1796.39 760.50 1823.66 762.10 1824.85 C764.23 1824.85 766.36 1801.58 768.49 1797.66 C770.49 1797.66 772.48 1801.88 774.48 1802.06 C776.21 1802.06 777.94 1798.70 779.67 1798.70 C781.40 1799.00 783.13 1800.90 784.86 1803.88 C786.60 1806.85 788.33 1815.94 790.06 1816.56 C792.19 1816.56 794.32 1813.02 796.45 1808.02 C798.18 1803.96 799.91 1792.31 801.64 1789.38 C803.37 1789.38 805.10 1789.38 806.83 1790.41 C809.23 1793.22 811.62 1803.88 814.02 1803.88 C816.15 1803.55 818.28 1790.48 820.41 1788.34 C822.41 1788.34 824.41 1788.34 826.40 1791.45 C828.80 1797.71 831.20 1822.58 833.59 1822.78 C835.32 1822.78 837.05 1797.57 838.78 1792.49 C841.31 1785.24 843.84 1786.88 846.37 1785.24 C848.10 1784.20 849.83 1784.20 851.56 1784.20 C853.30 1785.75 855.03 1792.63 856.76 1794.56 C858.75 1796.63 860.75 1795.63 862.75 1796.63 C864.88 1797.70 867.01 1800.77 869.14 1800.77 C871.13 1799.77 873.13 1790.57 875.13 1790.41 C877.66 1790.41 880.19 1799.73 882.72 1799.73 C884.98 1799.08 887.24 1786.27 889.51 1786.27 C890.71 1786.63 891.90 1802.69 893.10 1802.84 C894.70 1802.84 896.30 1788.39 897.89 1787.31 C899.36 1787.31 900.82 1796.27 902.29 1796.63 C903.62 1796.63 904.95 1789.64 906.28 1789.38 C908.41 1789.38 910.54 1793.77 912.67 1794.56 C916.13 1795.59 919.60 1795.59 923.06 1795.59 C925.19 1795.46 927.32 1793.52 929.45 1793.52 C931.44 1793.52 933.44 1795.59 935.44 1795.59 C939.57 1795.59 943.69 1793.52 947.82 1793.52 C949.68 1794.06 951.55 1800.77 953.41 1800.77 C955.01 1800.77 956.61 1794.76 958.20 1793.52 C959.27 1793.52 960.33 1794.21 961.40 1794.56" fill="none" stroke="#a3cf8a" stroke-width="1.45" stroke-linejoin="round" clip-path="url(#cFR)"/><path d="M561.60 1982.00 C563.46 1922.63 565.33 1848.98 567.19 1803.88 C567.92 1793.52 568.66 1794.21 569.39 1793.52 C570.12 1793.52 570.85 1793.52 571.59 1799.73 C572.38 1813.60 573.18 1873.26 573.98 1873.26 C575.18 1872.85 576.38 1810.44 577.58 1797.66 C579.00 1789.38 580.43 1790.45 581.85 1789.38 C584.55 1788.34 587.25 1789.38 589.96 1788.34 C592.45 1787.35 594.94 1783.16 597.43 1783.16 C598.80 1784.88 600.17 1801.44 601.54 1802.84 C602.87 1802.84 604.20 1792.93 605.53 1791.45 C607.00 1791.45 608.46 1791.45 609.93 1793.52 C611.13 1795.23 612.32 1802.84 613.52 1802.84 C614.85 1801.57 616.18 1787.21 617.52 1786.27 C619.11 1786.27 620.71 1796.04 622.31 1796.63 C623.51 1796.63 624.71 1789.38 625.90 1789.38 C627.10 1793.05 628.30 1818.63 629.50 1818.63 C630.96 1818.44 632.43 1788.34 633.89 1788.34 C635.22 1794.14 636.55 1854.28 637.89 1855.14 C639.22 1855.14 640.55 1802.64 641.88 1793.52 C643.34 1793.52 644.81 1797.66 646.27 1797.66 C648.00 1796.73 649.73 1789.72 651.47 1788.34 C653.20 1788.34 654.93 1788.34 656.66 1789.38 C658.39 1791.10 660.12 1798.70 661.85 1798.70 C663.58 1798.53 665.31 1788.34 667.04 1788.34 C669.30 1791.72 671.57 1816.56 673.83 1816.56 C675.43 1816.13 677.03 1791.31 678.62 1785.24 C679.96 1783.16 681.29 1783.16 682.62 1783.16 C683.68 1787.04 684.75 1810.62 685.81 1811.38 C687.14 1811.38 688.48 1789.37 689.81 1788.34 C691.27 1788.34 692.74 1802.70 694.20 1804.91 C695.93 1804.91 697.66 1804.91 699.39 1802.84 C701.39 1798.22 703.39 1779.42 705.38 1779.02 C706.85 1779.02 708.31 1798.96 709.78 1800.77 C711.11 1800.77 712.44 1789.38 713.77 1789.38 C715.10 1790.59 716.43 1804.57 717.77 1808.02 C718.83 1808.02 719.90 1808.02 720.96 1808.02 C722.29 1809.03 723.62 1813.46 724.95 1813.46 C726.42 1810.02 727.88 1791.82 729.35 1788.34 C730.68 1788.34 732.01 1793.52 733.34 1793.52 C734.81 1793.52 736.27 1788.34 737.74 1788.34 C739.07 1795.95 740.40 1840.38 741.73 1841.42 C743.06 1841.42 744.39 1794.90 745.72 1794.56 C747.05 1794.56 748.39 1839.35 749.72 1839.35 C751.18 1837.90 752.65 1791.60 754.11 1786.27 C755.71 1786.27 757.31 1800.14 758.90 1805.95 C761.03 1813.69 763.16 1826.92 765.29 1826.92 C766.63 1824.79 767.96 1791.78 769.29 1789.38 C771.02 1789.38 772.75 1804.74 774.48 1810.35 C775.55 1813.80 776.61 1816.56 777.68 1816.56 C778.87 1813.59 780.07 1793.52 781.27 1793.52 C782.47 1794.21 783.67 1820.71 784.86 1820.71 C786.46 1819.72 788.06 1791.84 789.66 1788.34 C791.25 1788.34 792.85 1794.23 794.45 1799.73 C795.78 1804.32 797.11 1818.63 798.44 1818.63 C799.78 1818.46 801.11 1802.18 802.44 1798.70 C804.57 1793.12 806.70 1791.45 808.83 1791.45 C810.29 1802.98 811.76 1883.62 813.22 1883.62 C814.82 1882.72 816.42 1798.29 818.01 1786.27 C819.48 1786.27 820.94 1808.65 822.41 1814.49 C823.47 1816.56 824.54 1815.49 825.60 1816.56 C826.93 1817.91 828.27 1821.74 829.60 1821.74 C830.93 1816.35 832.26 1787.86 833.59 1784.20 C835.06 1784.20 836.52 1797.43 837.98 1798.70 C839.32 1798.70 840.65 1791.45 841.98 1791.45 C843.44 1793.85 844.91 1812.18 846.37 1812.42 C849.03 1812.42 851.70 1797.02 854.36 1793.52 C856.49 1793.52 858.62 1793.52 860.75 1793.52 C862.48 1794.80 864.21 1801.76 865.94 1802.06 C868.07 1802.06 870.20 1795.59 872.33 1795.59 C874.06 1797.29 875.79 1813.46 877.53 1813.46 C880.19 1812.41 882.85 1793.72 885.51 1790.41 C887.64 1790.41 889.77 1793.12 891.90 1795.59 C893.63 1797.60 895.37 1803.70 897.10 1803.88 C898.83 1803.88 900.56 1797.43 902.29 1796.63 C905.75 1796.63 909.21 1796.63 912.67 1796.63 C915.07 1797.47 917.47 1802.44 919.86 1802.84 C921.59 1802.84 923.32 1798.70 925.05 1798.70 C927.85 1799.02 930.65 1803.63 933.44 1804.39 C937.57 1804.39 941.70 1804.39 945.82 1804.39 C951.01 1804.39 956.21 1804.39 961.40 1804.39" fill="none" stroke="#ea8443" stroke-width="1.45" stroke-linejoin="round" clip-path="url(#cFR)"/><path d="M562.80 1982.00 C564.66 1926.85 566.53 1856.32 568.39 1816.56 C569.45 1794.56 570.52 1797.83 571.59 1794.56 C573.58 1788.42 575.58 1789.21 577.58 1788.34 C580.37 1788.34 583.17 1788.34 585.96 1788.34 C587.29 1788.68 588.63 1791.45 589.96 1791.45 C591.42 1791.27 592.89 1787.31 594.35 1787.31 C596.41 1787.51 598.48 1787.31 600.54 1792.49 C602.21 1799.46 603.87 1834.17 605.53 1834.17 C607.00 1833.20 608.46 1790.45 609.93 1786.27 C611.13 1786.27 612.32 1811.06 613.52 1811.38 C614.85 1811.38 616.18 1790.54 617.52 1788.34 C620.84 1788.34 624.17 1788.34 627.50 1788.34 C629.63 1788.07 631.76 1786.27 633.89 1786.27 C635.22 1787.47 636.55 1790.54 637.89 1797.66 C639.22 1804.78 640.55 1828.99 641.88 1828.99 C643.34 1827.00 644.81 1794.09 646.27 1786.27 C647.60 1784.20 648.94 1784.20 650.27 1784.20 C651.73 1785.47 653.20 1793.12 654.66 1793.52 C655.73 1793.52 656.79 1786.27 657.86 1786.27 C659.19 1790.54 660.52 1816.26 661.85 1816.56 C663.58 1816.56 665.31 1792.56 667.04 1788.34 C669.17 1788.34 671.30 1788.34 673.43 1788.34 C674.76 1789.94 676.09 1788.34 677.43 1800.77 C678.89 1821.70 680.35 1908.21 681.82 1908.21 C683.42 1905.87 685.01 1804.73 686.61 1787.31 C688.74 1786.27 690.87 1786.27 693.00 1786.27 C694.60 1788.19 696.20 1800.41 697.80 1800.77 C699.26 1800.77 700.72 1790.75 702.19 1788.34 C704.72 1784.19 707.25 1781.09 709.78 1781.09 C711.11 1781.69 712.44 1781.09 713.77 1793.52 C715.10 1807.03 716.43 1862.13 717.77 1862.13 C719.23 1859.60 720.69 1789.66 722.16 1779.02 C723.89 1779.02 725.62 1790.40 727.35 1792.49 C729.35 1792.49 731.35 1792.49 733.34 1792.49 C734.81 1793.07 736.27 1792.49 737.74 1796.63 C739.07 1802.75 740.40 1828.43 741.73 1831.06 C743.06 1831.06 744.39 1819.02 745.72 1812.42 C747.05 1805.82 748.39 1791.45 749.72 1791.45 C751.18 1792.35 752.65 1807.54 754.11 1817.60 C755.58 1827.65 757.04 1851.77 758.50 1851.77 C760.37 1848.87 762.23 1813.82 764.10 1802.06 C765.69 1791.99 767.29 1786.27 768.89 1786.27 C770.75 1788.13 772.62 1806.38 774.48 1812.42 C775.94 1817.17 777.41 1814.84 778.87 1818.63 C779.81 1821.05 780.74 1831.06 781.67 1831.06 C783.00 1830.66 784.33 1816.56 785.66 1816.56 C786.99 1821.22 788.33 1859.02 789.66 1859.02 C791.25 1858.65 792.85 1820.01 794.45 1814.49 C796.45 1814.49 798.44 1821.74 800.44 1821.74 C802.04 1819.55 803.64 1799.73 805.23 1799.73 C806.57 1807.54 807.90 1873.26 809.23 1873.26 C810.83 1870.81 812.42 1797.33 814.02 1786.27 C815.35 1786.27 816.68 1803.55 818.01 1812.42 C819.08 1819.52 820.14 1833.25 821.21 1834.17 C823.34 1834.17 825.47 1828.05 827.60 1820.71 C829.60 1813.82 831.59 1791.85 833.59 1791.45 C835.06 1791.45 836.52 1816.30 837.98 1818.63 C839.98 1818.63 841.98 1808.02 843.98 1808.02 C845.71 1811.22 847.44 1839.35 849.17 1839.35 C851.70 1836.07 854.23 1795.96 856.76 1791.45 C858.49 1791.45 860.22 1811.32 861.95 1816.56 C864.35 1823.83 866.74 1828.99 869.14 1828.99 C870.47 1826.86 871.80 1799.85 873.13 1798.70 C874.60 1798.70 876.06 1821.74 877.53 1821.74 C879.52 1821.74 881.52 1801.89 883.52 1798.70 C885.25 1798.70 886.98 1803.88 888.71 1803.88 C890.44 1803.19 892.17 1794.56 893.90 1794.56 C896.70 1798.66 899.49 1819.49 902.29 1823.81 C904.68 1823.81 907.08 1823.62 909.48 1818.63 C910.94 1815.59 912.41 1801.96 913.87 1799.73 C915.87 1799.73 917.86 1802.71 919.86 1802.84 C923.06 1802.84 926.25 1800.77 929.45 1800.77 C932.91 1800.95 936.37 1802.86 939.83 1803.88 C942.23 1804.58 944.62 1805.95 947.02 1805.95 C949.42 1805.95 951.81 1803.88 954.21 1803.88 C955.41 1804.48 956.61 1811.38 957.80 1811.38 C959.00 1811.38 960.20 1806.38 961.40 1803.88" fill="none" stroke="#8fabda" stroke-width="1.45" stroke-linejoin="round" clip-path="url(#cFR)"/><rect x="560.1" y="1723.5" width="407.6" height="258.0" fill="none" stroke="#111" stroke-width="1.95" stroke-linejoin="round"/><line x1="555.6" y1="1981.5" x2="560.1" y2="1981.5" stroke="#333" stroke-width="1"/><text x="552.3" y="1985.2" font-size="10" fill="#5f5f5f" text-anchor="end">0</text><line x1="555.6" y1="1955.7" x2="560.1" y2="1955.7" stroke="#333" stroke-width="1"/><text x="552.3" y="1959.4" font-size="10" fill="#5f5f5f" text-anchor="end">0.1</text><line x1="555.6" y1="1929.9" x2="560.1" y2="1929.9" stroke="#333" stroke-width="1"/><text x="552.3" y="1933.6" font-size="10" fill="#5f5f5f" text-anchor="end">0.2</text><line x1="555.6" y1="1904.1" x2="560.1" y2="1904.1" stroke="#333" stroke-width="1"/><text x="552.3" y="1907.8" font-size="10" fill="#5f5f5f" text-anchor="end">0.3</text><line x1="555.6" y1="1878.3" x2="560.1" y2="1878.3" stroke="#333" stroke-width="1"/><text x="552.3" y="1882.0" font-size="10" fill="#5f5f5f" text-anchor="end">0.4</text><line x1="555.6" y1="1852.5" x2="560.1" y2="1852.5" stroke="#333" stroke-width="1"/><text x="552.3" y="1856.2" font-size="10" fill="#5f5f5f" text-anchor="end">0.5</text><line x1="555.6" y1="1826.7" x2="560.1" y2="1826.7" stroke="#333" stroke-width="1"/><text x="552.3" y="1830.4" font-size="10" fill="#5f5f5f" text-anchor="end">0.6</text><line x1="555.6" y1="1800.9" x2="560.1" y2="1800.9" stroke="#333" stroke-width="1"/><text x="552.3" y="1804.6" font-size="10" fill="#5f5f5f" text-anchor="end">0.7</text><line x1="555.6" y1="1775.1" x2="560.1" y2="1775.1" stroke="#333" stroke-width="1"/><text x="552.3" y="1778.8" font-size="10" fill="#5f5f5f" text-anchor="end">0.8</text><line x1="555.6" y1="1749.3" x2="560.1" y2="1749.3" stroke="#333" stroke-width="1"/><text x="552.3" y="1753.0" font-size="10" fill="#5f5f5f" text-anchor="end">0.9</text><line x1="555.6" y1="1723.5" x2="560.1" y2="1723.5" stroke="#333" stroke-width="1"/><text x="552.3" y="1727.2" font-size="10" fill="#5f5f5f" text-anchor="end">1</text><text x="562.0" y="1997.7" font-size="10" fill="#5f5f5f" text-anchor="middle">0</text><text x="602.0" y="1997.7" font-size="10" fill="#5f5f5f" text-anchor="middle">10</text><text x="641.9" y="1997.7" font-size="10" fill="#5f5f5f" text-anchor="middle">20</text><text x="681.9" y="1997.7" font-size="10" fill="#5f5f5f" text-anchor="middle">30</text><text x="721.9" y="1997.7" font-size="10" fill="#5f5f5f" text-anchor="middle">40</text><text x="761.9" y="1997.7" font-size="10" fill="#5f5f5f" text-anchor="middle">50</text><text x="801.8" y="1997.7" font-size="10" fill="#5f5f5f" text-anchor="middle">60</text><text x="841.8" y="1997.7" font-size="10" fill="#5f5f5f" text-anchor="middle">70</text><text x="881.8" y="1997.7" font-size="10" fill="#5f5f5f" text-anchor="middle">80</text><text x="921.7" y="1997.7" font-size="10" fill="#5f5f5f" text-anchor="middle">90</text><text x="961.7" y="1997.7" font-size="10" fill="#5f5f5f" text-anchor="middle">100</text><text x="787.4" y="1716.3" font-size="16.25" font-weight="bold" fill="#333" text-anchor="middle">Validation Accuracy</text><line x1="886.8" y1="1925.2" x2="909.0" y2="1925.2" stroke="#a3cf8a" stroke-width="1.5" stroke-opacity="0.85"/><text x="912.8" y="1928.7" font-size="10.4" fill="#5f5f5f">Resnet-18</text><line x1="886.8" y1="1941.8" x2="909.0" y2="1941.8" stroke="#ea8443" stroke-width="1.5" stroke-opacity="0.85"/><text x="912.8" y="1945.3" font-size="10.4" fill="#5f5f5f">Resnet-34</text><line x1="886.8" y1="1958.3" x2="909.0" y2="1958.3" stroke="#8fabda" stroke-width="1.5" stroke-opacity="0.85"/><text x="912.8" y="1961.8" font-size="10.4" fill="#5f5f5f">Resnet-50</text><text x="0" y="3.9" font-size="11.8" fill="#5f5f5f" text-anchor="middle" transform="translate(533.3 1852.3) rotate(-90)">Accuracy</text><text x="763.7" y="2017.2" font-size="11.5" fill="#5f5f5f" text-anchor="middle">Epoch</text></g>
<g><clipPath id="cGL"><rect x="111.0" y="2058.1" width="408.7" height="259.5"/></clipPath><path d="M120.64 2170.26 C122.08 2180.22 123.51 2193.47 124.95 2200.15 C126.78 2208.64 128.61 2213.04 130.44 2215.74 C132.14 2215.74 133.84 2215.74 135.54 2215.74 C137.37 2216.19 139.19 2218.34 141.02 2218.34 C143.11 2218.34 145.21 2215.74 147.30 2215.74 C149.78 2215.74 152.26 2217.74 154.74 2218.34 C157.62 2219.04 160.49 2219.64 163.37 2219.64 C166.11 2219.43 168.86 2217.76 171.60 2217.04 C173.82 2216.46 176.04 2215.74 178.26 2215.74 C180.35 2216.37 182.45 2220.94 184.54 2220.94 C186.63 2220.94 188.72 2215.74 190.81 2215.74 C192.90 2215.74 194.99 2220.57 197.08 2220.94 C199.95 2220.94 202.83 2218.56 205.70 2218.34 C208.58 2218.34 211.45 2219.64 214.33 2219.64 C216.42 2219.46 218.51 2217.04 220.60 2217.04 C222.69 2217.47 224.78 2221.87 226.87 2222.24 C229.75 2222.24 232.62 2219.85 235.50 2219.64 C238.37 2219.64 241.25 2220.94 244.12 2220.94 C247.65 2220.94 251.18 2219.64 254.70 2219.64 C257.58 2219.83 260.45 2221.80 263.33 2222.24 C266.20 2222.24 269.08 2222.24 271.95 2222.24 C274.04 2222.97 276.13 2227.43 278.22 2227.43 C279.66 2227.26 281.10 2221.53 282.54 2220.94 C285.28 2220.94 288.02 2221.76 290.77 2222.24 C292.99 2222.62 295.21 2223.54 297.43 2223.54 C299.52 2223.54 301.61 2222.93 303.70 2222.24 C305.53 2221.63 307.36 2219.64 309.19 2219.64 C310.89 2220.06 312.59 2224.25 314.29 2224.84 C316.38 2224.84 318.47 2223.54 320.56 2223.54 C325.53 2224.15 330.49 2226.28 335.46 2227.43 C339.77 2228.44 344.08 2230.03 348.39 2230.03 C351.27 2229.69 354.14 2225.06 357.02 2224.84 C359.76 2224.84 362.50 2228.50 365.25 2228.73 C367.47 2228.73 369.69 2226.14 371.91 2226.14 C374.66 2226.14 377.40 2228.36 380.14 2228.73 C383.67 2228.73 387.20 2228.73 390.73 2228.73 C394.39 2228.73 398.05 2228.73 401.70 2228.73 C405.89 2228.50 410.07 2227.43 414.25 2227.43 C417.78 2228.03 421.30 2231.44 424.83 2232.63 C427.71 2233.61 430.58 2233.93 433.46 2233.93 C436.98 2233.93 440.51 2232.63 444.04 2232.63 C447.57 2232.63 451.10 2233.93 454.62 2233.93 C458.15 2233.93 461.68 2232.63 465.21 2232.63 C468.08 2233.02 470.96 2236.53 473.83 2236.53 C476.71 2236.53 479.58 2232.63 482.46 2232.63 C485.33 2232.63 488.21 2236.53 491.08 2236.53 C493.17 2236.53 495.26 2233.18 497.35 2232.63 C500.23 2232.63 503.10 2232.63 505.98 2232.63 C507.28 2232.77 508.59 2233.50 509.90 2233.93" fill="none" stroke="#a3cf8a" stroke-width="1.45" stroke-linejoin="round" clip-path="url(#cGL)"/><path d="M120.64 2146.87 C121.36 2158.13 122.08 2173.34 122.80 2180.65 C123.91 2191.96 125.02 2197.65 126.13 2202.74 C127.57 2209.34 129.00 2212.79 130.44 2215.74 C131.75 2218.42 133.05 2219.46 134.36 2219.64 C136.19 2219.64 138.02 2217.04 139.85 2217.04 C141.94 2217.04 144.03 2219.43 146.12 2219.64 C148.34 2219.64 150.56 2218.34 152.78 2218.34 C155.53 2218.58 158.27 2220.94 161.02 2220.94 C163.11 2220.38 165.20 2214.86 167.29 2214.44 C169.51 2214.44 171.73 2217.85 173.95 2218.34 C175.65 2218.34 177.35 2217.04 179.05 2217.04 C180.88 2217.26 182.71 2218.83 184.54 2219.64 C186.63 2220.56 188.72 2222.24 190.81 2222.24 C192.90 2221.80 194.99 2217.67 197.08 2217.04 C199.30 2217.04 201.52 2217.93 203.74 2218.34 C206.23 2218.80 208.71 2218.87 211.19 2219.64 C212.89 2220.17 214.59 2222.08 216.29 2222.24 C219.16 2222.24 222.04 2221.37 224.91 2220.94 C227.79 2220.50 230.66 2219.64 233.54 2219.64 C235.63 2219.82 237.72 2222.24 239.81 2222.24 C241.90 2222.02 243.99 2218.34 246.08 2218.34 C247.91 2218.34 249.74 2222.24 251.57 2222.24 C253.66 2222.24 255.75 2218.34 257.84 2218.34 C259.67 2218.34 261.50 2221.73 263.33 2222.24 C266.20 2222.24 269.08 2222.24 271.95 2222.24 C273.26 2222.24 274.57 2222.24 275.87 2222.24 C277.70 2221.23 279.53 2217.04 281.36 2217.04 C282.80 2217.04 284.23 2221.05 285.67 2222.24 C287.37 2223.64 289.07 2224.84 290.77 2224.84 C292.99 2224.84 295.21 2222.65 297.43 2222.24 C299.91 2222.24 302.40 2222.24 304.88 2222.24 C306.58 2222.41 308.28 2223.21 309.98 2223.54 C312.85 2224.08 315.73 2224.40 318.60 2224.84 C321.47 2225.27 324.35 2226.14 327.22 2226.14 C328.53 2226.14 329.84 2224.84 331.14 2224.84 C334.02 2225.13 336.89 2227.43 339.77 2227.43 C343.03 2227.20 346.30 2223.54 349.57 2223.54 C352.05 2223.91 354.53 2229.21 357.02 2230.03 C359.76 2230.03 362.50 2228.73 365.25 2228.73 C368.12 2228.73 371.00 2229.53 373.87 2230.03 C375.96 2230.40 378.05 2231.33 380.14 2231.33 C383.67 2230.52 387.20 2226.37 390.73 2226.14 C393.60 2226.14 396.48 2229.38 399.35 2230.03 C402.23 2230.03 405.10 2230.03 407.98 2230.03 C410.85 2230.47 413.73 2231.97 416.60 2232.63 C419.34 2233.27 422.09 2233.93 424.83 2233.93 C428.10 2233.70 431.37 2231.33 434.63 2231.33 C436.33 2231.33 438.03 2233.56 439.73 2233.93 C441.95 2233.93 444.17 2233.93 446.39 2233.93 C449.14 2234.65 451.88 2237.83 454.62 2237.83 C456.06 2237.68 457.50 2232.63 458.94 2232.63 C461.81 2232.63 464.69 2237.54 467.56 2237.83 C469.00 2237.83 470.43 2233.93 471.87 2233.93 C474.62 2233.93 477.36 2237.83 480.10 2237.83 C482.33 2237.83 484.55 2234.16 486.77 2233.93 C488.86 2233.93 490.95 2236.53 493.04 2236.53 C494.48 2236.53 495.91 2233.93 497.35 2233.93 C499.05 2234.87 500.75 2241.55 502.45 2241.73 C504.93 2241.73 507.41 2237.40 509.90 2235.23" fill="none" stroke="#ea8443" stroke-width="1.45" stroke-linejoin="round" clip-path="url(#cGL)"/><path d="M120.64 2191.05 C121.69 2197.11 122.73 2205.41 123.78 2209.24 C125.21 2214.51 126.65 2216.62 128.09 2218.34 C129.92 2220.52 131.75 2220.33 133.58 2220.94 C135.67 2221.63 137.76 2222.24 139.85 2222.24 C141.94 2222.24 144.03 2220.94 146.12 2220.94 C148.34 2220.94 150.56 2222.24 152.78 2222.24 C154.87 2221.61 156.97 2217.04 159.06 2217.04 C161.15 2217.04 163.24 2222.02 165.33 2222.24 C167.42 2222.24 169.51 2219.07 171.60 2218.34 C174.47 2217.34 177.35 2217.04 180.22 2217.04 C182.31 2217.22 184.41 2218.91 186.50 2219.64 C189.37 2220.64 192.25 2222.24 195.12 2222.24 C197.86 2221.39 200.61 2215.27 203.35 2214.44 C204.92 2214.44 206.49 2218.15 208.06 2218.34 C210.15 2218.34 212.24 2215.74 214.33 2215.74 C216.42 2215.96 218.51 2219.27 220.60 2219.64 C223.47 2219.64 226.35 2218.34 229.22 2218.34 C232.10 2218.56 234.97 2220.19 237.85 2220.94 C239.94 2221.48 242.03 2221.80 244.12 2222.24 C246.21 2222.67 248.30 2223.54 250.39 2223.54 C253.27 2222.78 256.14 2218.59 259.02 2218.34 C261.11 2218.34 263.20 2221.75 265.29 2222.24 C268.82 2222.24 272.34 2222.24 275.87 2222.24 C278.09 2222.07 280.31 2220.94 282.54 2220.94 C284.63 2220.94 286.72 2222.24 288.81 2222.24 C291.68 2222.24 294.56 2220.94 297.43 2220.94 C300.18 2220.94 302.92 2221.38 305.66 2222.24 C307.10 2222.68 308.54 2224.40 309.98 2224.84 C312.85 2225.70 315.73 2226.14 318.60 2226.14 C322.13 2225.66 325.66 2222.48 329.18 2222.24 C332.06 2222.24 334.93 2224.61 337.81 2224.84 C340.55 2224.84 343.30 2223.96 346.04 2223.54 C348.91 2223.09 351.79 2222.24 354.66 2222.24 C357.54 2222.67 360.41 2225.27 363.29 2226.14 C366.16 2227.00 369.04 2226.77 371.91 2227.43 C374.66 2228.07 377.40 2230.03 380.14 2230.03 C383.02 2230.03 385.89 2227.65 388.77 2227.43 C391.64 2227.43 394.52 2228.73 397.39 2228.73 C400.14 2228.52 402.88 2226.14 405.62 2226.14 C408.50 2226.58 411.37 2230.17 414.25 2231.33 C416.73 2232.34 419.21 2232.63 421.70 2232.63 C424.96 2232.14 428.23 2228.73 431.50 2228.73 C433.59 2229.24 435.68 2235.98 437.77 2236.53 C440.64 2236.53 443.52 2233.30 446.39 2232.63 C449.14 2232.63 451.88 2232.63 454.62 2232.63 C457.50 2233.08 460.37 2234.80 463.25 2235.23 C466.12 2235.23 469.00 2235.23 471.87 2235.23 C475.40 2235.71 478.93 2237.83 482.46 2237.83 C485.33 2237.83 488.21 2236.49 491.08 2235.23 C493.17 2234.32 495.26 2231.33 497.35 2231.33 C499.44 2231.55 501.53 2236.10 503.62 2236.53 C505.71 2236.53 507.81 2234.80 509.90 2233.93" fill="none" stroke="#8fabda" stroke-width="1.45" stroke-linejoin="round" clip-path="url(#cGL)"/><rect x="111.0" y="2059.1" width="408.7" height="258.5" fill="none" stroke="#111" stroke-width="1.95" stroke-linejoin="round"/><line x1="106.5" y1="2317.6" x2="111.0" y2="2317.6" stroke="#333" stroke-width="1"/><text x="103.2" y="2321.3" font-size="10" fill="#5f5f5f" text-anchor="end">0.6</text><line x1="106.5" y1="2188.3" x2="111.0" y2="2188.3" stroke="#333" stroke-width="1"/><text x="103.2" y="2192.0" font-size="10" fill="#5f5f5f" text-anchor="end">0.7</text><line x1="106.5" y1="2059.1" x2="111.0" y2="2059.1" stroke="#333" stroke-width="1"/><text x="103.2" y="2062.8" font-size="10" fill="#5f5f5f" text-anchor="end">0.8</text><text x="151.8" y="2334.0" font-size="10" fill="#5f5f5f" text-anchor="middle">10</text><text x="191.2" y="2334.0" font-size="10" fill="#5f5f5f" text-anchor="middle">20</text><text x="230.7" y="2334.0" font-size="10" fill="#5f5f5f" text-anchor="middle">30</text><text x="270.1" y="2334.0" font-size="10" fill="#5f5f5f" text-anchor="middle">40</text><text x="309.6" y="2334.0" font-size="10" fill="#5f5f5f" text-anchor="middle">50</text><text x="349.1" y="2334.0" font-size="10" fill="#5f5f5f" text-anchor="middle">60</text><text x="388.5" y="2334.0" font-size="10" fill="#5f5f5f" text-anchor="middle">70</text><text x="428.0" y="2334.0" font-size="10" fill="#5f5f5f" text-anchor="middle">80</text><text x="467.4" y="2334.0" font-size="10" fill="#5f5f5f" text-anchor="middle">90</text><text x="506.9" y="2334.0" font-size="10" fill="#5f5f5f" text-anchor="middle">100</text><text x="294.3" y="2050.0" font-size="16.25" font-weight="bold" fill="#333" text-anchor="middle">Training Loss</text><line x1="424.3" y1="2088.0" x2="446.8" y2="2088.0" stroke="#a3cf8a" stroke-width="1.5" stroke-opacity="0.85"/><text x="450.0" y="2091.5" font-size="10.4" fill="#5f5f5f">Resnet-18</text><line x1="424.3" y1="2103.6" x2="446.8" y2="2103.6" stroke="#ea8443" stroke-width="1.5" stroke-opacity="0.85"/><text x="450.0" y="2107.1" font-size="10.4" fill="#5f5f5f">Resnet-34</text><line x1="424.3" y1="2120.2" x2="446.8" y2="2120.2" stroke="#8fabda" stroke-width="1.5" stroke-opacity="0.85"/><text x="450.0" y="2123.7" font-size="10.4" fill="#5f5f5f">Resnet-50</text><text x="0" y="3.9" font-size="11.8" fill="#5f5f5f" text-anchor="middle" transform="translate(79.5 2188.4) rotate(-90)">Loss</text><text x="314.7" y="2352.0" font-size="11.5" fill="#5f5f5f" text-anchor="middle">Epoch</text></g>
<g><clipPath id="cGR"><rect x="559.3" y="2055.8" width="405.7" height="260.9"/></clipPath><path d="M560.00 2316.30 C561.26 2251.73 562.52 2124.10 563.78 2122.60 C616.91 2122.60 670.03 2122.60 723.16 2122.60 C724.34 2122.62 725.52 2122.93 726.71 2124.68 C727.63 2126.04 728.55 2131.94 729.47 2131.94 C731.44 2131.47 733.41 2123.69 735.38 2122.60 C739.06 2122.60 742.74 2122.60 746.42 2122.60 C747.60 2122.01 748.79 2115.34 749.97 2115.34 C751.68 2115.34 753.39 2122.38 755.10 2122.60 C772.31 2122.60 789.53 2122.60 806.75 2122.60 C808.85 2122.76 810.95 2126.62 813.06 2127.01 C815.16 2127.01 817.26 2125.26 819.37 2124.94 C821.73 2124.94 824.10 2124.94 826.46 2124.94 C828.57 2126.89 830.67 2137.38 832.77 2137.38 C834.22 2137.24 835.66 2124.91 837.11 2123.90 C841.58 2123.90 846.05 2124.35 850.52 2124.94 C853.93 2125.39 857.35 2127.01 860.77 2127.01 C862.87 2126.81 864.97 2123.38 867.08 2123.38 C870.23 2124.00 873.39 2130.12 876.54 2130.12 C878.91 2130.12 881.27 2123.38 883.64 2123.38 C886.40 2123.38 889.16 2129.69 891.92 2130.12 C894.68 2130.12 897.44 2126.77 900.20 2125.97 C904.01 2124.87 907.82 2124.61 911.63 2124.42 C914.79 2124.42 917.94 2124.90 921.10 2124.94 C932.53 2124.94 943.97 2124.94 955.40 2124.94" fill="none" stroke="#a3cf8a" stroke-width="1.45" stroke-linejoin="round" clip-path="url(#cGR)"/><path d="M560.00 2316.30 C561.67 2287.17 563.33 2249.33 565.00 2228.92 C566.24 2213.81 567.47 2212.84 568.71 2209.73 C570.01 2209.73 571.31 2209.73 572.61 2209.73 C573.57 2197.40 574.53 2127.67 575.49 2122.60 C580.03 2122.60 584.56 2122.60 589.10 2122.60 C590.07 2127.90 591.04 2212.58 592.01 2212.58 C593.01 2212.58 594.01 2127.83 595.01 2122.60 C599.74 2122.60 604.47 2122.60 609.20 2122.60 C610.07 2127.36 610.94 2214.65 611.81 2214.65 C612.65 2214.65 613.49 2128.00 614.33 2122.60 C618.27 2122.60 622.22 2122.60 626.16 2122.60 C626.95 2122.67 627.74 2123.90 628.53 2123.90 C629.31 2123.90 630.10 2122.73 630.89 2122.60 C632.86 2122.60 634.83 2122.60 636.81 2122.60 C637.73 2124.14 638.65 2137.12 639.57 2137.12 C641.41 2137.12 643.25 2123.35 645.09 2122.60 C655.21 2122.60 665.33 2122.60 675.45 2122.60 C676.10 2122.65 676.76 2124.68 677.42 2124.68 C678.73 2124.68 680.05 2122.60 681.36 2122.60 C683.20 2124.62 685.04 2133.97 686.88 2135.05 C688.59 2135.05 690.30 2131.00 692.01 2128.83 C694.37 2125.81 696.74 2120.70 699.11 2119.49 C700.81 2119.49 702.52 2122.15 704.23 2122.60 C706.47 2122.60 708.70 2122.60 710.93 2122.60 C711.99 2121.83 713.04 2115.34 714.09 2115.34 C715.40 2115.34 716.72 2121.85 718.03 2122.60 C720.92 2122.60 723.81 2122.60 726.71 2122.60 C727.63 2122.77 728.55 2124.68 729.47 2124.68 C730.52 2124.68 731.57 2122.60 732.62 2122.60 C734.33 2123.67 736.04 2129.86 737.75 2129.86 C739.06 2129.86 740.38 2122.91 741.69 2122.60 C750.23 2122.60 758.78 2122.80 767.32 2122.86 C770.08 2122.86 772.84 2122.86 775.60 2122.86 C777.57 2122.14 779.54 2117.68 781.51 2117.68 C784.01 2118.45 786.51 2126.17 789.01 2127.01 C791.11 2127.01 793.21 2122.90 795.31 2122.34 C799.13 2122.34 802.94 2122.34 806.75 2122.34 C809.25 2122.55 811.74 2122.92 814.24 2123.90 C816.61 2124.82 818.97 2128.05 821.34 2128.05 C823.84 2127.78 826.33 2123.11 828.83 2122.34 C832.51 2122.34 836.19 2122.34 839.87 2122.34 C842.76 2122.72 845.65 2123.79 848.54 2124.94 C852.62 2126.55 856.69 2130.64 860.77 2130.64 C863.53 2130.36 866.29 2122.86 869.05 2122.86 C872.86 2122.86 876.67 2130.64 880.48 2130.64 C884.29 2130.55 888.11 2123.40 891.92 2122.34 C894.68 2122.34 897.44 2124.79 900.20 2125.20 C903.35 2125.20 906.51 2125.20 909.66 2124.94 C910.71 2124.66 911.76 2121.88 912.82 2121.82 C927.01 2121.82 941.21 2122.17 955.40 2122.34" fill="none" stroke="#ea8443" stroke-width="1.45" stroke-linejoin="round" clip-path="url(#cGR)"/><path d="M560.00 2316.30 C562.30 2251.73 564.60 2134.78 566.90 2122.60 C576.79 2122.60 586.69 2122.60 596.59 2122.60 C597.64 2123.00 598.69 2135.05 599.74 2135.05 C600.79 2135.05 601.84 2123.05 602.90 2122.60 C611.57 2122.60 620.25 2122.60 628.92 2122.60 C629.84 2122.90 630.76 2131.94 631.68 2131.94 C632.60 2131.94 633.52 2123.59 634.44 2122.60 C636.41 2122.60 638.38 2122.60 640.35 2122.60 C641.27 2123.59 642.19 2131.94 643.11 2131.94 C644.03 2131.94 644.95 2123.01 645.87 2122.60 C652.05 2122.60 658.23 2122.60 664.41 2122.60 C665.33 2122.69 666.25 2124.68 667.17 2124.68 C668.09 2124.68 669.01 2122.76 669.93 2122.60 C673.08 2122.60 676.24 2122.60 679.39 2122.60 C680.70 2135.08 682.02 2249.92 683.33 2249.92 C684.52 2249.92 685.70 2126.08 686.88 2122.60 C700.16 2122.60 713.43 2122.60 726.71 2122.60 C727.63 2122.80 728.55 2131.94 729.47 2131.94 C730.52 2131.94 731.57 2122.99 732.62 2122.60 C740.11 2122.60 747.60 2122.60 755.10 2122.60 C755.75 2122.82 756.41 2130.64 757.07 2130.64 C759.83 2129.87 762.59 2120.93 765.35 2119.75 C767.06 2119.75 768.76 2124.59 770.47 2124.94 C772.18 2124.94 773.89 2121.89 775.60 2121.82 C783.22 2121.82 790.85 2123.22 798.47 2123.90 C800.57 2124.09 802.67 2124.42 804.78 2124.42 C808.19 2123.56 811.61 2119.75 815.03 2119.75 C817.13 2120.74 819.24 2131.24 821.34 2132.20 C823.05 2132.20 824.76 2126.80 826.46 2124.94 C828.57 2122.65 830.67 2119.75 832.77 2119.75 C834.22 2120.03 835.66 2126.68 837.11 2127.01 C839.48 2127.01 841.84 2122.91 844.21 2122.34 C847.62 2122.34 851.04 2122.86 854.46 2122.86 C856.56 2122.53 858.67 2119.75 860.77 2119.75 C861.82 2120.10 862.87 2125.97 863.92 2125.97 C865.63 2125.97 867.34 2120.29 869.05 2119.75 C871.15 2119.75 873.25 2122.34 875.36 2122.34 C877.07 2122.34 878.77 2119.84 880.48 2119.75 C882.19 2119.75 883.90 2121.82 885.61 2121.82 C887.05 2121.82 888.50 2120.03 889.95 2119.75 C892.05 2119.75 894.15 2119.75 896.25 2119.75 C899.02 2122.20 901.78 2132.34 904.54 2132.72 C906.90 2132.72 909.27 2123.43 911.63 2121.82 C913.34 2121.82 915.05 2124.42 916.76 2124.42 C918.20 2124.42 919.65 2121.92 921.10 2121.82 C932.53 2121.82 943.97 2121.82 955.40 2121.82" fill="none" stroke="#8fabda" stroke-width="1.45" stroke-linejoin="round" clip-path="url(#cGR)"/><rect x="559.3" y="2056.8" width="405.7" height="259.9" fill="none" stroke="#111" stroke-width="1.95" stroke-linejoin="round"/><line x1="554.8" y1="2316.7" x2="559.3" y2="2316.7" stroke="#333" stroke-width="1"/><text x="551.5" y="2320.4" font-size="10" fill="#5f5f5f" text-anchor="end">0</text><line x1="554.8" y1="2264.7" x2="559.3" y2="2264.7" stroke="#333" stroke-width="1"/><text x="551.5" y="2268.4" font-size="10" fill="#5f5f5f" text-anchor="end">20</text><line x1="554.8" y1="2212.7" x2="559.3" y2="2212.7" stroke="#333" stroke-width="1"/><text x="551.5" y="2216.4" font-size="10" fill="#5f5f5f" text-anchor="end">40</text><line x1="554.8" y1="2160.8" x2="559.3" y2="2160.8" stroke="#333" stroke-width="1"/><text x="551.5" y="2164.5" font-size="10" fill="#5f5f5f" text-anchor="end">60</text><line x1="554.8" y1="2108.8" x2="559.3" y2="2108.8" stroke="#333" stroke-width="1"/><text x="551.5" y="2112.5" font-size="10" fill="#5f5f5f" text-anchor="end">80</text><line x1="554.8" y1="2056.8" x2="559.3" y2="2056.8" stroke="#333" stroke-width="1"/><text x="551.5" y="2060.5" font-size="10" fill="#5f5f5f" text-anchor="end">100</text><text x="600.5" y="2332.2" font-size="10" fill="#5f5f5f" text-anchor="middle">10</text><text x="640.0" y="2332.2" font-size="10" fill="#5f5f5f" text-anchor="middle">20</text><text x="679.5" y="2332.2" font-size="10" fill="#5f5f5f" text-anchor="middle">30</text><text x="719.0" y="2332.2" font-size="10" fill="#5f5f5f" text-anchor="middle">40</text><text x="758.5" y="2332.2" font-size="10" fill="#5f5f5f" text-anchor="middle">50</text><text x="797.9" y="2332.2" font-size="10" fill="#5f5f5f" text-anchor="middle">60</text><text x="837.4" y="2332.2" font-size="10" fill="#5f5f5f" text-anchor="middle">70</text><text x="876.9" y="2332.2" font-size="10" fill="#5f5f5f" text-anchor="middle">80</text><text x="916.4" y="2332.2" font-size="10" fill="#5f5f5f" text-anchor="middle">90</text><text x="955.9" y="2332.2" font-size="10" fill="#5f5f5f" text-anchor="middle">100</text><text x="748.6" y="2049.2" font-size="16.25" font-weight="bold" fill="#333" text-anchor="middle">Validation Accuracy</text><line x1="884.2" y1="2260.2" x2="907.8" y2="2260.2" stroke="#a3cf8a" stroke-width="1.5" stroke-opacity="0.85"/><text x="910.4" y="2263.7" font-size="10.4" fill="#5f5f5f">Resnet-18</text><line x1="884.2" y1="2275.9" x2="907.8" y2="2275.9" stroke="#ea8443" stroke-width="1.5" stroke-opacity="0.85"/><text x="910.4" y="2279.4" font-size="10.4" fill="#5f5f5f">Resnet-34</text><line x1="884.2" y1="2291.5" x2="907.8" y2="2291.5" stroke="#8fabda" stroke-width="1.5" stroke-opacity="0.85"/><text x="910.4" y="2295.0" font-size="10.4" fill="#5f5f5f">Resnet-50</text><text x="0" y="3.9" font-size="11.8" fill="#5f5f5f" text-anchor="middle" transform="translate(532.8 2186.2) rotate(-90)">Accuracy</text><text x="761.4" y="2351.0" font-size="11.5" fill="#5f5f5f" text-anchor="middle">Epoch</text></g>
</svg></body></html>
